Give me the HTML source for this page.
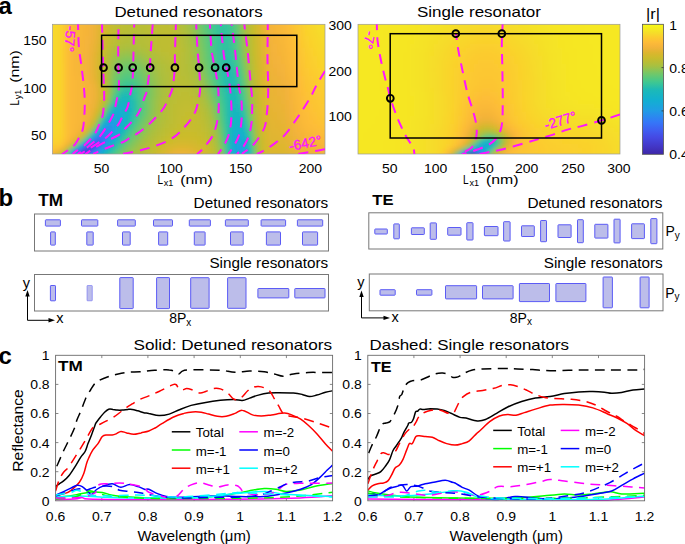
<!DOCTYPE html>
<html><head><meta charset="utf-8"><style>
html,body{margin:0;padding:0;background:#fff;width:685px;height:544px;overflow:hidden}
svg{display:block}
text{font-family:'Liberation Sans',sans-serif}
</style></head><body>
<svg width="685" height="544" viewBox="0 0 685 544">
<defs><linearGradient id="cbar" x1="0" y1="0" x2="0" y2="1"><stop offset="0.0000" stop-color="#f8fa14"/><stop offset="0.0156" stop-color="#f7f319"/><stop offset="0.0312" stop-color="#f6ec1e"/><stop offset="0.0469" stop-color="#f6e624"/><stop offset="0.0625" stop-color="#f5df28"/><stop offset="0.0781" stop-color="#f8d72b"/><stop offset="0.0938" stop-color="#fbcf2d"/><stop offset="0.1094" stop-color="#fcc830"/><stop offset="0.1250" stop-color="#fdc134"/><stop offset="0.1406" stop-color="#fdbb38"/><stop offset="0.1562" stop-color="#f9b739"/><stop offset="0.1719" stop-color="#f4b43a"/><stop offset="0.1875" stop-color="#eeb338"/><stop offset="0.2031" stop-color="#e5b433"/><stop offset="0.2188" stop-color="#ddb62e"/><stop offset="0.2344" stop-color="#d5b82d"/><stop offset="0.2500" stop-color="#cebb2c"/><stop offset="0.2656" stop-color="#c6bc2e"/><stop offset="0.2812" stop-color="#bdbd33"/><stop offset="0.2969" stop-color="#b5be38"/><stop offset="0.3125" stop-color="#acc03e"/><stop offset="0.3281" stop-color="#a1c145"/><stop offset="0.3438" stop-color="#93c350"/><stop offset="0.3594" stop-color="#85c55a"/><stop offset="0.3750" stop-color="#76c765"/><stop offset="0.3906" stop-color="#6ac86f"/><stop offset="0.4062" stop-color="#5dc878"/><stop offset="0.4219" stop-color="#51c882"/><stop offset="0.4375" stop-color="#45c88c"/><stop offset="0.4531" stop-color="#3ac696"/><stop offset="0.4688" stop-color="#31c2a0"/><stop offset="0.4844" stop-color="#28beaa"/><stop offset="0.5000" stop-color="#1ebab5"/><stop offset="0.5156" stop-color="#1ab8bb"/><stop offset="0.5312" stop-color="#18b6c0"/><stop offset="0.5469" stop-color="#16b4c5"/><stop offset="0.5625" stop-color="#14b2ca"/><stop offset="0.5781" stop-color="#12b0cf"/><stop offset="0.5938" stop-color="#14add3"/><stop offset="0.6094" stop-color="#17aad7"/><stop offset="0.6250" stop-color="#19a6db"/><stop offset="0.6406" stop-color="#1ca2df"/><stop offset="0.6562" stop-color="#1f9fe3"/><stop offset="0.6719" stop-color="#2299e7"/><stop offset="0.6875" stop-color="#2692ea"/><stop offset="0.7031" stop-color="#298cee"/><stop offset="0.7188" stop-color="#2d85f1"/><stop offset="0.7344" stop-color="#307ff4"/><stop offset="0.7500" stop-color="#3478f8"/><stop offset="0.7656" stop-color="#3772f7"/><stop offset="0.7812" stop-color="#396cf5"/><stop offset="0.7969" stop-color="#3c65f3"/><stop offset="0.8125" stop-color="#3f5ff2"/><stop offset="0.8281" stop-color="#4159ee"/><stop offset="0.8438" stop-color="#4253ea"/><stop offset="0.8594" stop-color="#444de6"/><stop offset="0.8750" stop-color="#4548e2"/><stop offset="0.8906" stop-color="#4444db"/><stop offset="0.9062" stop-color="#4440d4"/><stop offset="0.9219" stop-color="#433bce"/><stop offset="0.9375" stop-color="#4337c7"/><stop offset="0.9531" stop-color="#4233bf"/><stop offset="0.9688" stop-color="#402fb7"/><stop offset="0.9844" stop-color="#3f2ab0"/><stop offset="1.0000" stop-color="#3e26a8"/></linearGradient></defs>
<clipPath id="clipL"><rect x="52.5" y="24.3" width="272.5" height="129.7"/></clipPath>
<filter id="blurL" x="-5%" y="-5%" width="110%" height="110%"><feGaussianBlur stdDeviation="2.0"/></filter>
<g clip-path="url(#clipL)"><g filter="url(#blurL)" shape-rendering="crispEdges">
<path fill="#f8d82a" d="M44.5 16.3h4v4h-4zM48.5 16.3h4v4h-4zM52.5 16.3h4v4h-4zM44.5 20.3h4v4h-4zM48.5 20.3h4v4h-4zM52.5 20.3h4v4h-4zM44.5 24.3h4v4h-4zM48.5 24.3h4v4h-4zM52.5 24.3h4v4h-4zM44.5 28.3h4v4h-4zM48.5 28.3h4v4h-4zM52.5 28.3h4v4h-4zM312.5 28.3h4v4h-4zM44.5 32.3h4v4h-4zM48.5 32.3h4v4h-4zM52.5 32.3h4v4h-4zM44.5 36.3h4v4h-4zM48.5 36.3h4v4h-4zM52.5 36.3h4v4h-4zM316.5 36.3h4v4h-4zM44.5 40.3h4v4h-4zM48.5 40.3h4v4h-4zM52.5 40.3h4v4h-4zM44.5 44.3h4v4h-4zM48.5 44.3h4v4h-4zM52.5 44.3h4v4h-4zM44.5 48.3h4v4h-4zM48.5 48.3h4v4h-4zM52.5 48.3h4v4h-4zM320.5 48.3h4v4h-4zM44.5 52.3h4v4h-4zM48.5 52.3h4v4h-4zM52.5 52.3h4v4h-4zM44.5 56.3h4v4h-4zM48.5 56.3h4v4h-4zM52.5 56.3h4v4h-4zM44.5 60.3h4v4h-4zM48.5 60.3h4v4h-4zM52.5 60.3h4v4h-4zM44.5 64.3h4v4h-4zM48.5 64.3h4v4h-4zM52.5 64.3h4v4h-4zM44.5 68.3h4v4h-4zM48.5 68.3h4v4h-4zM52.5 68.3h4v4h-4zM44.5 72.3h4v4h-4zM48.5 72.3h4v4h-4zM52.5 72.3h4v4h-4zM44.5 76.3h4v4h-4zM48.5 76.3h4v4h-4zM52.5 76.3h4v4h-4zM44.5 80.3h4v4h-4zM48.5 80.3h4v4h-4zM52.5 80.3h4v4h-4zM44.5 84.3h4v4h-4zM48.5 84.3h4v4h-4zM52.5 84.3h4v4h-4zM44.5 88.3h4v4h-4zM48.5 88.3h4v4h-4zM52.5 88.3h4v4h-4zM44.5 92.3h4v4h-4zM48.5 92.3h4v4h-4zM52.5 92.3h4v4h-4zM44.5 96.3h4v4h-4zM48.5 96.3h4v4h-4zM52.5 96.3h4v4h-4zM44.5 100.3h4v4h-4zM48.5 100.3h4v4h-4zM52.5 100.3h4v4h-4zM44.5 104.3h4v4h-4zM48.5 104.3h4v4h-4zM52.5 104.3h4v4h-4zM44.5 108.3h4v4h-4zM48.5 108.3h4v4h-4zM52.5 108.3h4v4h-4zM44.5 112.3h4v4h-4zM48.5 112.3h4v4h-4zM44.5 116.3h4v4h-4zM48.5 116.3h4v4h-4zM44.5 120.3h4v4h-4zM48.5 120.3h4v4h-4z"/>
<path fill="#f8d62b" d="M56.5 16.3h4v4h-4zM56.5 20.3h4v4h-4zM56.5 24.3h4v4h-4zM308.5 24.3h4v4h-4zM56.5 28.3h4v4h-4zM56.5 32.3h4v4h-4zM56.5 36.3h4v4h-4zM56.5 40.3h4v4h-4zM56.5 44.3h4v4h-4zM316.5 44.3h4v4h-4zM56.5 48.3h4v4h-4zM56.5 52.3h4v4h-4zM56.5 56.3h4v4h-4zM56.5 60.3h4v4h-4zM56.5 64.3h4v4h-4zM56.5 68.3h4v4h-4zM56.5 72.3h4v4h-4zM56.5 76.3h4v4h-4zM56.5 80.3h4v4h-4zM56.5 84.3h4v4h-4zM56.5 88.3h4v4h-4zM56.5 92.3h4v4h-4zM56.5 96.3h4v4h-4zM56.5 100.3h4v4h-4zM56.5 104.3h4v4h-4zM56.5 108.3h4v4h-4zM56.5 112.3h4v4h-4zM56.5 116.3h4v4h-4zM56.5 120.3h4v4h-4z"/>
<path fill="#fccd2e" d="M60.5 16.3h4v4h-4zM60.5 20.3h4v4h-4zM60.5 24.3h4v4h-4zM60.5 28.3h4v4h-4zM60.5 32.3h4v4h-4zM60.5 36.3h4v4h-4zM60.5 40.3h4v4h-4zM60.5 44.3h4v4h-4zM308.5 60.3h4v4h-4zM60.5 64.3h4v4h-4zM60.5 68.3h4v4h-4zM312.5 68.3h4v4h-4zM60.5 72.3h4v4h-4zM60.5 76.3h4v4h-4zM60.5 80.3h4v4h-4zM60.5 84.3h4v4h-4zM60.5 88.3h4v4h-4zM320.5 88.3h4v4h-4zM60.5 92.3h4v4h-4zM324.5 92.3h4v4h-4zM328.5 92.3h4v4h-4zM332.5 92.3h4v4h-4zM60.5 96.3h4v4h-4zM60.5 100.3h4v4h-4zM60.5 104.3h4v4h-4zM60.5 108.3h4v4h-4zM60.5 112.3h4v4h-4zM60.5 116.3h4v4h-4z"/>
<path fill="#fdc035" d="M64.5 16.3h4v4h-4zM288.5 16.3h4v4h-4zM64.5 20.3h4v4h-4zM288.5 20.3h4v4h-4zM64.5 24.3h4v4h-4zM288.5 24.3h4v4h-4zM64.5 28.3h4v4h-4zM64.5 32.3h4v4h-4zM64.5 36.3h4v4h-4zM64.5 40.3h4v4h-4zM64.5 44.3h4v4h-4zM292.5 44.3h4v4h-4zM64.5 48.3h4v4h-4zM292.5 48.3h4v4h-4zM64.5 52.3h4v4h-4zM64.5 56.3h4v4h-4zM64.5 60.3h4v4h-4zM64.5 64.3h4v4h-4zM64.5 68.3h4v4h-4zM296.5 68.3h4v4h-4zM64.5 72.3h4v4h-4zM64.5 76.3h4v4h-4zM64.5 80.3h4v4h-4zM64.5 84.3h4v4h-4zM300.5 84.3h4v4h-4zM64.5 88.3h4v4h-4zM64.5 92.3h4v4h-4zM64.5 96.3h4v4h-4zM64.5 100.3h4v4h-4zM64.5 104.3h4v4h-4zM304.5 104.3h4v4h-4zM64.5 108.3h4v4h-4zM64.5 112.3h4v4h-4zM308.5 112.3h4v4h-4zM64.5 116.3h4v4h-4zM312.5 116.3h4v4h-4zM64.5 120.3h4v4h-4zM64.5 124.3h4v4h-4zM64.5 128.3h4v4h-4zM324.5 128.3h4v4h-4zM328.5 128.3h4v4h-4zM332.5 128.3h4v4h-4zM64.5 132.3h4v4h-4z"/>
<path fill="#fbba38" d="M68.5 16.3h4v4h-4zM68.5 20.3h4v4h-4zM68.5 24.3h4v4h-4zM68.5 28.3h4v4h-4zM68.5 32.3h4v4h-4zM68.5 76.3h4v4h-4zM292.5 76.3h4v4h-4zM68.5 80.3h4v4h-4zM68.5 84.3h4v4h-4zM68.5 88.3h4v4h-4zM68.5 92.3h4v4h-4zM68.5 96.3h4v4h-4zM296.5 96.3h4v4h-4zM68.5 100.3h4v4h-4zM68.5 104.3h4v4h-4zM68.5 108.3h4v4h-4zM68.5 112.3h4v4h-4zM68.5 116.3h4v4h-4zM68.5 120.3h4v4h-4zM68.5 124.3h4v4h-4zM68.5 128.3h4v4h-4zM308.5 128.3h4v4h-4zM320.5 136.3h4v4h-4z"/>
<path fill="#f9b739" d="M72.5 16.3h4v4h-4zM276.5 16.3h4v4h-4zM72.5 20.3h4v4h-4zM276.5 20.3h4v4h-4zM72.5 24.3h4v4h-4zM72.5 28.3h4v4h-4zM72.5 32.3h4v4h-4zM72.5 36.3h4v4h-4zM72.5 72.3h4v4h-4zM72.5 76.3h4v4h-4zM72.5 124.3h4v4h-4z"/>
<path fill="#f8b739" d="M76.5 16.3h4v4h-4zM76.5 20.3h4v4h-4zM76.5 24.3h4v4h-4zM276.5 24.3h4v4h-4zM76.5 28.3h4v4h-4zM276.5 28.3h4v4h-4zM76.5 32.3h4v4h-4zM76.5 36.3h4v4h-4zM280.5 36.3h4v4h-4zM72.5 40.3h4v4h-4zM280.5 40.3h4v4h-4zM72.5 44.3h4v4h-4zM72.5 48.3h4v4h-4zM72.5 52.3h4v4h-4zM72.5 56.3h4v4h-4zM284.5 56.3h4v4h-4zM72.5 60.3h4v4h-4zM284.5 60.3h4v4h-4zM72.5 64.3h4v4h-4zM72.5 68.3h4v4h-4zM76.5 76.3h4v4h-4zM288.5 76.3h4v4h-4zM76.5 80.3h4v4h-4zM76.5 84.3h4v4h-4zM76.5 88.3h4v4h-4zM76.5 92.3h4v4h-4zM76.5 96.3h4v4h-4zM292.5 96.3h4v4h-4zM76.5 100.3h4v4h-4zM292.5 100.3h4v4h-4zM76.5 104.3h4v4h-4zM76.5 108.3h4v4h-4zM76.5 112.3h4v4h-4zM76.5 116.3h4v4h-4zM296.5 116.3h4v4h-4zM76.5 120.3h4v4h-4zM72.5 128.3h4v4h-4zM300.5 128.3h4v4h-4zM304.5 132.3h4v4h-4zM68.5 136.3h4v4h-4zM312.5 136.3h4v4h-4zM324.5 144.3h4v4h-4zM328.5 144.3h4v4h-4zM332.5 144.3h4v4h-4z"/>
<path fill="#f7b639" d="M80.5 16.3h4v4h-4zM272.5 16.3h4v4h-4zM80.5 20.3h4v4h-4zM272.5 20.3h4v4h-4zM80.5 24.3h4v4h-4zM272.5 24.3h4v4h-4zM80.5 28.3h4v4h-4zM80.5 32.3h4v4h-4zM276.5 32.3h4v4h-4zM276.5 36.3h4v4h-4zM76.5 40.3h4v4h-4zM76.5 44.3h4v4h-4zM280.5 44.3h4v4h-4zM76.5 48.3h4v4h-4zM280.5 48.3h4v4h-4zM76.5 52.3h4v4h-4zM76.5 56.3h4v4h-4zM76.5 60.3h4v4h-4zM76.5 64.3h4v4h-4zM284.5 64.3h4v4h-4zM76.5 68.3h4v4h-4zM76.5 72.3h4v4h-4zM80.5 80.3h4v4h-4zM288.5 80.3h4v4h-4zM80.5 84.3h4v4h-4zM288.5 84.3h4v4h-4zM80.5 88.3h4v4h-4zM80.5 92.3h4v4h-4zM80.5 96.3h4v4h-4zM80.5 100.3h4v4h-4zM80.5 104.3h4v4h-4zM292.5 104.3h4v4h-4zM80.5 108.3h4v4h-4zM292.5 108.3h4v4h-4zM80.5 112.3h4v4h-4zM80.5 116.3h4v4h-4zM296.5 120.3h4v4h-4zM76.5 124.3h4v4h-4zM72.5 132.3h4v4h-4zM308.5 136.3h4v4h-4zM316.5 140.3h4v4h-4zM320.5 144.3h4v4h-4z"/>
<path fill="#f5b539" d="M84.5 16.3h4v4h-4zM268.5 16.3h4v4h-4zM84.5 20.3h4v4h-4zM268.5 20.3h4v4h-4zM84.5 24.3h4v4h-4zM272.5 36.3h4v4h-4zM276.5 48.3h4v4h-4zM80.5 52.3h4v4h-4zM80.5 56.3h4v4h-4zM80.5 60.3h4v4h-4zM280.5 60.3h4v4h-4zM80.5 64.3h4v4h-4zM288.5 96.3h4v4h-4zM84.5 104.3h4v4h-4zM84.5 108.3h4v4h-4zM292.5 116.3h4v4h-4zM296.5 128.3h4v4h-4z"/>
<path fill="#f3b23a" d="M88.5 16.3h4v4h-4zM88.5 20.3h4v4h-4zM284.5 92.3h4v4h-4zM316.5 148.3h4v4h-4z"/>
<path fill="#eeb338" d="M92.5 16.3h4v4h-4zM92.5 20.3h4v4h-4zM92.5 24.3h4v4h-4zM264.5 28.3h4v4h-4zM264.5 32.3h4v4h-4zM272.5 76.3h4v4h-4zM92.5 84.3h4v4h-4zM276.5 84.3h4v4h-4zM92.5 88.3h4v4h-4zM280.5 92.3h4v4h-4zM92.5 96.3h4v4h-4zM88.5 112.3h4v4h-4zM284.5 112.3h4v4h-4zM80.5 128.3h4v4h-4zM288.5 128.3h4v4h-4zM68.5 140.3h4v4h-4zM176.5 152.3h4v4h-4zM176.5 156.3h4v4h-4zM176.5 160.3h4v4h-4z"/>
<path fill="#e3b532" d="M96.5 16.3h4v4h-4zM96.5 20.3h4v4h-4zM260.5 32.3h4v4h-4zM92.5 56.3h4v4h-4zM92.5 60.3h4v4h-4zM92.5 64.3h4v4h-4zM92.5 68.3h4v4h-4zM264.5 80.3h4v4h-4zM264.5 84.3h4v4h-4zM268.5 120.3h4v4h-4zM272.5 124.3h4v4h-4zM276.5 128.3h4v4h-4zM280.5 132.3h4v4h-4zM284.5 140.3h4v4h-4zM60.5 148.3h4v4h-4zM184.5 148.3h4v4h-4zM288.5 148.3h4v4h-4zM192.5 152.3h4v4h-4zM192.5 156.3h4v4h-4zM192.5 160.3h4v4h-4z"/>
<path fill="#d8b72e" d="M100.5 16.3h4v4h-4zM100.5 20.3h4v4h-4zM256.5 24.3h4v4h-4zM256.5 28.3h4v4h-4zM96.5 52.3h4v4h-4zM260.5 92.3h4v4h-4zM260.5 96.3h4v4h-4zM172.5 144.3h4v4h-4zM188.5 144.3h4v4h-4zM264.5 144.3h4v4h-4zM196.5 148.3h4v4h-4z"/>
<path fill="#d0ba2d" d="M104.5 16.3h4v4h-4zM104.5 20.3h4v4h-4zM256.5 72.3h4v4h-4zM256.5 76.3h4v4h-4zM260.5 132.3h4v4h-4zM172.5 140.3h4v4h-4zM192.5 140.3h4v4h-4z"/>
<path fill="#c7bc2d" d="M108.5 16.3h4v4h-4zM108.5 20.3h4v4h-4zM108.5 24.3h4v4h-4zM104.5 44.3h4v4h-4zM100.5 56.3h4v4h-4zM252.5 60.3h4v4h-4zM256.5 112.3h4v4h-4zM180.5 128.3h4v4h-4zM192.5 128.3h4v4h-4zM196.5 132.3h4v4h-4zM200.5 136.3h4v4h-4z"/>
<path fill="#c2bd30" d="M112.5 16.3h4v4h-4zM112.5 20.3h4v4h-4zM252.5 72.3h4v4h-4zM180.5 108.3h4v4h-4zM176.5 116.3h4v4h-4zM196.5 120.3h4v4h-4zM256.5 124.3h4v4h-4zM200.5 128.3h4v4h-4zM204.5 136.3h4v4h-4zM68.5 144.3h4v4h-4z"/>
<path fill="#bfbd32" d="M116.5 16.3h4v4h-4zM248.5 16.3h4v4h-4zM116.5 20.3h4v4h-4zM248.5 20.3h4v4h-4zM116.5 24.3h4v4h-4zM164.5 40.3h4v4h-4zM164.5 44.3h4v4h-4zM168.5 44.3h4v4h-4zM168.5 48.3h4v4h-4zM252.5 84.3h4v4h-4zM188.5 100.3h4v4h-4zM176.5 104.3h4v4h-4zM196.5 112.3h4v4h-4zM172.5 116.3h4v4h-4zM204.5 132.3h4v4h-4zM152.5 144.3h4v4h-4z"/>
<path fill="#bdbd33" d="M120.5 16.3h4v4h-4zM156.5 16.3h4v4h-4zM160.5 16.3h4v4h-4zM164.5 16.3h4v4h-4zM120.5 20.3h4v4h-4zM156.5 20.3h4v4h-4zM160.5 20.3h4v4h-4zM164.5 20.3h4v4h-4zM152.5 24.3h4v4h-4zM156.5 24.3h4v4h-4zM164.5 24.3h4v4h-4zM116.5 28.3h4v4h-4zM156.5 28.3h4v4h-4zM168.5 28.3h4v4h-4zM156.5 32.3h4v4h-4zM168.5 32.3h4v4h-4zM248.5 32.3h4v4h-4zM112.5 36.3h4v4h-4zM156.5 36.3h4v4h-4zM156.5 40.3h4v4h-4zM172.5 40.3h4v4h-4zM156.5 44.3h4v4h-4zM172.5 44.3h4v4h-4zM160.5 48.3h4v4h-4zM168.5 52.3h4v4h-4zM252.5 88.3h4v4h-4zM180.5 92.3h4v4h-4zM184.5 92.3h4v4h-4zM176.5 96.3h4v4h-4zM188.5 96.3h4v4h-4zM172.5 104.3h4v4h-4zM196.5 108.3h4v4h-4zM164.5 128.3h4v4h-4zM208.5 140.3h4v4h-4z"/>
<path fill="#bbbe34" d="M124.5 16.3h4v4h-4zM148.5 16.3h4v4h-4zM168.5 16.3h4v4h-4zM124.5 20.3h4v4h-4zM148.5 20.3h4v4h-4zM168.5 20.3h4v4h-4zM116.5 32.3h4v4h-4zM172.5 32.3h4v4h-4zM112.5 40.3h4v4h-4zM152.5 40.3h4v4h-4zM152.5 44.3h4v4h-4zM168.5 56.3h4v4h-4zM172.5 56.3h4v4h-4zM184.5 88.3h4v4h-4zM168.5 116.3h4v4h-4z"/>
<path fill="#babe35" d="M128.5 16.3h4v4h-4zM140.5 16.3h4v4h-4zM144.5 16.3h4v4h-4zM128.5 20.3h4v4h-4zM140.5 20.3h4v4h-4zM144.5 20.3h4v4h-4zM124.5 24.3h4v4h-4zM144.5 24.3h4v4h-4zM120.5 28.3h4v4h-4zM144.5 28.3h4v4h-4zM172.5 28.3h4v4h-4zM148.5 32.3h4v4h-4zM116.5 36.3h4v4h-4zM148.5 36.3h4v4h-4zM176.5 40.3h4v4h-4zM248.5 44.3h4v4h-4zM160.5 52.3h4v4h-4zM164.5 56.3h4v4h-4zM176.5 56.3h4v4h-4zM172.5 60.3h4v4h-4zM176.5 84.3h4v4h-4zM180.5 84.3h4v4h-4zM172.5 96.3h4v4h-4zM192.5 96.3h4v4h-4zM168.5 104.3h4v4h-4zM196.5 104.3h4v4h-4zM168.5 108.3h4v4h-4zM200.5 112.3h4v4h-4zM164.5 124.3h4v4h-4zM204.5 124.3h4v4h-4zM152.5 140.3h4v4h-4z"/>
<path fill="#b9be36" d="M132.5 16.3h4v4h-4zM136.5 16.3h4v4h-4zM172.5 16.3h4v4h-4zM132.5 20.3h4v4h-4zM136.5 20.3h4v4h-4zM172.5 20.3h4v4h-4zM128.5 24.3h4v4h-4zM132.5 24.3h4v4h-4zM136.5 24.3h4v4h-4zM124.5 28.3h4v4h-4zM120.5 32.3h4v4h-4zM144.5 32.3h4v4h-4zM176.5 36.3h4v4h-4zM148.5 40.3h4v4h-4zM148.5 44.3h4v4h-4zM248.5 48.3h4v4h-4zM104.5 56.3h4v4h-4zM168.5 60.3h4v4h-4zM176.5 60.3h4v4h-4zM176.5 64.3h4v4h-4zM176.5 76.3h4v4h-4zM176.5 80.3h4v4h-4zM188.5 88.3h4v4h-4zM172.5 92.3h4v4h-4zM252.5 100.3h4v4h-4zM208.5 136.3h4v4h-4zM256.5 140.3h4v4h-4z"/>
<path fill="#bcbe34" d="M152.5 16.3h4v4h-4zM152.5 20.3h4v4h-4zM120.5 24.3h4v4h-4zM148.5 24.3h4v4h-4zM168.5 24.3h4v4h-4zM152.5 28.3h4v4h-4zM152.5 32.3h4v4h-4zM152.5 36.3h4v4h-4zM172.5 36.3h4v4h-4zM248.5 36.3h4v4h-4zM108.5 44.3h4v4h-4zM176.5 48.3h4v4h-4zM164.5 52.3h4v4h-4zM180.5 88.3h4v4h-4zM176.5 92.3h4v4h-4zM252.5 92.3h4v4h-4zM172.5 100.3h4v4h-4zM192.5 100.3h4v4h-4zM96.5 112.3h4v4h-4zM200.5 116.3h4v4h-4zM168.5 120.3h4v4h-4zM204.5 128.3h4v4h-4zM160.5 132.3h4v4h-4zM256.5 136.3h4v4h-4zM144.5 152.3h4v4h-4zM212.5 152.3h4v4h-4zM144.5 156.3h4v4h-4zM212.5 156.3h4v4h-4zM144.5 160.3h4v4h-4zM212.5 160.3h4v4h-4z"/>
<path fill="#b5be38" d="M176.5 16.3h4v4h-4zM176.5 20.3h4v4h-4zM176.5 24.3h4v4h-4zM124.5 36.3h4v4h-4zM136.5 36.3h4v4h-4zM120.5 40.3h4v4h-4zM140.5 40.3h4v4h-4zM180.5 40.3h4v4h-4zM168.5 72.3h4v4h-4zM184.5 72.3h4v4h-4zM168.5 76.3h4v4h-4zM168.5 80.3h4v4h-4zM168.5 84.3h4v4h-4zM168.5 88.3h4v4h-4zM164.5 104.3h4v4h-4zM164.5 108.3h4v4h-4zM160.5 124.3h4v4h-4zM152.5 136.3h4v4h-4zM140.5 152.3h4v4h-4zM140.5 156.3h4v4h-4zM140.5 160.3h4v4h-4z"/>
<path fill="#afbf3c" d="M180.5 16.3h4v4h-4zM180.5 20.3h4v4h-4zM244.5 24.3h4v4h-4zM184.5 40.3h4v4h-4zM124.5 44.3h4v4h-4zM112.5 48.3h4v4h-4zM148.5 52.3h4v4h-4zM152.5 56.3h4v4h-4zM160.5 68.3h4v4h-4zM192.5 80.3h4v4h-4zM160.5 104.3h4v4h-4zM160.5 108.3h4v4h-4zM252.5 116.3h4v4h-4zM156.5 124.3h4v4h-4zM208.5 124.3h4v4h-4zM80.5 136.3h4v4h-4zM212.5 140.3h4v4h-4zM136.5 152.3h4v4h-4zM136.5 156.3h4v4h-4zM136.5 160.3h4v4h-4z"/>
<path fill="#a8c040" d="M184.5 16.3h4v4h-4zM184.5 20.3h4v4h-4zM188.5 44.3h4v4h-4zM120.5 48.3h4v4h-4zM112.5 52.3h4v4h-4zM156.5 72.3h4v4h-4zM156.5 112.3h4v4h-4zM208.5 116.3h4v4h-4zM152.5 124.3h4v4h-4zM252.5 124.3h4v4h-4zM88.5 128.3h4v4h-4zM132.5 152.3h4v4h-4zM132.5 156.3h4v4h-4zM132.5 160.3h4v4h-4z"/>
<path fill="#9ac24a" d="M188.5 16.3h4v4h-4zM188.5 20.3h4v4h-4zM120.5 52.3h4v4h-4zM132.5 52.3h4v4h-4zM108.5 68.3h4v4h-4zM200.5 84.3h4v4h-4zM212.5 124.3h4v4h-4zM252.5 132.3h4v4h-4z"/>
<path fill="#89c557" d="M192.5 16.3h4v4h-4zM192.5 20.3h4v4h-4zM196.5 48.3h4v4h-4zM124.5 56.3h4v4h-4zM116.5 60.3h4v4h-4zM136.5 136.3h4v4h-4zM216.5 136.3h4v4h-4zM252.5 140.3h4v4h-4z"/>
<path fill="#77c765" d="M196.5 16.3h4v4h-4zM196.5 20.3h4v4h-4z"/>
<path fill="#66c872" d="M200.5 16.3h4v4h-4zM200.5 20.3h4v4h-4zM124.5 68.3h4v4h-4z"/>
<path fill="#56c87f" d="M204.5 16.3h4v4h-4zM204.5 20.3h4v4h-4zM208.5 60.3h4v4h-4zM248.5 132.3h4v4h-4z"/>
<path fill="#47c88a" d="M208.5 16.3h4v4h-4zM208.5 20.3h4v4h-4z"/>
<path fill="#3cc694" d="M212.5 16.3h4v4h-4zM212.5 20.3h4v4h-4zM228.5 32.3h4v4h-4zM236.5 76.3h4v4h-4z"/>
<path fill="#36c49b" d="M216.5 16.3h4v4h-4zM216.5 20.3h4v4h-4zM216.5 24.3h4v4h-4zM216.5 28.3h4v4h-4zM132.5 92.3h4v4h-4zM240.5 104.3h4v4h-4zM248.5 144.3h4v4h-4z"/>
<path fill="#33c39e" d="M220.5 16.3h4v4h-4zM220.5 20.3h4v4h-4zM220.5 24.3h4v4h-4zM220.5 28.3h4v4h-4zM224.5 32.3h4v4h-4zM236.5 84.3h4v4h-4zM112.5 100.3h4v4h-4zM96.5 124.3h4v4h-4zM80.5 140.3h4v4h-4z"/>
<path fill="#35c49b" d="M224.5 16.3h4v4h-4zM224.5 20.3h4v4h-4zM232.5 64.3h4v4h-4zM244.5 124.3h4v4h-4z"/>
<path fill="#41c88f" d="M228.5 16.3h4v4h-4zM228.5 20.3h4v4h-4zM212.5 48.3h4v4h-4zM236.5 72.3h4v4h-4zM136.5 100.3h4v4h-4z"/>
<path fill="#58c87c" d="M232.5 16.3h4v4h-4zM232.5 20.3h4v4h-4zM204.5 28.3h4v4h-4zM132.5 76.3h4v4h-4zM140.5 92.3h4v4h-4z"/>
<path fill="#75c866" d="M236.5 16.3h4v4h-4zM236.5 20.3h4v4h-4zM200.5 48.3h4v4h-4zM120.5 64.3h4v4h-4zM132.5 64.3h4v4h-4zM116.5 68.3h4v4h-4zM252.5 152.3h4v4h-4zM252.5 156.3h4v4h-4zM252.5 160.3h4v4h-4z"/>
<path fill="#96c34d" d="M240.5 16.3h4v4h-4zM240.5 20.3h4v4h-4zM192.5 40.3h4v4h-4zM148.5 68.3h4v4h-4zM196.5 68.3h4v4h-4zM152.5 80.3h4v4h-4z"/>
<path fill="#b0bf3b" d="M244.5 16.3h4v4h-4zM244.5 20.3h4v4h-4zM180.5 24.3h4v4h-4zM120.5 44.3h4v4h-4zM132.5 44.3h4v4h-4zM184.5 44.3h4v4h-4zM156.5 60.3h4v4h-4zM160.5 64.3h4v4h-4zM248.5 68.3h4v4h-4zM104.5 72.3h4v4h-4zM188.5 72.3h4v4h-4zM104.5 76.3h4v4h-4zM104.5 80.3h4v4h-4zM164.5 84.3h4v4h-4zM164.5 88.3h4v4h-4zM104.5 96.3h4v4h-4zM200.5 100.3h4v4h-4zM160.5 112.3h4v4h-4zM152.5 132.3h4v4h-4zM140.5 148.3h4v4h-4z"/>
<path fill="#cebb2c" d="M252.5 16.3h4v4h-4zM252.5 20.3h4v4h-4zM168.5 140.3h4v4h-4zM196.5 140.3h4v4h-4z"/>
<path fill="#d9b72e" d="M256.5 16.3h4v4h-4zM256.5 20.3h4v4h-4zM260.5 84.3h4v4h-4zM260.5 88.3h4v4h-4zM76.5 136.3h4v4h-4zM264.5 140.3h4v4h-4zM164.5 148.3h4v4h-4zM160.5 152.3h4v4h-4zM160.5 156.3h4v4h-4zM160.5 160.3h4v4h-4z"/>
<path fill="#e4b433" d="M260.5 16.3h4v4h-4zM260.5 20.3h4v4h-4zM92.5 108.3h4v4h-4zM276.5 124.3h4v4h-4zM280.5 128.3h4v4h-4z"/>
<path fill="#efb338" d="M264.5 16.3h4v4h-4zM264.5 20.3h4v4h-4zM264.5 24.3h4v4h-4zM88.5 48.3h4v4h-4zM268.5 68.3h4v4h-4zM88.5 76.3h4v4h-4zM276.5 80.3h4v4h-4zM92.5 92.3h4v4h-4zM284.5 108.3h4v4h-4zM292.5 136.3h4v4h-4zM304.5 148.3h4v4h-4zM180.5 152.3h4v4h-4zM180.5 156.3h4v4h-4zM180.5 160.3h4v4h-4z"/>
<path fill="#fab939" d="M280.5 16.3h4v4h-4zM280.5 20.3h4v4h-4zM284.5 44.3h4v4h-4zM292.5 84.3h4v4h-4zM296.5 104.3h4v4h-4zM300.5 120.3h4v4h-4zM304.5 128.3h4v4h-4zM324.5 140.3h4v4h-4zM328.5 140.3h4v4h-4zM332.5 140.3h4v4h-4z"/>
<path fill="#fdbb38" d="M284.5 16.3h4v4h-4zM284.5 20.3h4v4h-4zM284.5 24.3h4v4h-4zM288.5 44.3h4v4h-4zM288.5 48.3h4v4h-4zM292.5 68.3h4v4h-4zM296.5 84.3h4v4h-4zM296.5 88.3h4v4h-4zM300.5 104.3h4v4h-4zM300.5 108.3h4v4h-4zM304.5 120.3h4v4h-4zM308.5 124.3h4v4h-4z"/>
<path fill="#fcc532" d="M292.5 16.3h4v4h-4zM292.5 20.3h4v4h-4zM292.5 24.3h4v4h-4zM296.5 44.3h4v4h-4zM300.5 64.3h4v4h-4zM304.5 80.3h4v4h-4zM308.5 92.3h4v4h-4zM312.5 100.3h4v4h-4zM316.5 108.3h4v4h-4zM320.5 116.3h4v4h-4zM324.5 120.3h4v4h-4zM328.5 120.3h4v4h-4zM332.5 120.3h4v4h-4z"/>
<path fill="#fcca2f" d="M296.5 16.3h4v4h-4zM296.5 20.3h4v4h-4zM300.5 44.3h4v4h-4zM304.5 64.3h4v4h-4zM308.5 72.3h4v4h-4zM312.5 80.3h4v4h-4zM316.5 88.3h4v4h-4zM320.5 100.3h4v4h-4zM324.5 104.3h4v4h-4zM328.5 104.3h4v4h-4zM332.5 104.3h4v4h-4z"/>
<path fill="#fbcf2d" d="M300.5 16.3h4v4h-4zM300.5 20.3h4v4h-4zM308.5 52.3h4v4h-4zM312.5 64.3h4v4h-4zM316.5 72.3h4v4h-4zM320.5 80.3h4v4h-4zM324.5 84.3h4v4h-4zM328.5 84.3h4v4h-4zM332.5 84.3h4v4h-4z"/>
<path fill="#f9d42c" d="M304.5 16.3h4v4h-4zM304.5 20.3h4v4h-4zM304.5 24.3h4v4h-4zM308.5 32.3h4v4h-4zM312.5 44.3h4v4h-4zM320.5 64.3h4v4h-4zM324.5 68.3h4v4h-4zM328.5 68.3h4v4h-4zM332.5 68.3h4v4h-4z"/>
<path fill="#f8d72b" d="M308.5 16.3h4v4h-4zM308.5 20.3h4v4h-4zM312.5 32.3h4v4h-4zM316.5 40.3h4v4h-4zM320.5 52.3h4v4h-4zM324.5 60.3h4v4h-4zM328.5 60.3h4v4h-4zM332.5 60.3h4v4h-4zM52.5 120.3h4v4h-4zM44.5 124.3h4v4h-4zM48.5 124.3h4v4h-4zM52.5 124.3h4v4h-4zM44.5 128.3h4v4h-4zM48.5 128.3h4v4h-4z"/>
<path fill="#f7d92a" d="M312.5 16.3h4v4h-4zM312.5 20.3h4v4h-4zM312.5 24.3h4v4h-4zM316.5 32.3h4v4h-4zM320.5 44.3h4v4h-4z"/>
<path fill="#f6dc29" d="M316.5 16.3h4v4h-4zM316.5 20.3h4v4h-4zM320.5 32.3h4v4h-4zM324.5 40.3h4v4h-4zM328.5 40.3h4v4h-4zM332.5 40.3h4v4h-4z"/>
<path fill="#f5df28" d="M320.5 16.3h4v4h-4zM320.5 20.3h4v4h-4zM324.5 28.3h4v4h-4zM328.5 28.3h4v4h-4zM332.5 28.3h4v4h-4z"/>
<path fill="#f5e028" d="M324.5 16.3h4v4h-4zM328.5 16.3h4v4h-4zM332.5 16.3h4v4h-4zM324.5 20.3h4v4h-4zM328.5 20.3h4v4h-4zM332.5 20.3h4v4h-4zM324.5 24.3h4v4h-4zM328.5 24.3h4v4h-4zM332.5 24.3h4v4h-4z"/>
<path fill="#f2b23a" d="M88.5 24.3h4v4h-4zM88.5 28.3h4v4h-4zM88.5 32.3h4v4h-4zM88.5 36.3h4v4h-4zM268.5 52.3h4v4h-4zM268.5 56.3h4v4h-4zM272.5 64.3h4v4h-4zM276.5 72.3h4v4h-4zM280.5 76.3h4v4h-4zM280.5 80.3h4v4h-4zM284.5 96.3h4v4h-4zM88.5 104.3h4v4h-4zM288.5 116.3h4v4h-4zM84.5 120.3h4v4h-4zM76.5 132.3h4v4h-4zM72.5 136.3h4v4h-4zM296.5 136.3h4v4h-4zM304.5 144.3h4v4h-4z"/>
<path fill="#e2b532" d="M96.5 24.3h4v4h-4z"/>
<path fill="#d7b72e" d="M100.5 24.3h4v4h-4zM256.5 32.3h4v4h-4zM96.5 80.3h4v4h-4zM200.5 152.3h4v4h-4zM200.5 156.3h4v4h-4zM200.5 160.3h4v4h-4z"/>
<path fill="#cfba2d" d="M104.5 24.3h4v4h-4zM256.5 80.3h4v4h-4zM260.5 136.3h4v4h-4zM200.5 144.3h4v4h-4z"/>
<path fill="#c1bd31" d="M112.5 24.3h4v4h-4zM108.5 40.3h4v4h-4zM252.5 76.3h4v4h-4zM180.5 104.3h4v4h-4zM188.5 104.3h4v4h-4zM176.5 108.3h4v4h-4zM192.5 108.3h4v4h-4zM176.5 112.3h4v4h-4zM196.5 116.3h4v4h-4zM172.5 124.3h4v4h-4z"/>
<path fill="#b9be35" d="M140.5 24.3h4v4h-4zM172.5 24.3h4v4h-4zM180.5 80.3h4v4h-4zM184.5 84.3h4v4h-4z"/>
<path fill="#bebd33" d="M160.5 24.3h4v4h-4zM160.5 28.3h4v4h-4zM164.5 28.3h4v4h-4zM248.5 28.3h4v4h-4zM160.5 32.3h4v4h-4zM164.5 32.3h4v4h-4zM160.5 36.3h4v4h-4zM168.5 36.3h4v4h-4zM172.5 48.3h4v4h-4zM104.5 52.3h4v4h-4zM180.5 96.3h4v4h-4zM176.5 100.3h4v4h-4zM172.5 108.3h4v4h-4zM92.5 120.3h4v4h-4zM200.5 120.3h4v4h-4zM168.5 124.3h4v4h-4zM256.5 132.3h4v4h-4zM148.5 148.3h4v4h-4z"/>
<path fill="#a9c040" d="M184.5 24.3h4v4h-4zM244.5 44.3h4v4h-4z"/>
<path fill="#9bc24a" d="M188.5 24.3h4v4h-4zM144.5 60.3h4v4h-4zM196.5 72.3h4v4h-4zM92.5 124.3h4v4h-4zM148.5 124.3h4v4h-4z"/>
<path fill="#8ac456" d="M192.5 24.3h4v4h-4zM144.5 68.3h4v4h-4z"/>
<path fill="#78c764" d="M196.5 24.3h4v4h-4zM200.5 52.3h4v4h-4z"/>
<path fill="#66c871" d="M200.5 24.3h4v4h-4zM128.5 68.3h4v4h-4zM140.5 116.3h4v4h-4zM136.5 124.3h4v4h-4z"/>
<path fill="#56c87e" d="M204.5 24.3h4v4h-4zM120.5 76.3h4v4h-4zM212.5 84.3h4v4h-4z"/>
<path fill="#48c88a" d="M208.5 24.3h4v4h-4zM236.5 68.3h4v4h-4zM116.5 88.3h4v4h-4zM240.5 92.3h4v4h-4zM220.5 116.3h4v4h-4zM68.5 148.3h4v4h-4z"/>
<path fill="#3dc794" d="M212.5 24.3h4v4h-4zM216.5 80.3h4v4h-4zM240.5 100.3h4v4h-4z"/>
<path fill="#35c49c" d="M224.5 24.3h4v4h-4zM228.5 48.3h4v4h-4z"/>
<path fill="#40c890" d="M228.5 24.3h4v4h-4zM212.5 44.3h4v4h-4zM136.5 104.3h4v4h-4zM136.5 108.3h4v4h-4z"/>
<path fill="#57c87e" d="M232.5 24.3h4v4h-4zM220.5 128.3h4v4h-4z"/>
<path fill="#73c867" d="M236.5 24.3h4v4h-4zM136.5 68.3h4v4h-4zM204.5 72.3h4v4h-4zM244.5 92.3h4v4h-4zM248.5 120.3h4v4h-4zM220.5 152.3h4v4h-4zM220.5 156.3h4v4h-4zM220.5 160.3h4v4h-4z"/>
<path fill="#95c34e" d="M240.5 24.3h4v4h-4zM144.5 128.3h4v4h-4z"/>
<path fill="#bebd32" d="M248.5 24.3h4v4h-4zM112.5 32.3h4v4h-4zM164.5 36.3h4v4h-4zM160.5 40.3h4v4h-4zM168.5 40.3h4v4h-4zM160.5 44.3h4v4h-4zM164.5 48.3h4v4h-4zM184.5 96.3h4v4h-4zM192.5 104.3h4v4h-4zM172.5 112.3h4v4h-4z"/>
<path fill="#cdbb2c" d="M252.5 24.3h4v4h-4zM252.5 28.3h4v4h-4zM104.5 32.3h4v4h-4zM100.5 88.3h4v4h-4zM256.5 88.3h4v4h-4zM100.5 92.3h4v4h-4zM256.5 92.3h4v4h-4zM88.5 124.3h4v4h-4zM180.5 136.3h4v4h-4zM184.5 136.3h4v4h-4zM188.5 136.3h4v4h-4zM260.5 144.3h4v4h-4zM156.5 148.3h4v4h-4z"/>
<path fill="#e4b532" d="M260.5 24.3h4v4h-4zM260.5 28.3h4v4h-4zM92.5 72.3h4v4h-4zM264.5 76.3h4v4h-4zM268.5 116.3h4v4h-4zM272.5 120.3h4v4h-4zM176.5 148.3h4v4h-4z"/>
<path fill="#f5b439" d="M268.5 24.3h4v4h-4zM84.5 28.3h4v4h-4zM84.5 32.3h4v4h-4zM272.5 40.3h4v4h-4zM276.5 52.3h4v4h-4zM284.5 76.3h4v4h-4zM308.5 140.3h4v4h-4zM316.5 144.3h4v4h-4z"/>
<path fill="#fab839" d="M280.5 24.3h4v4h-4zM288.5 68.3h4v4h-4zM292.5 88.3h4v4h-4zM296.5 108.3h4v4h-4zM316.5 136.3h4v4h-4z"/>
<path fill="#fcc930" d="M296.5 24.3h4v4h-4zM296.5 28.3h4v4h-4zM300.5 48.3h4v4h-4zM304.5 68.3h4v4h-4zM308.5 76.3h4v4h-4zM312.5 84.3h4v4h-4zM316.5 92.3h4v4h-4zM320.5 104.3h4v4h-4zM324.5 108.3h4v4h-4zM328.5 108.3h4v4h-4zM332.5 108.3h4v4h-4zM56.5 144.3h4v4h-4z"/>
<path fill="#fbce2d" d="M300.5 24.3h4v4h-4zM304.5 44.3h4v4h-4zM308.5 56.3h4v4h-4zM324.5 88.3h4v4h-4zM328.5 88.3h4v4h-4zM332.5 88.3h4v4h-4z"/>
<path fill="#f7dc29" d="M316.5 24.3h4v4h-4z"/>
<path fill="#f6de29" d="M320.5 24.3h4v4h-4zM324.5 32.3h4v4h-4zM328.5 32.3h4v4h-4zM332.5 32.3h4v4h-4z"/>
<path fill="#edb337" d="M92.5 28.3h4v4h-4zM92.5 32.3h4v4h-4zM264.5 36.3h4v4h-4zM88.5 52.3h4v4h-4zM88.5 72.3h4v4h-4zM272.5 80.3h4v4h-4zM276.5 88.3h4v4h-4zM280.5 96.3h4v4h-4zM296.5 144.3h4v4h-4zM184.5 152.3h4v4h-4zM312.5 152.3h4v4h-4zM184.5 156.3h4v4h-4zM312.5 156.3h4v4h-4zM184.5 160.3h4v4h-4zM312.5 160.3h4v4h-4z"/>
<path fill="#e2b531" d="M96.5 28.3h4v4h-4zM260.5 36.3h4v4h-4zM260.5 40.3h4v4h-4zM264.5 88.3h4v4h-4zM268.5 124.3h4v4h-4zM268.5 128.3h4v4h-4zM272.5 128.3h4v4h-4zM276.5 132.3h4v4h-4zM280.5 136.3h4v4h-4zM172.5 148.3h4v4h-4zM288.5 152.3h4v4h-4zM288.5 156.3h4v4h-4zM288.5 160.3h4v4h-4z"/>
<path fill="#d7b82d" d="M100.5 28.3h4v4h-4zM256.5 36.3h4v4h-4zM260.5 100.3h4v4h-4zM264.5 148.3h4v4h-4z"/>
<path fill="#ceba2d" d="M104.5 28.3h4v4h-4zM100.5 48.3h4v4h-4zM256.5 84.3h4v4h-4zM100.5 96.3h4v4h-4zM260.5 140.3h4v4h-4zM204.5 148.3h4v4h-4z"/>
<path fill="#c5bc2e" d="M108.5 28.3h4v4h-4zM100.5 60.3h4v4h-4zM100.5 80.3h4v4h-4zM100.5 100.3h4v4h-4zM184.5 120.3h4v4h-4zM180.5 124.3h4v4h-4zM196.5 128.3h4v4h-4zM152.5 148.3h4v4h-4z"/>
<path fill="#c0bd32" d="M112.5 28.3h4v4h-4zM180.5 100.3h4v4h-4zM172.5 120.3h4v4h-4zM160.5 136.3h4v4h-4z"/>
<path fill="#b7be37" d="M128.5 28.3h4v4h-4zM132.5 28.3h4v4h-4zM136.5 28.3h4v4h-4zM176.5 28.3h4v4h-4zM124.5 32.3h4v4h-4zM140.5 32.3h4v4h-4zM120.5 36.3h4v4h-4zM144.5 40.3h4v4h-4zM108.5 48.3h4v4h-4zM156.5 52.3h4v4h-4zM180.5 52.3h4v4h-4zM160.5 56.3h4v4h-4zM180.5 56.3h4v4h-4zM164.5 60.3h4v4h-4zM180.5 64.3h4v4h-4zM180.5 72.3h4v4h-4zM188.5 84.3h4v4h-4zM192.5 92.3h4v4h-4zM168.5 96.3h4v4h-4zM196.5 100.3h4v4h-4zM252.5 104.3h4v4h-4zM200.5 108.3h4v4h-4zM164.5 116.3h4v4h-4zM204.5 120.3h4v4h-4zM256.5 144.3h4v4h-4zM144.5 148.3h4v4h-4z"/>
<path fill="#b8be36" d="M140.5 28.3h4v4h-4zM176.5 32.3h4v4h-4zM144.5 36.3h4v4h-4zM116.5 40.3h4v4h-4zM152.5 48.3h4v4h-4zM180.5 48.3h4v4h-4zM248.5 52.3h4v4h-4zM176.5 68.3h4v4h-4zM176.5 72.3h4v4h-4zM180.5 76.3h4v4h-4zM184.5 80.3h4v4h-4zM172.5 84.3h4v4h-4zM172.5 88.3h4v4h-4zM168.5 100.3h4v4h-4zM100.5 104.3h4v4h-4zM164.5 120.3h4v4h-4zM160.5 128.3h4v4h-4zM148.5 144.3h4v4h-4zM212.5 148.3h4v4h-4z"/>
<path fill="#bbbe35" d="M148.5 28.3h4v4h-4zM248.5 40.3h4v4h-4zM176.5 44.3h4v4h-4zM156.5 48.3h4v4h-4zM176.5 52.3h4v4h-4zM176.5 88.3h4v4h-4zM188.5 92.3h4v4h-4zM252.5 96.3h4v4h-4zM168.5 112.3h4v4h-4zM156.5 136.3h4v4h-4z"/>
<path fill="#b1bf3a" d="M180.5 28.3h4v4h-4zM164.5 76.3h4v4h-4zM192.5 84.3h4v4h-4zM204.5 112.3h4v4h-4zM144.5 144.3h4v4h-4z"/>
<path fill="#aac03f" d="M184.5 28.3h4v4h-4zM244.5 40.3h4v4h-4zM136.5 48.3h4v4h-4zM188.5 48.3h4v4h-4zM148.5 56.3h4v4h-4zM156.5 68.3h4v4h-4zM248.5 80.3h4v4h-4zM196.5 84.3h4v4h-4zM160.5 88.3h4v4h-4zM160.5 92.3h4v4h-4zM140.5 144.3h4v4h-4z"/>
<path fill="#9ec147" d="M188.5 28.3h4v4h-4zM192.5 56.3h4v4h-4z"/>
<path fill="#8dc454" d="M192.5 28.3h4v4h-4zM240.5 36.3h4v4h-4zM120.5 56.3h4v4h-4zM132.5 56.3h4v4h-4zM244.5 72.3h4v4h-4zM124.5 152.3h4v4h-4zM124.5 156.3h4v4h-4zM124.5 160.3h4v4h-4z"/>
<path fill="#7bc762" d="M196.5 28.3h4v4h-4z"/>
<path fill="#69c86f" d="M200.5 28.3h4v4h-4zM212.5 96.3h4v4h-4z"/>
<path fill="#49c889" d="M208.5 28.3h4v4h-4zM232.5 44.3h4v4h-4zM120.5 80.3h4v4h-4zM216.5 92.3h4v4h-4zM100.5 116.3h4v4h-4z"/>
<path fill="#3dc793" d="M212.5 28.3h4v4h-4zM120.5 84.3h4v4h-4zM244.5 120.3h4v4h-4z"/>
<path fill="#34c39d" d="M224.5 28.3h4v4h-4zM228.5 52.3h4v4h-4zM120.5 88.3h4v4h-4zM116.5 92.3h4v4h-4zM220.5 92.3h4v4h-4zM224.5 144.3h4v4h-4z"/>
<path fill="#3ec792" d="M228.5 28.3h4v4h-4zM212.5 32.3h4v4h-4zM116.5 144.3h4v4h-4z"/>
<path fill="#54c880" d="M232.5 28.3h4v4h-4zM236.5 60.3h4v4h-4zM240.5 84.3h4v4h-4z"/>
<path fill="#71c869" d="M236.5 28.3h4v4h-4zM144.5 108.3h4v4h-4zM136.5 128.3h4v4h-4zM128.5 140.3h4v4h-4z"/>
<path fill="#93c350" d="M240.5 28.3h4v4h-4zM196.5 64.3h4v4h-4zM244.5 68.3h4v4h-4z"/>
<path fill="#aebf3c" d="M244.5 28.3h4v4h-4zM128.5 44.3h4v4h-4zM188.5 68.3h4v4h-4zM248.5 72.3h4v4h-4zM204.5 108.3h4v4h-4zM148.5 136.3h4v4h-4z"/>
<path fill="#f5b43a" d="M268.5 28.3h4v4h-4zM84.5 36.3h4v4h-4zM272.5 44.3h4v4h-4zM280.5 64.3h4v4h-4zM84.5 80.3h4v4h-4zM288.5 100.3h4v4h-4zM84.5 112.3h4v4h-4zM292.5 120.3h4v4h-4z"/>
<path fill="#f6b539" d="M272.5 28.3h4v4h-4zM272.5 32.3h4v4h-4zM80.5 40.3h4v4h-4zM80.5 44.3h4v4h-4zM276.5 44.3h4v4h-4zM80.5 48.3h4v4h-4zM280.5 56.3h4v4h-4zM80.5 68.3h4v4h-4zM80.5 72.3h4v4h-4zM284.5 72.3h4v4h-4zM84.5 84.3h4v4h-4zM84.5 88.3h4v4h-4zM288.5 88.3h4v4h-4zM84.5 92.3h4v4h-4zM288.5 92.3h4v4h-4zM84.5 96.3h4v4h-4zM84.5 100.3h4v4h-4zM292.5 112.3h4v4h-4zM80.5 120.3h4v4h-4zM76.5 128.3h4v4h-4zM300.5 132.3h4v4h-4zM312.5 140.3h4v4h-4zM324.5 148.3h4v4h-4zM328.5 148.3h4v4h-4zM332.5 148.3h4v4h-4z"/>
<path fill="#f9b839" d="M280.5 28.3h4v4h-4zM280.5 32.3h4v4h-4zM284.5 48.3h4v4h-4zM284.5 52.3h4v4h-4zM288.5 72.3h4v4h-4zM72.5 80.3h4v4h-4zM72.5 84.3h4v4h-4zM72.5 88.3h4v4h-4zM72.5 92.3h4v4h-4zM292.5 92.3h4v4h-4zM72.5 96.3h4v4h-4zM72.5 100.3h4v4h-4zM72.5 104.3h4v4h-4zM72.5 108.3h4v4h-4zM72.5 112.3h4v4h-4zM296.5 112.3h4v4h-4zM72.5 116.3h4v4h-4zM72.5 120.3h4v4h-4zM300.5 124.3h4v4h-4zM308.5 132.3h4v4h-4zM320.5 140.3h4v4h-4zM56.5 148.3h4v4h-4z"/>
<path fill="#fcba38" d="M284.5 28.3h4v4h-4zM284.5 32.3h4v4h-4zM288.5 52.3h4v4h-4zM288.5 56.3h4v4h-4zM292.5 72.3h4v4h-4zM296.5 92.3h4v4h-4zM300.5 112.3h4v4h-4zM304.5 124.3h4v4h-4zM316.5 132.3h4v4h-4z"/>
<path fill="#fdbf36" d="M288.5 28.3h4v4h-4zM292.5 52.3h4v4h-4zM300.5 88.3h4v4h-4zM304.5 108.3h4v4h-4zM312.5 120.3h4v4h-4zM316.5 124.3h4v4h-4zM320.5 128.3h4v4h-4zM52.5 148.3h4v4h-4z"/>
<path fill="#fcc433" d="M292.5 28.3h4v4h-4zM296.5 48.3h4v4h-4zM300.5 68.3h4v4h-4zM304.5 84.3h4v4h-4zM308.5 96.3h4v4h-4zM312.5 104.3h4v4h-4zM316.5 112.3h4v4h-4z"/>
<path fill="#fbcd2e" d="M300.5 28.3h4v4h-4zM304.5 48.3h4v4h-4z"/>
<path fill="#fad32c" d="M304.5 28.3h4v4h-4zM312.5 48.3h4v4h-4zM320.5 68.3h4v4h-4zM324.5 72.3h4v4h-4zM328.5 72.3h4v4h-4zM332.5 72.3h4v4h-4zM52.5 136.3h4v4h-4zM56.5 136.3h4v4h-4z"/>
<path fill="#f9d52b" d="M308.5 28.3h4v4h-4zM312.5 40.3h4v4h-4zM316.5 48.3h4v4h-4zM320.5 60.3h4v4h-4zM324.5 64.3h4v4h-4zM328.5 64.3h4v4h-4zM332.5 64.3h4v4h-4zM56.5 128.3h4v4h-4zM44.5 132.3h4v4h-4zM48.5 132.3h4v4h-4zM52.5 132.3h4v4h-4z"/>
<path fill="#f7db2a" d="M316.5 28.3h4v4h-4zM324.5 44.3h4v4h-4zM328.5 44.3h4v4h-4zM332.5 44.3h4v4h-4z"/>
<path fill="#f6dd29" d="M320.5 28.3h4v4h-4zM324.5 36.3h4v4h-4zM328.5 36.3h4v4h-4zM332.5 36.3h4v4h-4z"/>
<path fill="#e1b531" d="M96.5 32.3h4v4h-4zM260.5 44.3h4v4h-4zM264.5 92.3h4v4h-4zM264.5 96.3h4v4h-4zM268.5 132.3h4v4h-4zM272.5 132.3h4v4h-4zM276.5 136.3h4v4h-4zM284.5 144.3h4v4h-4zM164.5 152.3h4v4h-4zM164.5 156.3h4v4h-4zM164.5 160.3h4v4h-4z"/>
<path fill="#d6b82d" d="M100.5 32.3h4v4h-4zM256.5 40.3h4v4h-4zM256.5 44.3h4v4h-4zM260.5 104.3h4v4h-4zM260.5 108.3h4v4h-4zM264.5 152.3h4v4h-4zM264.5 156.3h4v4h-4zM264.5 160.3h4v4h-4z"/>
<path fill="#c4bd2f" d="M108.5 32.3h4v4h-4zM100.5 64.3h4v4h-4zM252.5 68.3h4v4h-4zM184.5 112.3h4v4h-4zM188.5 112.3h4v4h-4zM180.5 116.3h4v4h-4zM192.5 116.3h4v4h-4zM180.5 120.3h4v4h-4zM256.5 120.3h4v4h-4zM176.5 124.3h4v4h-4zM196.5 124.3h4v4h-4zM168.5 132.3h4v4h-4zM200.5 132.3h4v4h-4zM164.5 136.3h4v4h-4z"/>
<path fill="#b6be38" d="M128.5 32.3h4v4h-4zM132.5 32.3h4v4h-4zM112.5 44.3h4v4h-4zM104.5 60.3h4v4h-4zM168.5 68.3h4v4h-4zM168.5 92.3h4v4h-4zM164.5 112.3h4v4h-4zM208.5 132.3h4v4h-4z"/>
<path fill="#b6be37" d="M136.5 32.3h4v4h-4zM140.5 36.3h4v4h-4zM144.5 44.3h4v4h-4zM180.5 44.3h4v4h-4zM248.5 56.3h4v4h-4zM180.5 60.3h4v4h-4zM168.5 64.3h4v4h-4zM180.5 68.3h4v4h-4zM184.5 76.3h4v4h-4zM104.5 88.3h4v4h-4zM156.5 132.3h4v4h-4z"/>
<path fill="#b3bf39" d="M180.5 32.3h4v4h-4zM124.5 40.3h4v4h-4zM184.5 64.3h4v4h-4zM164.5 68.3h4v4h-4zM184.5 68.3h4v4h-4zM104.5 92.3h4v4h-4zM164.5 100.3h4v4h-4zM200.5 104.3h4v4h-4zM208.5 128.3h4v4h-4zM148.5 140.3h4v4h-4z"/>
<path fill="#acc03e" d="M184.5 32.3h4v4h-4zM188.5 60.3h4v4h-4zM156.5 64.3h4v4h-4zM192.5 76.3h4v4h-4zM248.5 76.3h4v4h-4zM160.5 96.3h4v4h-4zM200.5 96.3h4v4h-4zM156.5 120.3h4v4h-4zM208.5 120.3h4v4h-4zM152.5 128.3h4v4h-4zM144.5 140.3h4v4h-4z"/>
<path fill="#a1c145" d="M188.5 32.3h4v4h-4zM244.5 56.3h4v4h-4zM152.5 68.3h4v4h-4zM156.5 84.3h4v4h-4zM200.5 88.3h4v4h-4zM212.5 128.3h4v4h-4zM252.5 128.3h4v4h-4z"/>
<path fill="#90c452" d="M192.5 32.3h4v4h-4zM240.5 32.3h4v4h-4zM128.5 148.3h4v4h-4z"/>
<path fill="#7ec65f" d="M196.5 32.3h4v4h-4zM140.5 68.3h4v4h-4zM144.5 76.3h4v4h-4zM244.5 84.3h4v4h-4z"/>
<path fill="#6bc86d" d="M200.5 32.3h4v4h-4zM236.5 36.3h4v4h-4z"/>
<path fill="#5ac87b" d="M204.5 32.3h4v4h-4zM236.5 56.3h4v4h-4zM208.5 68.3h4v4h-4zM140.5 100.3h4v4h-4zM140.5 108.3h4v4h-4z"/>
<path fill="#4bc887" d="M208.5 32.3h4v4h-4z"/>
<path fill="#36c49a" d="M216.5 32.3h4v4h-4zM128.5 124.3h4v4h-4z"/>
<path fill="#32c39f" d="M220.5 32.3h4v4h-4z"/>
<path fill="#52c882" d="M232.5 32.3h4v4h-4zM128.5 76.3h4v4h-4zM112.5 152.3h4v4h-4zM112.5 156.3h4v4h-4zM112.5 160.3h4v4h-4z"/>
<path fill="#6ec86b" d="M236.5 32.3h4v4h-4zM204.5 68.3h4v4h-4zM244.5 96.3h4v4h-4zM124.5 144.3h4v4h-4zM220.5 148.3h4v4h-4z"/>
<path fill="#adbf3d" d="M244.5 32.3h4v4h-4zM184.5 36.3h4v4h-4zM140.5 48.3h4v4h-4zM188.5 64.3h4v4h-4zM196.5 88.3h4v4h-4z"/>
<path fill="#ccbb2c" d="M252.5 32.3h4v4h-4zM104.5 36.3h4v4h-4zM252.5 36.3h4v4h-4zM256.5 96.3h4v4h-4zM96.5 108.3h4v4h-4zM176.5 136.3h4v4h-4zM192.5 136.3h4v4h-4zM160.5 144.3h4v4h-4zM260.5 148.3h4v4h-4z"/>
<path fill="#f4b43a" d="M268.5 32.3h4v4h-4zM84.5 40.3h4v4h-4zM84.5 44.3h4v4h-4zM272.5 48.3h4v4h-4zM276.5 56.3h4v4h-4zM276.5 60.3h4v4h-4zM280.5 68.3h4v4h-4zM84.5 76.3h4v4h-4zM284.5 80.3h4v4h-4zM288.5 104.3h4v4h-4zM84.5 116.3h4v4h-4zM80.5 124.3h4v4h-4zM296.5 132.3h4v4h-4zM300.5 136.3h4v4h-4zM304.5 140.3h4v4h-4zM320.5 148.3h4v4h-4zM44.5 152.3h4v4h-4zM48.5 152.3h4v4h-4zM324.5 152.3h4v4h-4zM328.5 152.3h4v4h-4zM332.5 152.3h4v4h-4zM44.5 156.3h4v4h-4zM48.5 156.3h4v4h-4zM324.5 156.3h4v4h-4zM328.5 156.3h4v4h-4zM332.5 156.3h4v4h-4zM44.5 160.3h4v4h-4zM48.5 160.3h4v4h-4zM324.5 160.3h4v4h-4zM328.5 160.3h4v4h-4zM332.5 160.3h4v4h-4z"/>
<path fill="#fdbe36" d="M288.5 32.3h4v4h-4zM292.5 56.3h4v4h-4zM296.5 72.3h4v4h-4zM300.5 92.3h4v4h-4zM308.5 116.3h4v4h-4zM64.5 136.3h4v4h-4z"/>
<path fill="#fdc333" d="M292.5 32.3h4v4h-4zM296.5 52.3h4v4h-4zM300.5 72.3h4v4h-4zM304.5 88.3h4v4h-4zM308.5 100.3h4v4h-4zM312.5 108.3h4v4h-4zM316.5 116.3h4v4h-4zM320.5 120.3h4v4h-4zM324.5 124.3h4v4h-4zM328.5 124.3h4v4h-4zM332.5 124.3h4v4h-4z"/>
<path fill="#fcc831" d="M296.5 32.3h4v4h-4zM320.5 108.3h4v4h-4z"/>
<path fill="#fccc2e" d="M300.5 32.3h4v4h-4zM300.5 36.3h4v4h-4zM60.5 48.3h4v4h-4zM60.5 52.3h4v4h-4zM304.5 52.3h4v4h-4zM60.5 56.3h4v4h-4zM60.5 60.3h4v4h-4zM308.5 64.3h4v4h-4zM312.5 72.3h4v4h-4zM316.5 80.3h4v4h-4zM320.5 92.3h4v4h-4zM324.5 96.3h4v4h-4zM328.5 96.3h4v4h-4zM332.5 96.3h4v4h-4zM60.5 120.3h4v4h-4zM60.5 124.3h4v4h-4zM60.5 128.3h4v4h-4zM60.5 132.3h4v4h-4zM44.5 144.3h4v4h-4zM48.5 144.3h4v4h-4z"/>
<path fill="#fad22c" d="M304.5 32.3h4v4h-4zM308.5 40.3h4v4h-4zM312.5 52.3h4v4h-4zM316.5 60.3h4v4h-4zM324.5 76.3h4v4h-4zM328.5 76.3h4v4h-4zM332.5 76.3h4v4h-4z"/>
<path fill="#fbb938" d="M68.5 36.3h4v4h-4zM284.5 36.3h4v4h-4zM68.5 40.3h4v4h-4zM68.5 44.3h4v4h-4zM68.5 48.3h4v4h-4zM68.5 52.3h4v4h-4zM68.5 56.3h4v4h-4zM68.5 60.3h4v4h-4zM288.5 60.3h4v4h-4zM68.5 64.3h4v4h-4zM68.5 68.3h4v4h-4zM68.5 72.3h4v4h-4zM292.5 80.3h4v4h-4zM296.5 100.3h4v4h-4zM300.5 116.3h4v4h-4zM68.5 132.3h4v4h-4zM64.5 140.3h4v4h-4z"/>
<path fill="#f6b639" d="M80.5 36.3h4v4h-4zM276.5 40.3h4v4h-4zM280.5 52.3h4v4h-4zM284.5 68.3h4v4h-4zM80.5 76.3h4v4h-4zM296.5 124.3h4v4h-4zM304.5 136.3h4v4h-4z"/>
<path fill="#ecb337" d="M92.5 36.3h4v4h-4zM264.5 40.3h4v4h-4zM88.5 56.3h4v4h-4zM88.5 60.3h4v4h-4zM88.5 64.3h4v4h-4zM88.5 68.3h4v4h-4zM268.5 76.3h4v4h-4zM272.5 84.3h4v4h-4zM276.5 92.3h4v4h-4zM92.5 100.3h4v4h-4zM280.5 100.3h4v4h-4zM284.5 116.3h4v4h-4zM288.5 132.3h4v4h-4zM292.5 140.3h4v4h-4zM300.5 148.3h4v4h-4zM172.5 152.3h4v4h-4zM304.5 152.3h4v4h-4zM308.5 152.3h4v4h-4zM172.5 156.3h4v4h-4zM304.5 156.3h4v4h-4zM308.5 156.3h4v4h-4zM172.5 160.3h4v4h-4zM304.5 160.3h4v4h-4zM308.5 160.3h4v4h-4z"/>
<path fill="#e0b530" d="M96.5 36.3h4v4h-4zM260.5 48.3h4v4h-4zM260.5 52.3h4v4h-4zM96.5 96.3h4v4h-4zM264.5 100.3h4v4h-4zM268.5 136.3h4v4h-4zM272.5 136.3h4v4h-4zM276.5 140.3h4v4h-4zM280.5 140.3h4v4h-4zM188.5 148.3h4v4h-4zM284.5 148.3h4v4h-4z"/>
<path fill="#d5b82d" d="M100.5 36.3h4v4h-4zM256.5 48.3h4v4h-4zM256.5 52.3h4v4h-4zM96.5 56.3h4v4h-4zM96.5 76.3h4v4h-4zM96.5 104.3h4v4h-4zM260.5 112.3h4v4h-4zM84.5 128.3h4v4h-4zM168.5 144.3h4v4h-4zM192.5 144.3h4v4h-4z"/>
<path fill="#c3bd30" d="M108.5 36.3h4v4h-4zM104.5 48.3h4v4h-4zM100.5 68.3h4v4h-4zM100.5 72.3h4v4h-4zM184.5 108.3h4v4h-4zM188.5 108.3h4v4h-4zM180.5 112.3h4v4h-4zM192.5 112.3h4v4h-4zM176.5 120.3h4v4h-4zM148.5 152.3h4v4h-4zM148.5 156.3h4v4h-4zM148.5 160.3h4v4h-4z"/>
<path fill="#b4bf39" d="M128.5 36.3h4v4h-4zM132.5 36.3h4v4h-4zM180.5 36.3h4v4h-4zM136.5 40.3h4v4h-4zM140.5 44.3h4v4h-4zM152.5 52.3h4v4h-4zM156.5 56.3h4v4h-4zM160.5 60.3h4v4h-4zM104.5 64.3h4v4h-4zM164.5 64.3h4v4h-4zM192.5 88.3h4v4h-4zM196.5 96.3h4v4h-4zM252.5 108.3h4v4h-4zM204.5 116.3h4v4h-4zM212.5 144.3h4v4h-4zM256.5 148.3h4v4h-4z"/>
<path fill="#a3c143" d="M188.5 36.3h4v4h-4z"/>
<path fill="#93c34f" d="M192.5 36.3h4v4h-4zM116.5 56.3h4v4h-4zM136.5 56.3h4v4h-4zM152.5 84.3h4v4h-4zM152.5 96.3h4v4h-4zM148.5 120.3h4v4h-4zM212.5 120.3h4v4h-4z"/>
<path fill="#80c65d" d="M196.5 36.3h4v4h-4zM120.5 60.3h4v4h-4zM132.5 60.3h4v4h-4z"/>
<path fill="#6dc86c" d="M200.5 36.3h4v4h-4zM208.5 84.3h4v4h-4zM96.5 120.3h4v4h-4z"/>
<path fill="#5cc879" d="M204.5 36.3h4v4h-4zM128.5 72.3h4v4h-4zM132.5 128.3h4v4h-4zM220.5 136.3h4v4h-4z"/>
<path fill="#4cc886" d="M208.5 36.3h4v4h-4zM232.5 40.3h4v4h-4zM220.5 120.3h4v4h-4z"/>
<path fill="#3fc791" d="M212.5 36.3h4v4h-4z"/>
<path fill="#37c49a" d="M216.5 36.3h4v4h-4zM216.5 40.3h4v4h-4zM216.5 44.3h4v4h-4zM228.5 44.3h4v4h-4zM216.5 48.3h4v4h-4zM124.5 84.3h4v4h-4zM224.5 148.3h4v4h-4z"/>
<path fill="#32c29f" d="M220.5 36.3h4v4h-4zM224.5 36.3h4v4h-4zM220.5 40.3h4v4h-4zM220.5 88.3h4v4h-4z"/>
<path fill="#3bc696" d="M228.5 36.3h4v4h-4z"/>
<path fill="#4fc884" d="M232.5 36.3h4v4h-4zM208.5 44.3h4v4h-4zM132.5 124.3h4v4h-4zM84.5 136.3h4v4h-4z"/>
<path fill="#abc03e" d="M244.5 36.3h4v4h-4zM116.5 48.3h4v4h-4zM144.5 52.3h4v4h-4zM188.5 52.3h4v4h-4zM108.5 56.3h4v4h-4zM188.5 56.3h4v4h-4zM152.5 60.3h4v4h-4zM160.5 80.3h4v4h-4zM160.5 84.3h4v4h-4zM252.5 120.3h4v4h-4zM212.5 136.3h4v4h-4z"/>
<path fill="#f4b33a" d="M268.5 36.3h4v4h-4zM84.5 48.3h4v4h-4zM272.5 52.3h4v4h-4zM284.5 84.3h4v4h-4zM292.5 124.3h4v4h-4zM312.5 144.3h4v4h-4z"/>
<path fill="#fdbd37" d="M288.5 36.3h4v4h-4zM292.5 60.3h4v4h-4zM296.5 76.3h4v4h-4zM300.5 96.3h4v4h-4zM304.5 112.3h4v4h-4zM308.5 120.3h4v4h-4zM312.5 124.3h4v4h-4zM324.5 132.3h4v4h-4zM328.5 132.3h4v4h-4zM332.5 132.3h4v4h-4zM60.5 144.3h4v4h-4z"/>
<path fill="#fdc234" d="M292.5 36.3h4v4h-4zM296.5 56.3h4v4h-4zM296.5 60.3h4v4h-4zM300.5 76.3h4v4h-4zM304.5 92.3h4v4h-4zM308.5 104.3h4v4h-4zM312.5 112.3h4v4h-4zM44.5 148.3h4v4h-4zM48.5 148.3h4v4h-4z"/>
<path fill="#fcc731" d="M296.5 36.3h4v4h-4zM300.5 56.3h4v4h-4zM304.5 72.3h4v4h-4zM308.5 80.3h4v4h-4zM312.5 92.3h4v4h-4zM316.5 100.3h4v4h-4zM324.5 116.3h4v4h-4zM328.5 116.3h4v4h-4zM332.5 116.3h4v4h-4zM60.5 140.3h4v4h-4z"/>
<path fill="#fad12d" d="M304.5 36.3h4v4h-4zM312.5 56.3h4v4h-4z"/>
<path fill="#f9d32c" d="M308.5 36.3h4v4h-4zM316.5 56.3h4v4h-4zM44.5 136.3h4v4h-4zM48.5 136.3h4v4h-4z"/>
<path fill="#f9d62b" d="M312.5 36.3h4v4h-4zM320.5 56.3h4v4h-4zM56.5 124.3h4v4h-4zM52.5 128.3h4v4h-4z"/>
<path fill="#f7db29" d="M320.5 36.3h4v4h-4z"/>
<path fill="#f1b23a" d="M88.5 40.3h4v4h-4zM292.5 132.3h4v4h-4z"/>
<path fill="#ebb336" d="M92.5 40.3h4v4h-4zM264.5 44.3h4v4h-4zM264.5 48.3h4v4h-4zM268.5 80.3h4v4h-4zM272.5 88.3h4v4h-4zM276.5 96.3h4v4h-4zM280.5 104.3h4v4h-4zM284.5 120.3h4v4h-4zM52.5 152.3h4v4h-4zM52.5 156.3h4v4h-4zM52.5 160.3h4v4h-4z"/>
<path fill="#dfb530" d="M96.5 40.3h4v4h-4zM260.5 56.3h4v4h-4zM96.5 88.3h4v4h-4zM96.5 92.3h4v4h-4zM264.5 104.3h4v4h-4zM88.5 120.3h4v4h-4zM268.5 140.3h4v4h-4zM272.5 140.3h4v4h-4z"/>
<path fill="#d4b92d" d="M100.5 40.3h4v4h-4zM256.5 60.3h4v4h-4zM96.5 64.3h4v4h-4zM96.5 68.3h4v4h-4zM260.5 116.3h4v4h-4z"/>
<path fill="#cbbb2c" d="M104.5 40.3h4v4h-4zM252.5 40.3h4v4h-4zM256.5 100.3h4v4h-4zM172.5 136.3h4v4h-4zM152.5 152.3h4v4h-4zM260.5 152.3h4v4h-4zM152.5 156.3h4v4h-4zM260.5 156.3h4v4h-4zM152.5 160.3h4v4h-4zM260.5 160.3h4v4h-4z"/>
<path fill="#b2bf3a" d="M128.5 40.3h4v4h-4zM116.5 44.3h4v4h-4zM136.5 44.3h4v4h-4zM184.5 48.3h4v4h-4zM184.5 52.3h4v4h-4zM184.5 56.3h4v4h-4zM184.5 60.3h4v4h-4zM248.5 64.3h4v4h-4zM104.5 68.3h4v4h-4zM164.5 72.3h4v4h-4zM188.5 76.3h4v4h-4zM104.5 84.3h4v4h-4zM164.5 96.3h4v4h-4zM252.5 112.3h4v4h-4zM160.5 120.3h4v4h-4zM84.5 132.3h4v4h-4zM256.5 152.3h4v4h-4zM256.5 156.3h4v4h-4zM256.5 160.3h4v4h-4z"/>
<path fill="#b3bf3a" d="M132.5 40.3h4v4h-4zM156.5 128.3h4v4h-4z"/>
<path fill="#a6c041" d="M188.5 40.3h4v4h-4zM156.5 104.3h4v4h-4zM144.5 136.3h4v4h-4z"/>
<path fill="#83c55b" d="M196.5 40.3h4v4h-4zM200.5 68.3h4v4h-4zM244.5 80.3h4v4h-4zM148.5 84.3h4v4h-4zM144.5 120.3h4v4h-4zM216.5 132.3h4v4h-4z"/>
<path fill="#70c86a" d="M200.5 40.3h4v4h-4zM140.5 76.3h4v4h-4zM144.5 96.3h4v4h-4zM212.5 100.3h4v4h-4zM144.5 104.3h4v4h-4zM140.5 120.3h4v4h-4z"/>
<path fill="#5ec878" d="M204.5 40.3h4v4h-4zM208.5 72.3h4v4h-4z"/>
<path fill="#4ec885" d="M208.5 40.3h4v4h-4zM236.5 64.3h4v4h-4zM240.5 88.3h4v4h-4z"/>
<path fill="#3fc891" d="M212.5 40.3h4v4h-4zM216.5 84.3h4v4h-4zM220.5 104.3h4v4h-4z"/>
<path fill="#31c2a0" d="M224.5 40.3h4v4h-4zM220.5 44.3h4v4h-4zM220.5 48.3h4v4h-4zM220.5 52.3h4v4h-4zM232.5 68.3h4v4h-4zM224.5 140.3h4v4h-4z"/>
<path fill="#39c598" d="M228.5 40.3h4v4h-4zM216.5 72.3h4v4h-4zM132.5 88.3h4v4h-4zM132.5 116.3h4v4h-4z"/>
<path fill="#68c870" d="M236.5 40.3h4v4h-4zM204.5 60.3h4v4h-4zM140.5 80.3h4v4h-4zM208.5 80.3h4v4h-4zM244.5 100.3h4v4h-4zM220.5 144.3h4v4h-4zM116.5 152.3h4v4h-4zM116.5 156.3h4v4h-4zM116.5 160.3h4v4h-4z"/>
<path fill="#8bc456" d="M240.5 40.3h4v4h-4z"/>
<path fill="#f3b33a" d="M268.5 40.3h4v4h-4zM268.5 44.3h4v4h-4zM268.5 48.3h4v4h-4zM84.5 52.3h4v4h-4zM84.5 56.3h4v4h-4zM272.5 56.3h4v4h-4zM84.5 60.3h4v4h-4zM272.5 60.3h4v4h-4zM84.5 64.3h4v4h-4zM276.5 64.3h4v4h-4zM84.5 68.3h4v4h-4zM276.5 68.3h4v4h-4zM84.5 72.3h4v4h-4zM280.5 72.3h4v4h-4zM88.5 84.3h4v4h-4zM88.5 88.3h4v4h-4zM284.5 88.3h4v4h-4zM88.5 92.3h4v4h-4zM88.5 96.3h4v4h-4zM88.5 100.3h4v4h-4zM288.5 108.3h4v4h-4zM288.5 112.3h4v4h-4zM292.5 128.3h4v4h-4zM300.5 140.3h4v4h-4zM308.5 144.3h4v4h-4zM320.5 152.3h4v4h-4zM320.5 156.3h4v4h-4zM320.5 160.3h4v4h-4z"/>
<path fill="#fab938" d="M284.5 40.3h4v4h-4zM288.5 64.3h4v4h-4zM312.5 132.3h4v4h-4z"/>
<path fill="#fdbc37" d="M288.5 40.3h4v4h-4zM292.5 64.3h4v4h-4zM296.5 80.3h4v4h-4zM300.5 100.3h4v4h-4zM304.5 116.3h4v4h-4zM316.5 128.3h4v4h-4z"/>
<path fill="#fdc134" d="M292.5 40.3h4v4h-4zM304.5 96.3h4v4h-4zM316.5 120.3h4v4h-4zM320.5 124.3h4v4h-4z"/>
<path fill="#fcc632" d="M296.5 40.3h4v4h-4zM308.5 88.3h4v4h-4zM312.5 96.3h4v4h-4z"/>
<path fill="#fccb2f" d="M300.5 40.3h4v4h-4zM304.5 60.3h4v4h-4zM308.5 68.3h4v4h-4zM312.5 76.3h4v4h-4zM316.5 84.3h4v4h-4zM320.5 96.3h4v4h-4zM324.5 100.3h4v4h-4zM328.5 100.3h4v4h-4zM332.5 100.3h4v4h-4zM60.5 136.3h4v4h-4zM52.5 144.3h4v4h-4z"/>
<path fill="#fbd02d" d="M304.5 40.3h4v4h-4zM308.5 48.3h4v4h-4zM312.5 60.3h4v4h-4zM316.5 68.3h4v4h-4zM320.5 76.3h4v4h-4zM52.5 140.3h4v4h-4zM56.5 140.3h4v4h-4z"/>
<path fill="#f7da2a" d="M320.5 40.3h4v4h-4zM324.5 48.3h4v4h-4zM328.5 48.3h4v4h-4zM332.5 48.3h4v4h-4z"/>
<path fill="#f0b239" d="M88.5 44.3h4v4h-4zM268.5 64.3h4v4h-4zM272.5 72.3h4v4h-4zM276.5 76.3h4v4h-4zM88.5 80.3h4v4h-4zM280.5 84.3h4v4h-4zM284.5 104.3h4v4h-4zM288.5 124.3h4v4h-4zM296.5 140.3h4v4h-4zM300.5 144.3h4v4h-4zM316.5 152.3h4v4h-4zM316.5 156.3h4v4h-4zM316.5 160.3h4v4h-4z"/>
<path fill="#e9b435" d="M92.5 44.3h4v4h-4zM264.5 56.3h4v4h-4zM264.5 60.3h4v4h-4zM268.5 88.3h4v4h-4zM268.5 92.3h4v4h-4zM272.5 96.3h4v4h-4zM272.5 100.3h4v4h-4zM92.5 104.3h4v4h-4zM276.5 104.3h4v4h-4zM280.5 112.3h4v4h-4zM292.5 144.3h4v4h-4zM188.5 152.3h4v4h-4zM188.5 156.3h4v4h-4zM188.5 160.3h4v4h-4z"/>
<path fill="#ddb62e" d="M96.5 44.3h4v4h-4zM260.5 68.3h4v4h-4z"/>
<path fill="#d1b92d" d="M100.5 44.3h4v4h-4zM260.5 128.3h4v4h-4zM72.5 140.3h4v4h-4zM188.5 140.3h4v4h-4zM204.5 152.3h4v4h-4zM204.5 156.3h4v4h-4zM204.5 160.3h4v4h-4z"/>
<path fill="#99c24b" d="M192.5 44.3h4v4h-4zM140.5 136.3h4v4h-4zM216.5 144.3h4v4h-4z"/>
<path fill="#86c559" d="M196.5 44.3h4v4h-4zM140.5 64.3h4v4h-4zM148.5 108.3h4v4h-4zM212.5 112.3h4v4h-4z"/>
<path fill="#72c868" d="M200.5 44.3h4v4h-4zM144.5 84.3h4v4h-4zM72.5 144.3h4v4h-4z"/>
<path fill="#60c876" d="M204.5 44.3h4v4h-4z"/>
<path fill="#30c2a1" d="M224.5 44.3h4v4h-4zM220.5 56.3h4v4h-4zM228.5 56.3h4v4h-4zM132.5 112.3h4v4h-4zM224.5 128.3h4v4h-4z"/>
<path fill="#65c872" d="M236.5 44.3h4v4h-4zM204.5 56.3h4v4h-4zM216.5 112.3h4v4h-4z"/>
<path fill="#88c558" d="M240.5 44.3h4v4h-4zM136.5 60.3h4v4h-4zM244.5 76.3h4v4h-4zM148.5 112.3h4v4h-4z"/>
<path fill="#cabc2c" d="M252.5 44.3h4v4h-4zM252.5 48.3h4v4h-4zM256.5 104.3h4v4h-4zM180.5 132.3h4v4h-4zM184.5 132.3h4v4h-4zM188.5 132.3h4v4h-4zM196.5 136.3h4v4h-4zM164.5 140.3h4v4h-4zM204.5 144.3h4v4h-4z"/>
<path fill="#fad12c" d="M308.5 44.3h4v4h-4zM316.5 64.3h4v4h-4zM320.5 72.3h4v4h-4z"/>
<path fill="#e7b434" d="M92.5 48.3h4v4h-4zM264.5 68.3h4v4h-4zM268.5 100.3h4v4h-4zM272.5 108.3h4v4h-4zM276.5 112.3h4v4h-4zM280.5 120.3h4v4h-4zM284.5 132.3h4v4h-4zM292.5 148.3h4v4h-4zM168.5 152.3h4v4h-4zM296.5 152.3h4v4h-4zM168.5 156.3h4v4h-4zM296.5 156.3h4v4h-4zM168.5 160.3h4v4h-4zM296.5 160.3h4v4h-4z"/>
<path fill="#dab72e" d="M96.5 48.3h4v4h-4zM260.5 80.3h4v4h-4zM96.5 84.3h4v4h-4zM264.5 132.3h4v4h-4zM264.5 136.3h4v4h-4zM176.5 144.3h4v4h-4zM180.5 144.3h4v4h-4zM184.5 144.3h4v4h-4z"/>
<path fill="#a5c042" d="M124.5 48.3h4v4h-4zM128.5 48.3h4v4h-4zM156.5 76.3h4v4h-4zM196.5 80.3h4v4h-4zM104.5 100.3h4v4h-4z"/>
<path fill="#a7c041" d="M132.5 48.3h4v4h-4zM244.5 48.3h4v4h-4zM200.5 92.3h4v4h-4zM156.5 108.3h4v4h-4zM212.5 132.3h4v4h-4z"/>
<path fill="#b1bf3b" d="M144.5 48.3h4v4h-4zM108.5 52.3h4v4h-4zM164.5 80.3h4v4h-4zM164.5 92.3h4v4h-4zM196.5 92.3h4v4h-4zM160.5 116.3h4v4h-4zM64.5 148.3h4v4h-4z"/>
<path fill="#b4be38" d="M148.5 48.3h4v4h-4zM248.5 60.3h4v4h-4zM188.5 80.3h4v4h-4z"/>
<path fill="#9cc249" d="M192.5 48.3h4v4h-4zM244.5 60.3h4v4h-4zM248.5 96.3h4v4h-4zM208.5 108.3h4v4h-4zM152.5 116.3h4v4h-4zM60.5 152.3h4v4h-4zM128.5 152.3h4v4h-4zM60.5 156.3h4v4h-4zM128.5 156.3h4v4h-4zM60.5 160.3h4v4h-4zM128.5 160.3h4v4h-4z"/>
<path fill="#62c875" d="M204.5 48.3h4v4h-4zM236.5 48.3h4v4h-4zM132.5 72.3h4v4h-4zM212.5 92.3h4v4h-4zM220.5 140.3h4v4h-4z"/>
<path fill="#51c883" d="M208.5 48.3h4v4h-4zM136.5 116.3h4v4h-4z"/>
<path fill="#2fc1a2" d="M224.5 48.3h4v4h-4zM220.5 60.3h4v4h-4zM128.5 88.3h4v4h-4zM224.5 132.3h4v4h-4zM224.5 136.3h4v4h-4z"/>
<path fill="#46c88b" d="M232.5 48.3h4v4h-4zM212.5 68.3h4v4h-4zM244.5 116.3h4v4h-4z"/>
<path fill="#84c55a" d="M240.5 48.3h4v4h-4zM112.5 68.3h4v4h-4zM148.5 100.3h4v4h-4zM140.5 128.3h4v4h-4zM132.5 140.3h4v4h-4z"/>
<path fill="#e5b433" d="M92.5 52.3h4v4h-4zM92.5 76.3h4v4h-4zM268.5 112.3h4v4h-4zM272.5 116.3h4v4h-4zM276.5 120.3h4v4h-4zM284.5 136.3h4v4h-4zM180.5 148.3h4v4h-4zM292.5 152.3h4v4h-4zM292.5 156.3h4v4h-4zM292.5 160.3h4v4h-4z"/>
<path fill="#cbbc2c" d="M100.5 52.3h4v4h-4zM200.5 140.3h4v4h-4z"/>
<path fill="#a0c146" d="M116.5 52.3h4v4h-4zM192.5 60.3h4v4h-4zM108.5 64.3h4v4h-4zM196.5 76.3h4v4h-4zM156.5 88.3h4v4h-4zM156.5 92.3h4v4h-4zM248.5 92.3h4v4h-4zM76.5 140.3h4v4h-4zM216.5 148.3h4v4h-4z"/>
<path fill="#97c34d" d="M124.5 52.3h4v4h-4zM152.5 100.3h4v4h-4zM152.5 104.3h4v4h-4z"/>
<path fill="#97c24c" d="M128.5 52.3h4v4h-4z"/>
<path fill="#9fc146" d="M136.5 52.3h4v4h-4zM136.5 144.3h4v4h-4z"/>
<path fill="#a6c042" d="M140.5 52.3h4v4h-4zM108.5 60.3h4v4h-4zM152.5 64.3h4v4h-4zM192.5 68.3h4v4h-4zM156.5 100.3h4v4h-4zM216.5 152.3h4v4h-4zM216.5 156.3h4v4h-4zM216.5 160.3h4v4h-4z"/>
<path fill="#bdbe34" d="M172.5 52.3h4v4h-4z"/>
<path fill="#9dc248" d="M192.5 52.3h4v4h-4zM112.5 56.3h4v4h-4zM152.5 72.3h4v4h-4zM144.5 132.3h4v4h-4z"/>
<path fill="#8bc455" d="M196.5 52.3h4v4h-4zM248.5 108.3h4v4h-4z"/>
<path fill="#65c873" d="M204.5 52.3h4v4h-4zM240.5 72.3h4v4h-4z"/>
<path fill="#53c881" d="M208.5 52.3h4v4h-4zM208.5 56.3h4v4h-4zM128.5 132.3h4v4h-4z"/>
<path fill="#42c88e" d="M212.5 52.3h4v4h-4zM124.5 80.3h4v4h-4zM108.5 104.3h4v4h-4z"/>
<path fill="#38c599" d="M216.5 52.3h4v4h-4zM216.5 64.3h4v4h-4zM236.5 80.3h4v4h-4zM64.5 152.3h4v4h-4zM64.5 156.3h4v4h-4zM64.5 160.3h4v4h-4z"/>
<path fill="#2fc1a3" d="M224.5 52.3h4v4h-4zM240.5 108.3h4v4h-4zM224.5 124.3h4v4h-4z"/>
<path fill="#43c88e" d="M232.5 52.3h4v4h-4zM212.5 56.3h4v4h-4zM132.5 120.3h4v4h-4z"/>
<path fill="#5fc877" d="M236.5 52.3h4v4h-4zM240.5 76.3h4v4h-4z"/>
<path fill="#81c65d" d="M240.5 52.3h4v4h-4zM128.5 144.3h4v4h-4z"/>
<path fill="#a4c143" d="M244.5 52.3h4v4h-4zM144.5 56.3h4v4h-4zM148.5 60.3h4v4h-4zM192.5 64.3h4v4h-4zM248.5 88.3h4v4h-4z"/>
<path fill="#c9bc2c" d="M252.5 52.3h4v4h-4zM256.5 108.3h4v4h-4zM176.5 132.3h4v4h-4zM192.5 132.3h4v4h-4zM208.5 152.3h4v4h-4zM208.5 156.3h4v4h-4zM208.5 160.3h4v4h-4z"/>
<path fill="#eab336" d="M264.5 52.3h4v4h-4zM268.5 84.3h4v4h-4zM272.5 92.3h4v4h-4zM276.5 100.3h4v4h-4zM280.5 108.3h4v4h-4zM284.5 124.3h4v4h-4zM288.5 136.3h4v4h-4zM64.5 144.3h4v4h-4z"/>
<path fill="#fcc830" d="M300.5 52.3h4v4h-4zM312.5 88.3h4v4h-4zM316.5 96.3h4v4h-4zM324.5 112.3h4v4h-4zM328.5 112.3h4v4h-4zM332.5 112.3h4v4h-4z"/>
<path fill="#f9d42b" d="M316.5 52.3h4v4h-4zM56.5 132.3h4v4h-4z"/>
<path fill="#f8d92a" d="M324.5 52.3h4v4h-4zM328.5 52.3h4v4h-4zM332.5 52.3h4v4h-4z"/>
<path fill="#8ac557" d="M128.5 56.3h4v4h-4z"/>
<path fill="#9bc249" d="M140.5 56.3h4v4h-4zM148.5 64.3h4v4h-4zM204.5 96.3h4v4h-4z"/>
<path fill="#8cc455" d="M196.5 56.3h4v4h-4zM112.5 64.3h4v4h-4zM208.5 100.3h4v4h-4zM148.5 116.3h4v4h-4zM212.5 116.3h4v4h-4zM144.5 124.3h4v4h-4z"/>
<path fill="#78c763" d="M200.5 56.3h4v4h-4zM244.5 88.3h4v4h-4z"/>
<path fill="#37c599" d="M216.5 56.3h4v4h-4zM220.5 96.3h4v4h-4z"/>
<path fill="#2dc0a5" d="M224.5 56.3h4v4h-4zM228.5 60.3h4v4h-4zM220.5 72.3h4v4h-4zM224.5 120.3h4v4h-4z"/>
<path fill="#3fc792" d="M232.5 56.3h4v4h-4z"/>
<path fill="#7cc660" d="M240.5 56.3h4v4h-4z"/>
<path fill="#c8bc2c" d="M252.5 56.3h4v4h-4z"/>
<path fill="#d4b82d" d="M256.5 56.3h4v4h-4zM96.5 60.3h4v4h-4zM96.5 72.3h4v4h-4z"/>
<path fill="#fccb2e" d="M304.5 56.3h4v4h-4z"/>
<path fill="#f8d82b" d="M324.5 56.3h4v4h-4zM328.5 56.3h4v4h-4zM332.5 56.3h4v4h-4zM52.5 112.3h4v4h-4zM52.5 116.3h4v4h-4z"/>
<path fill="#94c34f" d="M112.5 60.3h4v4h-4zM200.5 80.3h4v4h-4zM204.5 92.3h4v4h-4zM208.5 104.3h4v4h-4zM136.5 140.3h4v4h-4z"/>
<path fill="#7cc761" d="M124.5 60.3h4v4h-4zM128.5 60.3h4v4h-4zM200.5 60.3h4v4h-4zM248.5 116.3h4v4h-4zM120.5 152.3h4v4h-4zM120.5 156.3h4v4h-4zM120.5 160.3h4v4h-4z"/>
<path fill="#91c351" d="M140.5 60.3h4v4h-4zM144.5 64.3h4v4h-4zM148.5 72.3h4v4h-4zM152.5 88.3h4v4h-4zM152.5 92.3h4v4h-4zM132.5 144.3h4v4h-4z"/>
<path fill="#8fc452" d="M196.5 60.3h4v4h-4zM108.5 80.3h4v4h-4zM108.5 88.3h4v4h-4z"/>
<path fill="#44c88d" d="M212.5 60.3h4v4h-4zM216.5 88.3h4v4h-4zM136.5 96.3h4v4h-4zM220.5 112.3h4v4h-4z"/>
<path fill="#37c499" d="M216.5 60.3h4v4h-4zM216.5 68.3h4v4h-4z"/>
<path fill="#2bbfa7" d="M224.5 60.3h4v4h-4zM224.5 108.3h4v4h-4zM224.5 112.3h4v4h-4z"/>
<path fill="#3ac697" d="M232.5 60.3h4v4h-4zM112.5 148.3h4v4h-4z"/>
<path fill="#76c765" d="M240.5 60.3h4v4h-4zM112.5 76.3h4v4h-4zM132.5 136.3h4v4h-4z"/>
<path fill="#dfb62f" d="M260.5 60.3h4v4h-4zM264.5 108.3h4v4h-4zM280.5 144.3h4v4h-4z"/>
<path fill="#f1b239" d="M268.5 60.3h4v4h-4zM272.5 68.3h4v4h-4zM284.5 100.3h4v4h-4zM88.5 108.3h4v4h-4zM288.5 120.3h4v4h-4zM312.5 148.3h4v4h-4z"/>
<path fill="#fcc631" d="M300.5 60.3h4v4h-4zM304.5 76.3h4v4h-4zM308.5 84.3h4v4h-4zM316.5 104.3h4v4h-4zM320.5 112.3h4v4h-4z"/>
<path fill="#7fc65f" d="M116.5 64.3h4v4h-4zM204.5 80.3h4v4h-4zM148.5 92.3h4v4h-4zM216.5 128.3h4v4h-4z"/>
<path fill="#70c869" d="M124.5 64.3h4v4h-4zM128.5 64.3h4v4h-4zM240.5 64.3h4v4h-4zM216.5 120.3h4v4h-4z"/>
<path fill="#7dc660" d="M136.5 64.3h4v4h-4zM112.5 72.3h4v4h-4zM136.5 132.3h4v4h-4z"/>
<path fill="#b8be37" d="M172.5 64.3h4v4h-4zM172.5 68.3h4v4h-4zM172.5 72.3h4v4h-4zM172.5 76.3h4v4h-4zM172.5 80.3h4v4h-4z"/>
<path fill="#80c65e" d="M200.5 64.3h4v4h-4zM148.5 88.3h4v4h-4zM212.5 108.3h4v4h-4zM124.5 148.3h4v4h-4z"/>
<path fill="#6cc86d" d="M204.5 64.3h4v4h-4zM116.5 72.3h4v4h-4zM144.5 92.3h4v4h-4zM248.5 124.3h4v4h-4zM120.5 148.3h4v4h-4z"/>
<path fill="#58c87d" d="M208.5 64.3h4v4h-4z"/>
<path fill="#45c88c" d="M212.5 64.3h4v4h-4zM136.5 92.3h4v4h-4zM136.5 112.3h4v4h-4z"/>
<path fill="#2ec1a3" d="M220.5 64.3h4v4h-4zM220.5 80.3h4v4h-4zM236.5 88.3h4v4h-4z"/>
<path fill="#29bfa9" d="M224.5 64.3h4v4h-4zM224.5 100.3h4v4h-4zM132.5 108.3h4v4h-4zM116.5 140.3h4v4h-4z"/>
<path fill="#2abfa8" d="M228.5 64.3h4v4h-4zM236.5 92.3h4v4h-4zM132.5 104.3h4v4h-4zM244.5 128.3h4v4h-4zM248.5 152.3h4v4h-4zM248.5 156.3h4v4h-4zM248.5 160.3h4v4h-4z"/>
<path fill="#98c24c" d="M244.5 64.3h4v4h-4zM248.5 100.3h4v4h-4zM152.5 108.3h4v4h-4z"/>
<path fill="#c6bc2e" d="M252.5 64.3h4v4h-4zM256.5 116.3h4v4h-4zM188.5 120.3h4v4h-4zM184.5 124.3h4v4h-4zM192.5 124.3h4v4h-4zM176.5 128.3h4v4h-4zM172.5 132.3h4v4h-4zM160.5 140.3h4v4h-4zM204.5 140.3h4v4h-4zM156.5 144.3h4v4h-4zM208.5 148.3h4v4h-4z"/>
<path fill="#d3b92d" d="M256.5 64.3h4v4h-4zM260.5 120.3h4v4h-4zM180.5 140.3h4v4h-4zM160.5 148.3h4v4h-4zM200.5 148.3h4v4h-4z"/>
<path fill="#deb62f" d="M260.5 64.3h4v4h-4zM264.5 112.3h4v4h-4zM268.5 144.3h4v4h-4zM272.5 144.3h4v4h-4zM276.5 144.3h4v4h-4zM168.5 148.3h4v4h-4zM284.5 152.3h4v4h-4zM284.5 156.3h4v4h-4zM284.5 160.3h4v4h-4z"/>
<path fill="#e8b434" d="M264.5 64.3h4v4h-4zM92.5 80.3h4v4h-4zM268.5 96.3h4v4h-4zM272.5 104.3h4v4h-4zM288.5 140.3h4v4h-4z"/>
<path fill="#fdc135" d="M296.5 64.3h4v4h-4zM300.5 80.3h4v4h-4zM304.5 100.3h4v4h-4zM308.5 108.3h4v4h-4z"/>
<path fill="#6bc86e" d="M120.5 68.3h4v4h-4zM132.5 68.3h4v4h-4zM240.5 68.3h4v4h-4zM136.5 72.3h4v4h-4zM112.5 84.3h4v4h-4z"/>
<path fill="#2ec1a4" d="M220.5 68.3h4v4h-4z"/>
<path fill="#27beab" d="M224.5 68.3h4v4h-4zM228.5 68.3h4v4h-4zM224.5 96.3h4v4h-4zM240.5 112.3h4v4h-4z"/>
<path fill="#d2b92d" d="M256.5 68.3h4v4h-4zM260.5 124.3h4v4h-4zM176.5 140.3h4v4h-4zM184.5 140.3h4v4h-4zM196.5 144.3h4v4h-4zM156.5 152.3h4v4h-4zM156.5 156.3h4v4h-4zM156.5 160.3h4v4h-4z"/>
<path fill="#96c34e" d="M108.5 72.3h4v4h-4z"/>
<path fill="#61c876" d="M120.5 72.3h4v4h-4zM244.5 104.3h4v4h-4zM216.5 108.3h4v4h-4zM248.5 128.3h4v4h-4z"/>
<path fill="#5cc87a" d="M124.5 72.3h4v4h-4zM212.5 88.3h4v4h-4zM216.5 104.3h4v4h-4z"/>
<path fill="#77c764" d="M140.5 72.3h4v4h-4zM144.5 80.3h4v4h-4zM108.5 96.3h4v4h-4zM216.5 124.3h4v4h-4z"/>
<path fill="#84c55b" d="M144.5 72.3h4v4h-4zM108.5 92.3h4v4h-4zM208.5 96.3h4v4h-4zM104.5 104.3h4v4h-4zM248.5 112.3h4v4h-4z"/>
<path fill="#aebf3d" d="M160.5 72.3h4v4h-4zM160.5 100.3h4v4h-4z"/>
<path fill="#a9c03f" d="M192.5 72.3h4v4h-4zM204.5 104.3h4v4h-4zM156.5 116.3h4v4h-4zM148.5 132.3h4v4h-4zM136.5 148.3h4v4h-4z"/>
<path fill="#88c557" d="M200.5 72.3h4v4h-4z"/>
<path fill="#4ac888" d="M212.5 72.3h4v4h-4zM124.5 136.3h4v4h-4zM248.5 136.3h4v4h-4z"/>
<path fill="#25bdad" d="M224.5 72.3h4v4h-4zM232.5 80.3h4v4h-4zM224.5 92.3h4v4h-4z"/>
<path fill="#24bcaf" d="M228.5 72.3h4v4h-4z"/>
<path fill="#2cc0a5" d="M232.5 72.3h4v4h-4zM124.5 88.3h4v4h-4zM132.5 100.3h4v4h-4z"/>
<path fill="#dbb62e" d="M260.5 72.3h4v4h-4zM260.5 76.3h4v4h-4zM96.5 100.3h4v4h-4zM264.5 128.3h4v4h-4z"/>
<path fill="#e6b433" d="M264.5 72.3h4v4h-4zM268.5 108.3h4v4h-4zM272.5 112.3h4v4h-4zM280.5 124.3h4v4h-4zM288.5 144.3h4v4h-4z"/>
<path fill="#edb338" d="M268.5 72.3h4v4h-4z"/>
<path fill="#c3bd2f" d="M100.5 76.3h4v4h-4zM172.5 128.3h4v4h-4z"/>
<path fill="#92c351" d="M108.5 76.3h4v4h-4z"/>
<path fill="#63c874" d="M116.5 76.3h4v4h-4zM136.5 76.3h4v4h-4zM208.5 76.3h4v4h-4zM128.5 136.3h4v4h-4z"/>
<path fill="#50c883" d="M124.5 76.3h4v4h-4zM116.5 84.3h4v4h-4zM136.5 84.3h4v4h-4z"/>
<path fill="#8cc454" d="M148.5 76.3h4v4h-4zM204.5 88.3h4v4h-4z"/>
<path fill="#9ac24b" d="M152.5 76.3h4v4h-4zM152.5 112.3h4v4h-4z"/>
<path fill="#acbf3d" d="M160.5 76.3h4v4h-4z"/>
<path fill="#8ec453" d="M200.5 76.3h4v4h-4z"/>
<path fill="#79c763" d="M204.5 76.3h4v4h-4zM212.5 104.3h4v4h-4z"/>
<path fill="#4dc885" d="M212.5 76.3h4v4h-4z"/>
<path fill="#3ac696" d="M216.5 76.3h4v4h-4zM224.5 152.3h4v4h-4zM224.5 156.3h4v4h-4zM224.5 160.3h4v4h-4z"/>
<path fill="#2dc0a4" d="M220.5 76.3h4v4h-4z"/>
<path fill="#25bdae" d="M224.5 76.3h4v4h-4zM224.5 88.3h4v4h-4z"/>
<path fill="#22bcb1" d="M228.5 76.3h4v4h-4zM236.5 100.3h4v4h-4z"/>
<path fill="#28bea9" d="M232.5 76.3h4v4h-4zM128.5 92.3h4v4h-4z"/>
<path fill="#fbce2e" d="M316.5 76.3h4v4h-4zM320.5 84.3h4v4h-4z"/>
<path fill="#6fc86a" d="M112.5 80.3h4v4h-4zM144.5 100.3h4v4h-4z"/>
<path fill="#59c87c" d="M116.5 80.3h4v4h-4zM136.5 80.3h4v4h-4zM140.5 104.3h4v4h-4zM244.5 108.3h4v4h-4zM220.5 132.3h4v4h-4zM120.5 144.3h4v4h-4z"/>
<path fill="#44c88c" d="M128.5 80.3h4v4h-4z"/>
<path fill="#4dc886" d="M132.5 80.3h4v4h-4z"/>
<path fill="#87c558" d="M148.5 80.3h4v4h-4z"/>
<path fill="#a3c144" d="M156.5 80.3h4v4h-4zM204.5 100.3h4v4h-4z"/>
<path fill="#51c882" d="M212.5 80.3h4v4h-4zM220.5 124.3h4v4h-4z"/>
<path fill="#24bdae" d="M224.5 80.3h4v4h-4zM224.5 84.3h4v4h-4z"/>
<path fill="#20bbb3" d="M228.5 80.3h4v4h-4z"/>
<path fill="#5ac87c" d="M240.5 80.3h4v4h-4z"/>
<path fill="#c0bd31" d="M252.5 80.3h4v4h-4zM184.5 100.3h4v4h-4zM200.5 124.3h4v4h-4zM168.5 128.3h4v4h-4zM256.5 128.3h4v4h-4zM164.5 132.3h4v4h-4zM156.5 140.3h4v4h-4z"/>
<path fill="#fad02d" d="M324.5 80.3h4v4h-4zM328.5 80.3h4v4h-4zM332.5 80.3h4v4h-4zM44.5 140.3h4v4h-4zM48.5 140.3h4v4h-4z"/>
<path fill="#c8bc2d" d="M100.5 84.3h4v4h-4zM184.5 128.3h4v4h-4zM188.5 128.3h4v4h-4zM168.5 136.3h4v4h-4z"/>
<path fill="#8fc453" d="M108.5 84.3h4v4h-4zM140.5 132.3h4v4h-4z"/>
<path fill="#39c597" d="M128.5 84.3h4v4h-4zM124.5 132.3h4v4h-4z"/>
<path fill="#42c88f" d="M132.5 84.3h4v4h-4zM240.5 96.3h4v4h-4zM220.5 108.3h4v4h-4z"/>
<path fill="#61c875" d="M140.5 84.3h4v4h-4z"/>
<path fill="#85c55a" d="M204.5 84.3h4v4h-4zM148.5 104.3h4v4h-4z"/>
<path fill="#30c1a2" d="M220.5 84.3h4v4h-4zM248.5 148.3h4v4h-4z"/>
<path fill="#1ebab4" d="M228.5 84.3h4v4h-4zM232.5 88.3h4v4h-4z"/>
<path fill="#21bcb1" d="M232.5 84.3h4v4h-4zM128.5 116.3h4v4h-4z"/>
<path fill="#a7c040" d="M248.5 84.3h4v4h-4z"/>
<path fill="#64c873" d="M112.5 88.3h4v4h-4z"/>
<path fill="#48c889" d="M136.5 88.3h4v4h-4z"/>
<path fill="#5bc87a" d="M140.5 88.3h4v4h-4zM140.5 96.3h4v4h-4zM136.5 120.3h4v4h-4z"/>
<path fill="#6ec86c" d="M144.5 88.3h4v4h-4z"/>
<path fill="#74c867" d="M208.5 88.3h4v4h-4z"/>
<path fill="#1dbab5" d="M228.5 88.3h4v4h-4z"/>
<path fill="#efb239" d="M280.5 88.3h4v4h-4zM308.5 148.3h4v4h-4z"/>
<path fill="#55c880" d="M112.5 92.3h4v4h-4z"/>
<path fill="#23bcb0" d="M120.5 92.3h4v4h-4z"/>
<path fill="#20bbb2" d="M124.5 92.3h4v4h-4zM128.5 96.3h4v4h-4z"/>
<path fill="#7bc761" d="M208.5 92.3h4v4h-4zM100.5 112.3h4v4h-4zM252.5 148.3h4v4h-4z"/>
<path fill="#1dbab6" d="M228.5 92.3h4v4h-4zM124.5 124.3h4v4h-4z"/>
<path fill="#1cb9b7" d="M232.5 92.3h4v4h-4zM228.5 104.3h4v4h-4z"/>
<path fill="#43c88d" d="M112.5 96.3h4v4h-4zM128.5 128.3h4v4h-4zM120.5 140.3h4v4h-4z"/>
<path fill="#24bdaf" d="M116.5 96.3h4v4h-4z"/>
<path fill="#1ab8bc" d="M120.5 96.3h4v4h-4zM128.5 104.3h4v4h-4zM228.5 120.3h4v4h-4zM228.5 124.3h4v4h-4z"/>
<path fill="#1ab8bb" d="M124.5 96.3h4v4h-4zM232.5 104.3h4v4h-4zM236.5 108.3h4v4h-4zM228.5 116.3h4v4h-4z"/>
<path fill="#31c2a1" d="M132.5 96.3h4v4h-4zM120.5 136.3h4v4h-4z"/>
<path fill="#82c65c" d="M148.5 96.3h4v4h-4zM252.5 144.3h4v4h-4z"/>
<path fill="#a2c144" d="M156.5 96.3h4v4h-4zM208.5 112.3h4v4h-4zM96.5 116.3h4v4h-4zM148.5 128.3h4v4h-4zM140.5 140.3h4v4h-4z"/>
<path fill="#4ec884" d="M216.5 96.3h4v4h-4z"/>
<path fill="#1cbab7" d="M228.5 96.3h4v4h-4zM236.5 104.3h4v4h-4z"/>
<path fill="#1bb9b9" d="M232.5 96.3h4v4h-4zM128.5 100.3h4v4h-4zM228.5 108.3h4v4h-4zM128.5 112.3h4v4h-4zM100.5 120.3h4v4h-4z"/>
<path fill="#26bdac" d="M236.5 96.3h4v4h-4z"/>
<path fill="#67c871" d="M108.5 100.3h4v4h-4z"/>
<path fill="#19b7bc" d="M116.5 100.3h4v4h-4zM116.5 136.3h4v4h-4zM76.5 144.3h4v4h-4z"/>
<path fill="#17b5c3" d="M120.5 100.3h4v4h-4zM228.5 140.3h4v4h-4zM228.5 144.3h4v4h-4zM228.5 148.3h4v4h-4z"/>
<path fill="#18b6c0" d="M124.5 100.3h4v4h-4zM232.5 112.3h4v4h-4z"/>
<path fill="#55c87f" d="M216.5 100.3h4v4h-4zM116.5 148.3h4v4h-4z"/>
<path fill="#3bc695" d="M220.5 100.3h4v4h-4z"/>
<path fill="#1cbab6" d="M228.5 100.3h4v4h-4z"/>
<path fill="#1ab8ba" d="M232.5 100.3h4v4h-4zM112.5 104.3h4v4h-4zM228.5 112.3h4v4h-4zM240.5 120.3h4v4h-4z"/>
<path fill="#15b3c7" d="M116.5 104.3h4v4h-4zM116.5 132.3h4v4h-4z"/>
<path fill="#14b2ca" d="M120.5 104.3h4v4h-4zM244.5 144.3h4v4h-4z"/>
<path fill="#16b4c5" d="M124.5 104.3h4v4h-4zM124.5 112.3h4v4h-4zM236.5 120.3h4v4h-4zM232.5 124.3h4v4h-4zM240.5 128.3h4v4h-4z"/>
<path fill="#c2bd31" d="M184.5 104.3h4v4h-4zM208.5 144.3h4v4h-4z"/>
<path fill="#2bc0a6" d="M224.5 104.3h4v4h-4zM224.5 116.3h4v4h-4z"/>
<path fill="#92c350" d="M248.5 104.3h4v4h-4zM252.5 136.3h4v4h-4z"/>
<path fill="#e6b434" d="M268.5 104.3h4v4h-4zM276.5 116.3h4v4h-4z"/>
<path fill="#a5c143" d="M100.5 108.3h4v4h-4z"/>
<path fill="#5dc879" d="M104.5 108.3h4v4h-4zM140.5 112.3h4v4h-4zM124.5 140.3h4v4h-4z"/>
<path fill="#21bbb2" d="M108.5 108.3h4v4h-4z"/>
<path fill="#15b3c9" d="M112.5 108.3h4v4h-4zM232.5 128.3h4v4h-4z"/>
<path fill="#13afd1" d="M116.5 108.3h4v4h-4zM232.5 136.3h4v4h-4zM72.5 148.3h4v4h-4z"/>
<path fill="#13b1ce" d="M120.5 108.3h4v4h-4zM88.5 136.3h4v4h-4z"/>
<path fill="#16b4c6" d="M124.5 108.3h4v4h-4zM108.5 112.3h4v4h-4zM120.5 124.3h4v4h-4zM108.5 144.3h4v4h-4zM104.5 148.3h4v4h-4zM100.5 152.3h4v4h-4zM100.5 156.3h4v4h-4zM100.5 160.3h4v4h-4z"/>
<path fill="#19b7bd" d="M128.5 108.3h4v4h-4zM232.5 108.3h4v4h-4zM124.5 120.3h4v4h-4zM228.5 128.3h4v4h-4zM244.5 136.3h4v4h-4z"/>
<path fill="#e8b435" d="M276.5 108.3h4v4h-4zM88.5 116.3h4v4h-4zM280.5 116.3h4v4h-4zM84.5 124.3h4v4h-4zM284.5 128.3h4v4h-4z"/>
<path fill="#dcb62e" d="M92.5 112.3h4v4h-4zM264.5 120.3h4v4h-4zM264.5 124.3h4v4h-4zM80.5 132.3h4v4h-4zM192.5 148.3h4v4h-4zM268.5 152.3h4v4h-4zM272.5 152.3h4v4h-4zM276.5 152.3h4v4h-4zM280.5 152.3h4v4h-4zM268.5 156.3h4v4h-4zM272.5 156.3h4v4h-4zM276.5 156.3h4v4h-4zM280.5 156.3h4v4h-4zM268.5 160.3h4v4h-4zM272.5 160.3h4v4h-4zM276.5 160.3h4v4h-4zM280.5 160.3h4v4h-4z"/>
<path fill="#35c39c" d="M104.5 112.3h4v4h-4z"/>
<path fill="#15abd5" d="M112.5 112.3h4v4h-4z"/>
<path fill="#16abd6" d="M116.5 112.3h4v4h-4zM116.5 124.3h4v4h-4zM96.5 152.3h4v4h-4zM96.5 156.3h4v4h-4zM96.5 160.3h4v4h-4z"/>
<path fill="#12b0d0" d="M120.5 112.3h4v4h-4zM116.5 128.3h4v4h-4zM112.5 136.3h4v4h-4z"/>
<path fill="#73c868" d="M144.5 112.3h4v4h-4z"/>
<path fill="#19b7be" d="M236.5 112.3h4v4h-4zM240.5 124.3h4v4h-4z"/>
<path fill="#50c884" d="M244.5 112.3h4v4h-4z"/>
<path fill="#d1ba2d" d="M92.5 116.3h4v4h-4zM164.5 144.3h4v4h-4zM56.5 152.3h4v4h-4zM56.5 156.3h4v4h-4zM56.5 160.3h4v4h-4z"/>
<path fill="#18b6c1" d="M104.5 116.3h4v4h-4z"/>
<path fill="#16aad7" d="M108.5 116.3h4v4h-4z"/>
<path fill="#1aa4dd" d="M112.5 116.3h4v4h-4z"/>
<path fill="#17a8d8" d="M116.5 116.3h4v4h-4z"/>
<path fill="#12b0cf" d="M120.5 116.3h4v4h-4z"/>
<path fill="#17b5c2" d="M124.5 116.3h4v4h-4zM232.5 116.3h4v4h-4zM236.5 116.3h4v4h-4zM112.5 140.3h4v4h-4zM228.5 152.3h4v4h-4zM228.5 156.3h4v4h-4zM228.5 160.3h4v4h-4z"/>
<path fill="#7ac762" d="M144.5 116.3h4v4h-4zM140.5 124.3h4v4h-4z"/>
<path fill="#c5bd2f" d="M184.5 116.3h4v4h-4zM188.5 116.3h4v4h-4zM192.5 120.3h4v4h-4z"/>
<path fill="#6ac86e" d="M216.5 116.3h4v4h-4z"/>
<path fill="#1fbbb4" d="M240.5 116.3h4v4h-4z"/>
<path fill="#ddb62f" d="M264.5 116.3h4v4h-4zM268.5 148.3h4v4h-4zM272.5 148.3h4v4h-4zM276.5 148.3h4v4h-4zM280.5 148.3h4v4h-4zM196.5 152.3h4v4h-4zM196.5 156.3h4v4h-4zM196.5 160.3h4v4h-4z"/>
<path fill="#16aad6" d="M104.5 120.3h4v4h-4zM232.5 144.3h4v4h-4z"/>
<path fill="#1f9ee4" d="M108.5 120.3h4v4h-4z"/>
<path fill="#1da0e1" d="M112.5 120.3h4v4h-4z"/>
<path fill="#17a9d8" d="M116.5 120.3h4v4h-4z"/>
<path fill="#14b2cc" d="M120.5 120.3h4v4h-4zM96.5 128.3h4v4h-4zM240.5 132.3h4v4h-4z"/>
<path fill="#2bc0a7" d="M128.5 120.3h4v4h-4zM124.5 128.3h4v4h-4z"/>
<path fill="#a2c145" d="M152.5 120.3h4v4h-4z"/>
<path fill="#17b5c4" d="M232.5 120.3h4v4h-4z"/>
<path fill="#14add3" d="M100.5 124.3h4v4h-4z"/>
<path fill="#2298e7" d="M104.5 124.3h4v4h-4z"/>
<path fill="#2593ea" d="M108.5 124.3h4v4h-4zM80.5 144.3h4v4h-4z"/>
<path fill="#1e9fe3" d="M112.5 124.3h4v4h-4zM236.5 152.3h4v4h-4zM236.5 156.3h4v4h-4zM236.5 160.3h4v4h-4z"/>
<path fill="#c7bc2e" d="M188.5 124.3h4v4h-4z"/>
<path fill="#15b3c8" d="M236.5 124.3h4v4h-4z"/>
<path fill="#46c88c" d="M92.5 128.3h4v4h-4z"/>
<path fill="#2397e8" d="M100.5 128.3h4v4h-4z"/>
<path fill="#2c87f0" d="M104.5 128.3h4v4h-4zM92.5 136.3h4v4h-4zM104.5 136.3h4v4h-4z"/>
<path fill="#278fec" d="M108.5 128.3h4v4h-4z"/>
<path fill="#1da1e0" d="M112.5 128.3h4v4h-4z"/>
<path fill="#18b6bf" d="M120.5 128.3h4v4h-4zM228.5 132.3h4v4h-4z"/>
<path fill="#13b1cd" d="M236.5 128.3h4v4h-4zM92.5 132.3h4v4h-4zM232.5 132.3h4v4h-4zM244.5 148.3h4v4h-4z"/>
<path fill="#fcbb38" d="M312.5 128.3h4v4h-4zM324.5 136.3h4v4h-4zM328.5 136.3h4v4h-4zM332.5 136.3h4v4h-4z"/>
<path fill="#4cc887" d="M88.5 132.3h4v4h-4z"/>
<path fill="#2790eb" d="M96.5 132.3h4v4h-4z"/>
<path fill="#337bf7" d="M100.5 132.3h4v4h-4z"/>
<path fill="#2f81f3" d="M104.5 132.3h4v4h-4z"/>
<path fill="#2494e9" d="M108.5 132.3h4v4h-4z"/>
<path fill="#18a7d9" d="M112.5 132.3h4v4h-4zM84.5 140.3h4v4h-4z"/>
<path fill="#1fbab4" d="M120.5 132.3h4v4h-4z"/>
<path fill="#6ac86f" d="M132.5 132.3h4v4h-4z"/>
<path fill="#14aed2" d="M236.5 132.3h4v4h-4zM240.5 136.3h4v4h-4z"/>
<path fill="#1ebab5" d="M244.5 132.3h4v4h-4z"/>
<path fill="#fdbc38" d="M320.5 132.3h4v4h-4z"/>
<path fill="#3a6af5" d="M96.5 136.3h4v4h-4z"/>
<path fill="#386ff6" d="M100.5 136.3h4v4h-4z"/>
<path fill="#1da0e2" d="M108.5 136.3h4v4h-4zM236.5 148.3h4v4h-4z"/>
<path fill="#17b5c1" d="M228.5 136.3h4v4h-4z"/>
<path fill="#17a9d7" d="M236.5 136.3h4v4h-4zM232.5 152.3h4v4h-4zM232.5 156.3h4v4h-4zM232.5 160.3h4v4h-4z"/>
<path fill="#3478f8" d="M88.5 140.3h4v4h-4z"/>
<path fill="#405aee" d="M92.5 140.3h4v4h-4z"/>
<path fill="#405df0" d="M96.5 140.3h4v4h-4z"/>
<path fill="#3576f7" d="M100.5 140.3h4v4h-4zM72.5 152.3h4v4h-4zM72.5 156.3h4v4h-4zM72.5 160.3h4v4h-4z"/>
<path fill="#2398e7" d="M104.5 140.3h4v4h-4z"/>
<path fill="#15acd5" d="M108.5 140.3h4v4h-4z"/>
<path fill="#90c351" d="M216.5 140.3h4v4h-4z"/>
<path fill="#15acd4" d="M232.5 140.3h4v4h-4z"/>
<path fill="#1aa5dc" d="M236.5 140.3h4v4h-4z"/>
<path fill="#18a8d9" d="M240.5 140.3h4v4h-4zM104.5 144.3h4v4h-4zM68.5 152.3h4v4h-4zM68.5 156.3h4v4h-4zM68.5 160.3h4v4h-4z"/>
<path fill="#16b4c4" d="M244.5 140.3h4v4h-4z"/>
<path fill="#3ec793" d="M248.5 140.3h4v4h-4z"/>
<path fill="#3f5ef1" d="M84.5 144.3h4v4h-4z"/>
<path fill="#4548e1" d="M88.5 144.3h4v4h-4z"/>
<path fill="#444ee6" d="M92.5 144.3h4v4h-4z"/>
<path fill="#3b67f4" d="M96.5 144.3h4v4h-4z"/>
<path fill="#288ded" d="M100.5 144.3h4v4h-4z"/>
<path fill="#22bcb0" d="M112.5 144.3h4v4h-4zM104.5 152.3h4v4h-4zM104.5 156.3h4v4h-4zM104.5 160.3h4v4h-4z"/>
<path fill="#1ca2e0" d="M236.5 144.3h4v4h-4zM240.5 148.3h4v4h-4z"/>
<path fill="#1ba4dd" d="M240.5 144.3h4v4h-4z"/>
<path fill="#327cf6" d="M76.5 148.3h4v4h-4z"/>
<path fill="#4547e0" d="M80.5 148.3h4v4h-4z"/>
<path fill="#443ed2" d="M84.5 148.3h4v4h-4z"/>
<path fill="#444be4" d="M88.5 148.3h4v4h-4z"/>
<path fill="#3a69f4" d="M92.5 148.3h4v4h-4z"/>
<path fill="#2b88ef" d="M96.5 148.3h4v4h-4z"/>
<path fill="#19a6db" d="M100.5 148.3h4v4h-4z"/>
<path fill="#1fbbb3" d="M108.5 148.3h4v4h-4z"/>
<path fill="#9ec248" d="M132.5 148.3h4v4h-4z"/>
<path fill="#17aad7" d="M232.5 148.3h4v4h-4z"/>
<path fill="#eab435" d="M296.5 148.3h4v4h-4zM300.5 152.3h4v4h-4zM300.5 156.3h4v4h-4zM300.5 160.3h4v4h-4z"/>
<path fill="#434ee6" d="M76.5 152.3h4v4h-4zM76.5 156.3h4v4h-4zM76.5 160.3h4v4h-4z"/>
<path fill="#4442d8" d="M80.5 152.3h4v4h-4zM80.5 156.3h4v4h-4zM80.5 160.3h4v4h-4z"/>
<path fill="#444ce5" d="M84.5 152.3h4v4h-4zM84.5 156.3h4v4h-4zM84.5 160.3h4v4h-4z"/>
<path fill="#3673f7" d="M88.5 152.3h4v4h-4zM88.5 156.3h4v4h-4zM88.5 160.3h4v4h-4z"/>
<path fill="#2299e6" d="M92.5 152.3h4v4h-4zM92.5 156.3h4v4h-4zM92.5 160.3h4v4h-4z"/>
<path fill="#3ac597" d="M108.5 152.3h4v4h-4zM108.5 156.3h4v4h-4zM108.5 160.3h4v4h-4z"/>
<path fill="#1ea0e2" d="M240.5 152.3h4v4h-4zM240.5 156.3h4v4h-4zM240.5 160.3h4v4h-4z"/>
<path fill="#12b0d1" d="M244.5 152.3h4v4h-4zM244.5 156.3h4v4h-4zM244.5 160.3h4v4h-4z"/>
</g></g>
<clipPath id="clipR"><rect x="358" y="24.3" width="262" height="129.7"/></clipPath>
<filter id="blurR" x="-5%" y="-5%" width="110%" height="110%"><feGaussianBlur stdDeviation="2.0"/></filter>
<g clip-path="url(#clipR)"><g filter="url(#blurR)" shape-rendering="crispEdges">
<path fill="#f6e822" d="M350 16.3h4v4h-4zM354 16.3h4v4h-4zM358 16.3h4v4h-4zM362 16.3h4v4h-4zM366 16.3h4v4h-4zM370 16.3h4v4h-4zM374 16.3h4v4h-4zM378 16.3h4v4h-4zM382 16.3h4v4h-4zM586 16.3h4v4h-4zM590 16.3h4v4h-4zM594 16.3h4v4h-4zM598 16.3h4v4h-4zM602 16.3h4v4h-4zM606 16.3h4v4h-4zM610 16.3h4v4h-4zM614 16.3h4v4h-4zM618 16.3h4v4h-4zM622 16.3h4v4h-4zM626 16.3h4v4h-4zM350 20.3h4v4h-4zM354 20.3h4v4h-4zM358 20.3h4v4h-4zM362 20.3h4v4h-4zM366 20.3h4v4h-4zM370 20.3h4v4h-4zM374 20.3h4v4h-4zM378 20.3h4v4h-4zM382 20.3h4v4h-4zM586 20.3h4v4h-4zM590 20.3h4v4h-4zM594 20.3h4v4h-4zM598 20.3h4v4h-4zM602 20.3h4v4h-4zM606 20.3h4v4h-4zM610 20.3h4v4h-4zM614 20.3h4v4h-4zM618 20.3h4v4h-4zM622 20.3h4v4h-4zM626 20.3h4v4h-4zM350 24.3h4v4h-4zM354 24.3h4v4h-4zM358 24.3h4v4h-4zM362 24.3h4v4h-4zM366 24.3h4v4h-4zM370 24.3h4v4h-4zM374 24.3h4v4h-4zM378 24.3h4v4h-4zM382 24.3h4v4h-4zM586 24.3h4v4h-4zM590 24.3h4v4h-4zM594 24.3h4v4h-4zM598 24.3h4v4h-4zM602 24.3h4v4h-4zM606 24.3h4v4h-4zM610 24.3h4v4h-4zM614 24.3h4v4h-4zM618 24.3h4v4h-4zM622 24.3h4v4h-4zM626 24.3h4v4h-4zM350 28.3h4v4h-4zM354 28.3h4v4h-4zM358 28.3h4v4h-4zM362 28.3h4v4h-4zM366 28.3h4v4h-4zM370 28.3h4v4h-4zM374 28.3h4v4h-4zM378 28.3h4v4h-4zM586 28.3h4v4h-4zM590 28.3h4v4h-4zM594 28.3h4v4h-4zM598 28.3h4v4h-4zM602 28.3h4v4h-4zM606 28.3h4v4h-4zM610 28.3h4v4h-4zM614 28.3h4v4h-4zM618 28.3h4v4h-4zM622 28.3h4v4h-4zM626 28.3h4v4h-4zM350 32.3h4v4h-4zM354 32.3h4v4h-4zM358 32.3h4v4h-4zM362 32.3h4v4h-4zM366 32.3h4v4h-4zM370 32.3h4v4h-4zM374 32.3h4v4h-4zM378 32.3h4v4h-4zM590 32.3h4v4h-4zM594 32.3h4v4h-4zM598 32.3h4v4h-4zM602 32.3h4v4h-4zM606 32.3h4v4h-4zM610 32.3h4v4h-4zM614 32.3h4v4h-4zM618 32.3h4v4h-4zM622 32.3h4v4h-4zM626 32.3h4v4h-4zM350 36.3h4v4h-4zM354 36.3h4v4h-4zM358 36.3h4v4h-4zM362 36.3h4v4h-4zM366 36.3h4v4h-4zM370 36.3h4v4h-4zM374 36.3h4v4h-4zM378 36.3h4v4h-4zM590 36.3h4v4h-4zM594 36.3h4v4h-4zM598 36.3h4v4h-4zM602 36.3h4v4h-4zM606 36.3h4v4h-4zM610 36.3h4v4h-4zM614 36.3h4v4h-4zM618 36.3h4v4h-4zM622 36.3h4v4h-4zM626 36.3h4v4h-4zM350 40.3h4v4h-4zM354 40.3h4v4h-4zM358 40.3h4v4h-4zM362 40.3h4v4h-4zM366 40.3h4v4h-4zM370 40.3h4v4h-4zM374 40.3h4v4h-4zM590 40.3h4v4h-4zM594 40.3h4v4h-4zM598 40.3h4v4h-4zM602 40.3h4v4h-4zM606 40.3h4v4h-4zM610 40.3h4v4h-4zM614 40.3h4v4h-4zM618 40.3h4v4h-4zM622 40.3h4v4h-4zM626 40.3h4v4h-4zM350 44.3h4v4h-4zM354 44.3h4v4h-4zM358 44.3h4v4h-4zM362 44.3h4v4h-4zM366 44.3h4v4h-4zM370 44.3h4v4h-4zM374 44.3h4v4h-4zM594 44.3h4v4h-4zM598 44.3h4v4h-4zM602 44.3h4v4h-4zM606 44.3h4v4h-4zM610 44.3h4v4h-4zM614 44.3h4v4h-4zM618 44.3h4v4h-4zM622 44.3h4v4h-4zM626 44.3h4v4h-4zM350 48.3h4v4h-4zM354 48.3h4v4h-4zM358 48.3h4v4h-4zM362 48.3h4v4h-4zM366 48.3h4v4h-4zM370 48.3h4v4h-4zM374 48.3h4v4h-4zM594 48.3h4v4h-4zM598 48.3h4v4h-4zM602 48.3h4v4h-4zM606 48.3h4v4h-4zM610 48.3h4v4h-4zM614 48.3h4v4h-4zM618 48.3h4v4h-4zM622 48.3h4v4h-4zM626 48.3h4v4h-4zM350 52.3h4v4h-4zM354 52.3h4v4h-4zM358 52.3h4v4h-4zM362 52.3h4v4h-4zM366 52.3h4v4h-4zM370 52.3h4v4h-4zM374 52.3h4v4h-4zM594 52.3h4v4h-4zM598 52.3h4v4h-4zM602 52.3h4v4h-4zM606 52.3h4v4h-4zM610 52.3h4v4h-4zM614 52.3h4v4h-4zM618 52.3h4v4h-4zM622 52.3h4v4h-4zM626 52.3h4v4h-4zM350 56.3h4v4h-4zM354 56.3h4v4h-4zM358 56.3h4v4h-4zM362 56.3h4v4h-4zM366 56.3h4v4h-4zM370 56.3h4v4h-4zM374 56.3h4v4h-4zM594 56.3h4v4h-4zM598 56.3h4v4h-4zM602 56.3h4v4h-4zM606 56.3h4v4h-4zM610 56.3h4v4h-4zM614 56.3h4v4h-4zM618 56.3h4v4h-4zM622 56.3h4v4h-4zM626 56.3h4v4h-4zM350 60.3h4v4h-4zM354 60.3h4v4h-4zM358 60.3h4v4h-4zM362 60.3h4v4h-4zM366 60.3h4v4h-4zM370 60.3h4v4h-4zM374 60.3h4v4h-4zM594 60.3h4v4h-4zM598 60.3h4v4h-4zM602 60.3h4v4h-4zM606 60.3h4v4h-4zM610 60.3h4v4h-4zM614 60.3h4v4h-4zM618 60.3h4v4h-4zM622 60.3h4v4h-4zM626 60.3h4v4h-4zM350 64.3h4v4h-4zM354 64.3h4v4h-4zM358 64.3h4v4h-4zM362 64.3h4v4h-4zM366 64.3h4v4h-4zM370 64.3h4v4h-4zM374 64.3h4v4h-4zM598 64.3h4v4h-4zM602 64.3h4v4h-4zM606 64.3h4v4h-4zM610 64.3h4v4h-4zM614 64.3h4v4h-4zM618 64.3h4v4h-4zM622 64.3h4v4h-4zM626 64.3h4v4h-4zM350 68.3h4v4h-4zM354 68.3h4v4h-4zM358 68.3h4v4h-4zM362 68.3h4v4h-4zM366 68.3h4v4h-4zM370 68.3h4v4h-4zM374 68.3h4v4h-4zM598 68.3h4v4h-4zM602 68.3h4v4h-4zM606 68.3h4v4h-4zM610 68.3h4v4h-4zM614 68.3h4v4h-4zM618 68.3h4v4h-4zM622 68.3h4v4h-4zM626 68.3h4v4h-4zM350 72.3h4v4h-4zM354 72.3h4v4h-4zM358 72.3h4v4h-4zM362 72.3h4v4h-4zM366 72.3h4v4h-4zM370 72.3h4v4h-4zM374 72.3h4v4h-4zM598 72.3h4v4h-4zM602 72.3h4v4h-4zM606 72.3h4v4h-4zM610 72.3h4v4h-4zM614 72.3h4v4h-4zM618 72.3h4v4h-4zM622 72.3h4v4h-4zM626 72.3h4v4h-4zM350 76.3h4v4h-4zM354 76.3h4v4h-4zM358 76.3h4v4h-4zM362 76.3h4v4h-4zM366 76.3h4v4h-4zM370 76.3h4v4h-4zM374 76.3h4v4h-4zM602 76.3h4v4h-4zM606 76.3h4v4h-4zM610 76.3h4v4h-4zM614 76.3h4v4h-4zM618 76.3h4v4h-4zM622 76.3h4v4h-4zM626 76.3h4v4h-4zM350 80.3h4v4h-4zM354 80.3h4v4h-4zM358 80.3h4v4h-4zM362 80.3h4v4h-4zM366 80.3h4v4h-4zM370 80.3h4v4h-4zM374 80.3h4v4h-4zM606 80.3h4v4h-4zM610 80.3h4v4h-4zM614 80.3h4v4h-4zM618 80.3h4v4h-4zM622 80.3h4v4h-4zM626 80.3h4v4h-4zM350 84.3h4v4h-4zM354 84.3h4v4h-4zM358 84.3h4v4h-4zM362 84.3h4v4h-4zM366 84.3h4v4h-4zM370 84.3h4v4h-4zM374 84.3h4v4h-4zM614 84.3h4v4h-4zM618 84.3h4v4h-4zM622 84.3h4v4h-4zM626 84.3h4v4h-4zM350 88.3h4v4h-4zM354 88.3h4v4h-4zM358 88.3h4v4h-4zM362 88.3h4v4h-4zM366 88.3h4v4h-4zM370 88.3h4v4h-4zM374 88.3h4v4h-4zM350 92.3h4v4h-4zM354 92.3h4v4h-4zM358 92.3h4v4h-4zM362 92.3h4v4h-4zM366 92.3h4v4h-4zM370 92.3h4v4h-4zM374 92.3h4v4h-4zM378 92.3h4v4h-4zM350 96.3h4v4h-4zM354 96.3h4v4h-4zM358 96.3h4v4h-4zM362 96.3h4v4h-4zM366 96.3h4v4h-4zM370 96.3h4v4h-4zM374 96.3h4v4h-4zM378 96.3h4v4h-4zM350 100.3h4v4h-4zM354 100.3h4v4h-4zM358 100.3h4v4h-4zM362 100.3h4v4h-4zM366 100.3h4v4h-4zM370 100.3h4v4h-4zM374 100.3h4v4h-4zM378 100.3h4v4h-4zM350 104.3h4v4h-4zM354 104.3h4v4h-4zM358 104.3h4v4h-4zM362 104.3h4v4h-4zM366 104.3h4v4h-4zM370 104.3h4v4h-4zM374 104.3h4v4h-4zM378 104.3h4v4h-4zM350 108.3h4v4h-4zM354 108.3h4v4h-4zM358 108.3h4v4h-4zM362 108.3h4v4h-4zM366 108.3h4v4h-4zM370 108.3h4v4h-4zM374 108.3h4v4h-4zM350 112.3h4v4h-4zM354 112.3h4v4h-4zM358 112.3h4v4h-4zM362 112.3h4v4h-4zM366 112.3h4v4h-4zM370 112.3h4v4h-4zM374 112.3h4v4h-4zM350 116.3h4v4h-4zM354 116.3h4v4h-4zM358 116.3h4v4h-4zM362 116.3h4v4h-4zM366 116.3h4v4h-4zM370 116.3h4v4h-4zM350 120.3h4v4h-4zM354 120.3h4v4h-4zM358 120.3h4v4h-4zM362 120.3h4v4h-4zM366 120.3h4v4h-4zM370 120.3h4v4h-4zM350 124.3h4v4h-4zM354 124.3h4v4h-4zM358 124.3h4v4h-4zM362 124.3h4v4h-4zM366 124.3h4v4h-4zM350 128.3h4v4h-4zM354 128.3h4v4h-4zM358 128.3h4v4h-4zM362 128.3h4v4h-4zM350 132.3h4v4h-4zM354 132.3h4v4h-4zM358 132.3h4v4h-4zM350 136.3h4v4h-4zM354 136.3h4v4h-4zM358 136.3h4v4h-4zM350 140.3h4v4h-4zM354 140.3h4v4h-4z"/>
<path fill="#f6e722" d="M386 16.3h4v4h-4zM390 16.3h4v4h-4zM574 16.3h4v4h-4zM578 16.3h4v4h-4zM582 16.3h4v4h-4zM386 20.3h4v4h-4zM390 20.3h4v4h-4zM574 20.3h4v4h-4zM578 20.3h4v4h-4zM582 20.3h4v4h-4zM386 24.3h4v4h-4zM390 24.3h4v4h-4zM578 24.3h4v4h-4zM582 24.3h4v4h-4zM382 28.3h4v4h-4zM386 28.3h4v4h-4zM390 28.3h4v4h-4zM578 28.3h4v4h-4zM582 28.3h4v4h-4zM382 32.3h4v4h-4zM386 32.3h4v4h-4zM582 32.3h4v4h-4zM586 32.3h4v4h-4zM382 36.3h4v4h-4zM386 36.3h4v4h-4zM582 36.3h4v4h-4zM586 36.3h4v4h-4zM378 40.3h4v4h-4zM382 40.3h4v4h-4zM582 40.3h4v4h-4zM586 40.3h4v4h-4zM378 44.3h4v4h-4zM382 44.3h4v4h-4zM586 44.3h4v4h-4zM590 44.3h4v4h-4zM378 48.3h4v4h-4zM382 48.3h4v4h-4zM586 48.3h4v4h-4zM590 48.3h4v4h-4zM378 52.3h4v4h-4zM382 52.3h4v4h-4zM586 52.3h4v4h-4zM590 52.3h4v4h-4zM378 56.3h4v4h-4zM382 56.3h4v4h-4zM586 56.3h4v4h-4zM590 56.3h4v4h-4zM378 60.3h4v4h-4zM382 60.3h4v4h-4zM586 60.3h4v4h-4zM590 60.3h4v4h-4zM378 64.3h4v4h-4zM382 64.3h4v4h-4zM586 64.3h4v4h-4zM590 64.3h4v4h-4zM594 64.3h4v4h-4zM378 68.3h4v4h-4zM382 68.3h4v4h-4zM590 68.3h4v4h-4zM594 68.3h4v4h-4zM378 72.3h4v4h-4zM382 72.3h4v4h-4zM590 72.3h4v4h-4zM594 72.3h4v4h-4zM378 76.3h4v4h-4zM382 76.3h4v4h-4zM590 76.3h4v4h-4zM594 76.3h4v4h-4zM598 76.3h4v4h-4zM378 80.3h4v4h-4zM382 80.3h4v4h-4zM594 80.3h4v4h-4zM598 80.3h4v4h-4zM602 80.3h4v4h-4zM378 84.3h4v4h-4zM382 84.3h4v4h-4zM598 84.3h4v4h-4zM602 84.3h4v4h-4zM606 84.3h4v4h-4zM610 84.3h4v4h-4zM378 88.3h4v4h-4zM382 88.3h4v4h-4zM386 88.3h4v4h-4zM606 88.3h4v4h-4zM610 88.3h4v4h-4zM614 88.3h4v4h-4zM618 88.3h4v4h-4zM622 88.3h4v4h-4zM626 88.3h4v4h-4zM382 92.3h4v4h-4zM386 92.3h4v4h-4zM618 92.3h4v4h-4zM622 92.3h4v4h-4zM626 92.3h4v4h-4zM382 96.3h4v4h-4zM386 96.3h4v4h-4zM382 100.3h4v4h-4zM386 100.3h4v4h-4zM382 104.3h4v4h-4zM386 104.3h4v4h-4zM378 108.3h4v4h-4zM382 108.3h4v4h-4zM386 108.3h4v4h-4zM378 112.3h4v4h-4zM382 112.3h4v4h-4zM374 116.3h4v4h-4zM378 116.3h4v4h-4zM382 116.3h4v4h-4zM374 120.3h4v4h-4zM378 120.3h4v4h-4zM370 124.3h4v4h-4zM374 124.3h4v4h-4zM378 124.3h4v4h-4zM366 128.3h4v4h-4zM370 128.3h4v4h-4zM374 128.3h4v4h-4zM362 132.3h4v4h-4zM366 132.3h4v4h-4zM370 132.3h4v4h-4zM362 136.3h4v4h-4zM366 136.3h4v4h-4zM370 136.3h4v4h-4zM358 140.3h4v4h-4zM362 140.3h4v4h-4zM366 140.3h4v4h-4zM350 144.3h4v4h-4zM354 144.3h4v4h-4zM358 144.3h4v4h-4zM362 144.3h4v4h-4zM366 144.3h4v4h-4zM350 148.3h4v4h-4zM354 148.3h4v4h-4zM358 148.3h4v4h-4zM362 148.3h4v4h-4zM366 148.3h4v4h-4zM350 152.3h4v4h-4zM354 152.3h4v4h-4zM358 152.3h4v4h-4zM362 152.3h4v4h-4zM366 152.3h4v4h-4zM350 156.3h4v4h-4zM354 156.3h4v4h-4zM358 156.3h4v4h-4zM362 156.3h4v4h-4zM366 156.3h4v4h-4zM350 160.3h4v4h-4zM354 160.3h4v4h-4zM358 160.3h4v4h-4zM362 160.3h4v4h-4zM366 160.3h4v4h-4z"/>
<path fill="#f6e723" d="M394 16.3h4v4h-4zM398 16.3h4v4h-4zM402 16.3h4v4h-4zM566 16.3h4v4h-4zM570 16.3h4v4h-4zM394 20.3h4v4h-4zM398 20.3h4v4h-4zM402 20.3h4v4h-4zM566 20.3h4v4h-4zM570 20.3h4v4h-4zM394 24.3h4v4h-4zM398 24.3h4v4h-4zM402 24.3h4v4h-4zM566 24.3h4v4h-4zM570 24.3h4v4h-4zM574 24.3h4v4h-4zM394 28.3h4v4h-4zM398 28.3h4v4h-4zM570 28.3h4v4h-4zM574 28.3h4v4h-4zM390 32.3h4v4h-4zM394 32.3h4v4h-4zM398 32.3h4v4h-4zM570 32.3h4v4h-4zM574 32.3h4v4h-4zM578 32.3h4v4h-4zM390 36.3h4v4h-4zM394 36.3h4v4h-4zM574 36.3h4v4h-4zM578 36.3h4v4h-4zM386 40.3h4v4h-4zM390 40.3h4v4h-4zM394 40.3h4v4h-4zM574 40.3h4v4h-4zM578 40.3h4v4h-4zM386 44.3h4v4h-4zM390 44.3h4v4h-4zM394 44.3h4v4h-4zM574 44.3h4v4h-4zM578 44.3h4v4h-4zM582 44.3h4v4h-4zM386 48.3h4v4h-4zM390 48.3h4v4h-4zM578 48.3h4v4h-4zM582 48.3h4v4h-4zM386 52.3h4v4h-4zM390 52.3h4v4h-4zM578 52.3h4v4h-4zM582 52.3h4v4h-4zM386 56.3h4v4h-4zM390 56.3h4v4h-4zM578 56.3h4v4h-4zM582 56.3h4v4h-4zM386 60.3h4v4h-4zM390 60.3h4v4h-4zM578 60.3h4v4h-4zM582 60.3h4v4h-4zM386 64.3h4v4h-4zM390 64.3h4v4h-4zM578 64.3h4v4h-4zM582 64.3h4v4h-4zM386 68.3h4v4h-4zM390 68.3h4v4h-4zM578 68.3h4v4h-4zM582 68.3h4v4h-4zM586 68.3h4v4h-4zM386 72.3h4v4h-4zM390 72.3h4v4h-4zM578 72.3h4v4h-4zM582 72.3h4v4h-4zM586 72.3h4v4h-4zM386 76.3h4v4h-4zM390 76.3h4v4h-4zM578 76.3h4v4h-4zM582 76.3h4v4h-4zM586 76.3h4v4h-4zM386 80.3h4v4h-4zM390 80.3h4v4h-4zM582 80.3h4v4h-4zM586 80.3h4v4h-4zM590 80.3h4v4h-4zM386 84.3h4v4h-4zM390 84.3h4v4h-4zM394 84.3h4v4h-4zM582 84.3h4v4h-4zM586 84.3h4v4h-4zM590 84.3h4v4h-4zM594 84.3h4v4h-4zM390 88.3h4v4h-4zM394 88.3h4v4h-4zM586 88.3h4v4h-4zM590 88.3h4v4h-4zM594 88.3h4v4h-4zM598 88.3h4v4h-4zM602 88.3h4v4h-4zM390 92.3h4v4h-4zM394 92.3h4v4h-4zM594 92.3h4v4h-4zM598 92.3h4v4h-4zM602 92.3h4v4h-4zM606 92.3h4v4h-4zM610 92.3h4v4h-4zM614 92.3h4v4h-4zM390 96.3h4v4h-4zM394 96.3h4v4h-4zM606 96.3h4v4h-4zM610 96.3h4v4h-4zM614 96.3h4v4h-4zM618 96.3h4v4h-4zM622 96.3h4v4h-4zM626 96.3h4v4h-4zM390 100.3h4v4h-4zM394 100.3h4v4h-4zM618 100.3h4v4h-4zM622 100.3h4v4h-4zM626 100.3h4v4h-4zM390 104.3h4v4h-4zM394 104.3h4v4h-4zM390 108.3h4v4h-4zM394 108.3h4v4h-4zM386 112.3h4v4h-4zM390 112.3h4v4h-4zM394 112.3h4v4h-4zM386 116.3h4v4h-4zM390 116.3h4v4h-4zM382 120.3h4v4h-4zM386 120.3h4v4h-4zM390 120.3h4v4h-4zM382 124.3h4v4h-4zM386 124.3h4v4h-4zM378 128.3h4v4h-4zM382 128.3h4v4h-4zM386 128.3h4v4h-4zM374 132.3h4v4h-4zM378 132.3h4v4h-4zM382 132.3h4v4h-4zM374 136.3h4v4h-4zM378 136.3h4v4h-4zM382 136.3h4v4h-4zM370 140.3h4v4h-4zM374 140.3h4v4h-4zM378 140.3h4v4h-4zM370 144.3h4v4h-4zM374 144.3h4v4h-4zM378 144.3h4v4h-4zM370 148.3h4v4h-4zM374 148.3h4v4h-4zM378 148.3h4v4h-4zM370 152.3h4v4h-4zM374 152.3h4v4h-4zM378 152.3h4v4h-4zM370 156.3h4v4h-4zM374 156.3h4v4h-4zM378 156.3h4v4h-4zM370 160.3h4v4h-4zM374 160.3h4v4h-4zM378 160.3h4v4h-4z"/>
<path fill="#f6e623" d="M406 16.3h4v4h-4zM410 16.3h4v4h-4zM558 16.3h4v4h-4zM562 16.3h4v4h-4zM406 20.3h4v4h-4zM410 20.3h4v4h-4zM558 20.3h4v4h-4zM562 20.3h4v4h-4zM406 24.3h4v4h-4zM410 24.3h4v4h-4zM558 24.3h4v4h-4zM562 24.3h4v4h-4zM402 28.3h4v4h-4zM406 28.3h4v4h-4zM562 28.3h4v4h-4zM566 28.3h4v4h-4zM402 32.3h4v4h-4zM562 32.3h4v4h-4zM566 32.3h4v4h-4zM398 36.3h4v4h-4zM402 36.3h4v4h-4zM566 36.3h4v4h-4zM570 36.3h4v4h-4zM398 40.3h4v4h-4zM566 40.3h4v4h-4zM570 40.3h4v4h-4zM398 44.3h4v4h-4zM570 44.3h4v4h-4zM394 48.3h4v4h-4zM398 48.3h4v4h-4zM570 48.3h4v4h-4zM574 48.3h4v4h-4zM394 52.3h4v4h-4zM398 52.3h4v4h-4zM570 52.3h4v4h-4zM574 52.3h4v4h-4zM394 56.3h4v4h-4zM398 56.3h4v4h-4zM570 56.3h4v4h-4zM574 56.3h4v4h-4zM394 60.3h4v4h-4zM574 60.3h4v4h-4zM394 64.3h4v4h-4zM574 64.3h4v4h-4zM394 68.3h4v4h-4zM398 68.3h4v4h-4zM574 68.3h4v4h-4zM394 72.3h4v4h-4zM398 72.3h4v4h-4zM574 72.3h4v4h-4zM394 76.3h4v4h-4zM398 76.3h4v4h-4zM574 76.3h4v4h-4zM394 80.3h4v4h-4zM398 80.3h4v4h-4zM574 80.3h4v4h-4zM578 80.3h4v4h-4zM398 84.3h4v4h-4zM574 84.3h4v4h-4zM578 84.3h4v4h-4zM398 88.3h4v4h-4zM578 88.3h4v4h-4zM582 88.3h4v4h-4zM398 92.3h4v4h-4zM582 92.3h4v4h-4zM586 92.3h4v4h-4zM590 92.3h4v4h-4zM398 96.3h4v4h-4zM402 96.3h4v4h-4zM590 96.3h4v4h-4zM594 96.3h4v4h-4zM598 96.3h4v4h-4zM602 96.3h4v4h-4zM398 100.3h4v4h-4zM402 100.3h4v4h-4zM606 100.3h4v4h-4zM610 100.3h4v4h-4zM614 100.3h4v4h-4zM398 104.3h4v4h-4zM402 104.3h4v4h-4zM618 104.3h4v4h-4zM622 104.3h4v4h-4zM626 104.3h4v4h-4zM398 108.3h4v4h-4zM402 108.3h4v4h-4zM398 112.3h4v4h-4zM394 116.3h4v4h-4zM398 116.3h4v4h-4zM394 120.3h4v4h-4zM398 120.3h4v4h-4zM390 124.3h4v4h-4zM394 124.3h4v4h-4zM390 128.3h4v4h-4zM394 128.3h4v4h-4zM386 132.3h4v4h-4zM390 132.3h4v4h-4zM386 136.3h4v4h-4zM390 136.3h4v4h-4zM382 140.3h4v4h-4zM386 140.3h4v4h-4zM382 144.3h4v4h-4zM386 144.3h4v4h-4zM382 148.3h4v4h-4zM386 148.3h4v4h-4zM382 152.3h4v4h-4zM386 152.3h4v4h-4zM382 156.3h4v4h-4zM386 156.3h4v4h-4zM382 160.3h4v4h-4zM386 160.3h4v4h-4z"/>
<path fill="#f6e624" d="M414 16.3h4v4h-4zM554 16.3h4v4h-4zM414 20.3h4v4h-4zM554 20.3h4v4h-4zM554 24.3h4v4h-4zM410 28.3h4v4h-4zM558 28.3h4v4h-4zM406 32.3h4v4h-4zM406 36.3h4v4h-4zM562 36.3h4v4h-4zM402 40.3h4v4h-4zM402 44.3h4v4h-4zM566 44.3h4v4h-4zM402 48.3h4v4h-4zM566 48.3h4v4h-4zM398 60.3h4v4h-4zM570 60.3h4v4h-4zM398 64.3h4v4h-4zM570 64.3h4v4h-4zM570 68.3h4v4h-4zM570 72.3h4v4h-4zM570 76.3h4v4h-4zM402 80.3h4v4h-4zM570 80.3h4v4h-4zM402 84.3h4v4h-4zM402 88.3h4v4h-4zM574 88.3h4v4h-4zM402 92.3h4v4h-4zM578 92.3h4v4h-4zM582 96.3h4v4h-4zM586 96.3h4v4h-4zM598 100.3h4v4h-4zM602 100.3h4v4h-4zM614 104.3h4v4h-4zM402 112.3h4v4h-4zM402 116.3h4v4h-4zM398 124.3h4v4h-4zM398 128.3h4v4h-4zM394 132.3h4v4h-4zM394 136.3h4v4h-4zM390 140.3h4v4h-4zM390 144.3h4v4h-4zM390 148.3h4v4h-4zM390 152.3h4v4h-4zM390 156.3h4v4h-4zM390 160.3h4v4h-4z"/>
<path fill="#f6e524" d="M418 16.3h4v4h-4zM422 16.3h4v4h-4zM546 16.3h4v4h-4zM550 16.3h4v4h-4zM418 20.3h4v4h-4zM422 20.3h4v4h-4zM546 20.3h4v4h-4zM550 20.3h4v4h-4zM414 24.3h4v4h-4zM418 24.3h4v4h-4zM550 24.3h4v4h-4zM414 28.3h4v4h-4zM550 28.3h4v4h-4zM554 28.3h4v4h-4zM410 32.3h4v4h-4zM414 32.3h4v4h-4zM554 32.3h4v4h-4zM558 32.3h4v4h-4zM410 36.3h4v4h-4zM558 36.3h4v4h-4zM406 40.3h4v4h-4zM410 40.3h4v4h-4zM558 40.3h4v4h-4zM562 40.3h4v4h-4zM406 44.3h4v4h-4zM558 44.3h4v4h-4zM562 44.3h4v4h-4zM406 48.3h4v4h-4zM562 48.3h4v4h-4zM402 52.3h4v4h-4zM406 52.3h4v4h-4zM562 52.3h4v4h-4zM566 52.3h4v4h-4zM402 56.3h4v4h-4zM406 56.3h4v4h-4zM562 56.3h4v4h-4zM566 56.3h4v4h-4zM402 60.3h4v4h-4zM406 60.3h4v4h-4zM562 60.3h4v4h-4zM566 60.3h4v4h-4zM402 64.3h4v4h-4zM406 64.3h4v4h-4zM566 64.3h4v4h-4zM402 68.3h4v4h-4zM406 68.3h4v4h-4zM566 68.3h4v4h-4zM402 72.3h4v4h-4zM406 72.3h4v4h-4zM566 72.3h4v4h-4zM402 76.3h4v4h-4zM406 76.3h4v4h-4zM566 76.3h4v4h-4zM406 80.3h4v4h-4zM566 80.3h4v4h-4zM406 84.3h4v4h-4zM566 84.3h4v4h-4zM570 84.3h4v4h-4zM406 88.3h4v4h-4zM566 88.3h4v4h-4zM570 88.3h4v4h-4zM406 92.3h4v4h-4zM570 92.3h4v4h-4zM574 92.3h4v4h-4zM406 96.3h4v4h-4zM410 96.3h4v4h-4zM570 96.3h4v4h-4zM574 96.3h4v4h-4zM578 96.3h4v4h-4zM406 100.3h4v4h-4zM410 100.3h4v4h-4zM578 100.3h4v4h-4zM582 100.3h4v4h-4zM586 100.3h4v4h-4zM590 100.3h4v4h-4zM594 100.3h4v4h-4zM406 104.3h4v4h-4zM410 104.3h4v4h-4zM594 104.3h4v4h-4zM598 104.3h4v4h-4zM602 104.3h4v4h-4zM606 104.3h4v4h-4zM610 104.3h4v4h-4zM406 108.3h4v4h-4zM410 108.3h4v4h-4zM610 108.3h4v4h-4zM614 108.3h4v4h-4zM618 108.3h4v4h-4zM622 108.3h4v4h-4zM626 108.3h4v4h-4zM406 112.3h4v4h-4zM410 112.3h4v4h-4zM406 116.3h4v4h-4zM402 120.3h4v4h-4zM406 120.3h4v4h-4zM402 124.3h4v4h-4zM406 124.3h4v4h-4zM402 128.3h4v4h-4zM398 132.3h4v4h-4zM402 132.3h4v4h-4zM398 136.3h4v4h-4zM394 140.3h4v4h-4zM398 140.3h4v4h-4zM394 144.3h4v4h-4zM398 144.3h4v4h-4zM394 148.3h4v4h-4zM398 148.3h4v4h-4zM394 152.3h4v4h-4zM398 152.3h4v4h-4zM394 156.3h4v4h-4zM398 156.3h4v4h-4zM394 160.3h4v4h-4zM398 160.3h4v4h-4z"/>
<path fill="#f5e425" d="M426 16.3h4v4h-4zM538 16.3h4v4h-4zM542 16.3h4v4h-4zM426 20.3h4v4h-4zM538 20.3h4v4h-4zM542 20.3h4v4h-4zM426 24.3h4v4h-4zM542 24.3h4v4h-4zM422 28.3h4v4h-4zM546 28.3h4v4h-4zM418 32.3h4v4h-4zM550 32.3h4v4h-4zM418 36.3h4v4h-4zM550 36.3h4v4h-4zM414 40.3h4v4h-4zM554 40.3h4v4h-4zM414 44.3h4v4h-4zM554 44.3h4v4h-4zM410 48.3h4v4h-4zM554 48.3h4v4h-4zM558 48.3h4v4h-4zM410 52.3h4v4h-4zM558 52.3h4v4h-4zM410 56.3h4v4h-4zM558 56.3h4v4h-4zM410 60.3h4v4h-4zM558 60.3h4v4h-4zM410 64.3h4v4h-4zM558 64.3h4v4h-4zM410 68.3h4v4h-4zM558 68.3h4v4h-4zM410 72.3h4v4h-4zM558 72.3h4v4h-4zM410 76.3h4v4h-4zM558 76.3h4v4h-4zM410 80.3h4v4h-4zM562 80.3h4v4h-4zM410 84.3h4v4h-4zM562 84.3h4v4h-4zM414 88.3h4v4h-4zM562 88.3h4v4h-4zM414 92.3h4v4h-4zM562 92.3h4v4h-4zM414 96.3h4v4h-4zM562 96.3h4v4h-4zM566 96.3h4v4h-4zM414 100.3h4v4h-4zM566 100.3h4v4h-4zM570 100.3h4v4h-4zM414 104.3h4v4h-4zM574 104.3h4v4h-4zM578 104.3h4v4h-4zM582 104.3h4v4h-4zM586 104.3h4v4h-4zM414 108.3h4v4h-4zM594 108.3h4v4h-4zM598 108.3h4v4h-4zM602 108.3h4v4h-4zM414 112.3h4v4h-4zM610 112.3h4v4h-4zM614 112.3h4v4h-4zM414 116.3h4v4h-4zM618 116.3h4v4h-4zM622 116.3h4v4h-4zM626 116.3h4v4h-4zM410 120.3h4v4h-4zM410 124.3h4v4h-4zM410 128.3h4v4h-4zM406 132.3h4v4h-4zM406 136.3h4v4h-4zM402 140.3h4v4h-4zM406 140.3h4v4h-4zM402 144.3h4v4h-4zM402 148.3h4v4h-4zM402 152.3h4v4h-4zM402 156.3h4v4h-4zM402 160.3h4v4h-4z"/>
<path fill="#f5e325" d="M430 16.3h4v4h-4zM430 20.3h4v4h-4zM542 28.3h4v4h-4zM422 32.3h4v4h-4zM546 32.3h4v4h-4zM550 40.3h4v4h-4zM414 48.3h4v4h-4zM414 52.3h4v4h-4zM554 52.3h4v4h-4zM558 80.3h4v4h-4zM414 84.3h4v4h-4zM558 84.3h4v4h-4zM558 88.3h4v4h-4zM570 104.3h4v4h-4zM590 108.3h4v4h-4zM606 112.3h4v4h-4zM414 120.3h4v4h-4zM410 132.3h4v4h-4zM406 144.3h4v4h-4zM406 148.3h4v4h-4zM406 152.3h4v4h-4zM406 156.3h4v4h-4zM406 160.3h4v4h-4z"/>
<path fill="#f5e326" d="M434 16.3h4v4h-4zM534 16.3h4v4h-4zM434 20.3h4v4h-4zM534 20.3h4v4h-4zM430 24.3h4v4h-4zM538 24.3h4v4h-4zM426 28.3h4v4h-4zM538 28.3h4v4h-4zM426 32.3h4v4h-4zM542 32.3h4v4h-4zM422 36.3h4v4h-4zM546 36.3h4v4h-4zM418 40.3h4v4h-4zM418 44.3h4v4h-4zM550 44.3h4v4h-4zM418 48.3h4v4h-4zM550 48.3h4v4h-4zM414 56.3h4v4h-4zM554 56.3h4v4h-4zM414 60.3h4v4h-4zM554 60.3h4v4h-4zM414 64.3h4v4h-4zM554 64.3h4v4h-4zM414 68.3h4v4h-4zM554 68.3h4v4h-4zM414 72.3h4v4h-4zM554 72.3h4v4h-4zM414 76.3h4v4h-4zM554 76.3h4v4h-4zM414 80.3h4v4h-4zM418 88.3h4v4h-4zM418 92.3h4v4h-4zM558 92.3h4v4h-4zM418 96.3h4v4h-4zM558 96.3h4v4h-4zM418 100.3h4v4h-4zM562 100.3h4v4h-4zM418 104.3h4v4h-4zM566 104.3h4v4h-4zM418 108.3h4v4h-4zM574 108.3h4v4h-4zM578 108.3h4v4h-4zM582 108.3h4v4h-4zM586 108.3h4v4h-4zM418 112.3h4v4h-4zM598 112.3h4v4h-4zM602 112.3h4v4h-4zM418 116.3h4v4h-4zM614 116.3h4v4h-4zM618 120.3h4v4h-4zM622 120.3h4v4h-4zM626 120.3h4v4h-4zM414 124.3h4v4h-4zM414 128.3h4v4h-4zM410 136.3h4v4h-4zM410 140.3h4v4h-4zM410 144.3h4v4h-4zM410 148.3h4v4h-4zM410 152.3h4v4h-4zM410 156.3h4v4h-4zM410 160.3h4v4h-4z"/>
<path fill="#f5e226" d="M438 16.3h4v4h-4zM530 16.3h4v4h-4zM438 20.3h4v4h-4zM530 20.3h4v4h-4zM434 24.3h4v4h-4zM534 24.3h4v4h-4zM430 28.3h4v4h-4zM542 36.3h4v4h-4zM422 40.3h4v4h-4zM546 40.3h4v4h-4zM546 44.3h4v4h-4zM418 52.3h4v4h-4zM550 52.3h4v4h-4zM418 56.3h4v4h-4zM550 56.3h4v4h-4zM418 60.3h4v4h-4zM418 76.3h4v4h-4zM418 80.3h4v4h-4zM554 80.3h4v4h-4zM418 84.3h4v4h-4zM554 84.3h4v4h-4zM554 88.3h4v4h-4zM554 92.3h4v4h-4zM558 100.3h4v4h-4zM422 104.3h4v4h-4zM562 104.3h4v4h-4zM422 108.3h4v4h-4zM570 108.3h4v4h-4zM590 112.3h4v4h-4zM594 112.3h4v4h-4zM606 116.3h4v4h-4zM610 116.3h4v4h-4zM418 120.3h4v4h-4zM418 124.3h4v4h-4zM414 132.3h4v4h-4zM414 136.3h4v4h-4z"/>
<path fill="#f5e127" d="M442 16.3h4v4h-4zM522 16.3h4v4h-4zM526 16.3h4v4h-4zM442 20.3h4v4h-4zM522 20.3h4v4h-4zM526 20.3h4v4h-4zM442 24.3h4v4h-4zM526 24.3h4v4h-4zM530 28.3h4v4h-4zM434 32.3h4v4h-4zM534 32.3h4v4h-4zM430 36.3h4v4h-4zM538 36.3h4v4h-4zM426 40.3h4v4h-4zM542 40.3h4v4h-4zM426 44.3h4v4h-4zM542 44.3h4v4h-4zM422 52.3h4v4h-4zM546 52.3h4v4h-4zM422 56.3h4v4h-4zM546 56.3h4v4h-4zM422 60.3h4v4h-4zM422 64.3h4v4h-4zM422 68.3h4v4h-4zM422 72.3h4v4h-4zM550 72.3h4v4h-4zM422 76.3h4v4h-4zM550 76.3h4v4h-4zM422 80.3h4v4h-4zM550 80.3h4v4h-4zM422 84.3h4v4h-4zM550 84.3h4v4h-4zM422 88.3h4v4h-4zM550 88.3h4v4h-4zM550 92.3h4v4h-4zM550 96.3h4v4h-4zM554 100.3h4v4h-4zM426 104.3h4v4h-4zM554 104.3h4v4h-4zM426 108.3h4v4h-4zM558 108.3h4v4h-4zM562 108.3h4v4h-4zM570 112.3h4v4h-4zM574 112.3h4v4h-4zM578 112.3h4v4h-4zM594 116.3h4v4h-4zM598 116.3h4v4h-4zM422 120.3h4v4h-4zM610 120.3h4v4h-4zM422 124.3h4v4h-4zM618 124.3h4v4h-4zM622 124.3h4v4h-4zM626 124.3h4v4h-4zM418 132.3h4v4h-4zM418 136.3h4v4h-4zM418 140.3h4v4h-4zM418 152.3h4v4h-4zM418 156.3h4v4h-4zM418 160.3h4v4h-4z"/>
<path fill="#f5e128" d="M446 16.3h4v4h-4zM446 20.3h4v4h-4zM438 28.3h4v4h-4zM546 60.3h4v4h-4zM426 100.3h4v4h-4zM426 112.3h4v4h-4zM566 112.3h4v4h-4zM606 120.3h4v4h-4zM614 124.3h4v4h-4zM422 128.3h4v4h-4zM418 144.3h4v4h-4zM418 148.3h4v4h-4z"/>
<path fill="#f5e028" d="M450 16.3h4v4h-4zM518 16.3h4v4h-4zM450 20.3h4v4h-4zM518 20.3h4v4h-4zM446 24.3h4v4h-4zM522 24.3h4v4h-4zM442 28.3h4v4h-4zM526 28.3h4v4h-4zM438 32.3h4v4h-4zM530 32.3h4v4h-4zM434 36.3h4v4h-4zM534 36.3h4v4h-4zM430 40.3h4v4h-4zM538 40.3h4v4h-4zM430 44.3h4v4h-4zM538 44.3h4v4h-4zM426 48.3h4v4h-4zM542 48.3h4v4h-4zM426 52.3h4v4h-4zM542 52.3h4v4h-4zM426 56.3h4v4h-4zM546 64.3h4v4h-4zM546 68.3h4v4h-4zM546 72.3h4v4h-4zM546 76.3h4v4h-4zM426 80.3h4v4h-4zM546 80.3h4v4h-4zM426 84.3h4v4h-4zM546 84.3h4v4h-4zM426 88.3h4v4h-4zM546 88.3h4v4h-4zM426 92.3h4v4h-4zM546 92.3h4v4h-4zM426 96.3h4v4h-4zM550 100.3h4v4h-4zM550 104.3h4v4h-4zM554 108.3h4v4h-4zM562 112.3h4v4h-4zM426 116.3h4v4h-4zM578 116.3h4v4h-4zM582 116.3h4v4h-4zM586 116.3h4v4h-4zM590 116.3h4v4h-4zM426 120.3h4v4h-4zM602 120.3h4v4h-4zM426 124.3h4v4h-4zM610 124.3h4v4h-4zM618 128.3h4v4h-4zM622 128.3h4v4h-4zM626 128.3h4v4h-4zM422 132.3h4v4h-4zM422 136.3h4v4h-4zM422 152.3h4v4h-4zM422 156.3h4v4h-4zM422 160.3h4v4h-4z"/>
<path fill="#f5df28" d="M454 16.3h4v4h-4zM514 16.3h4v4h-4zM454 20.3h4v4h-4zM514 20.3h4v4h-4zM450 24.3h4v4h-4zM518 24.3h4v4h-4zM446 28.3h4v4h-4zM522 28.3h4v4h-4zM526 32.3h4v4h-4zM438 36.3h4v4h-4zM530 36.3h4v4h-4zM434 40.3h4v4h-4zM534 40.3h4v4h-4zM430 48.3h4v4h-4zM538 48.3h4v4h-4zM542 56.3h4v4h-4zM426 60.3h4v4h-4zM542 60.3h4v4h-4zM426 64.3h4v4h-4zM542 64.3h4v4h-4zM426 68.3h4v4h-4zM542 68.3h4v4h-4zM426 72.3h4v4h-4zM426 76.3h4v4h-4zM430 92.3h4v4h-4zM430 96.3h4v4h-4zM546 96.3h4v4h-4zM430 100.3h4v4h-4zM546 100.3h4v4h-4zM430 104.3h4v4h-4zM430 108.3h4v4h-4zM550 108.3h4v4h-4zM430 112.3h4v4h-4zM558 112.3h4v4h-4zM430 116.3h4v4h-4zM566 116.3h4v4h-4zM570 116.3h4v4h-4zM574 116.3h4v4h-4zM594 120.3h4v4h-4zM598 120.3h4v4h-4zM606 124.3h4v4h-4zM426 128.3h4v4h-4zM614 128.3h4v4h-4zM426 132.3h4v4h-4zM618 132.3h4v4h-4zM622 132.3h4v4h-4zM626 132.3h4v4h-4zM422 140.3h4v4h-4zM422 144.3h4v4h-4zM422 148.3h4v4h-4z"/>
<path fill="#f6de29" d="M458 16.3h4v4h-4zM510 16.3h4v4h-4zM458 20.3h4v4h-4zM510 20.3h4v4h-4zM454 24.3h4v4h-4zM514 24.3h4v4h-4zM450 28.3h4v4h-4zM518 28.3h4v4h-4zM438 40.3h4v4h-4zM530 40.3h4v4h-4zM434 44.3h4v4h-4zM534 44.3h4v4h-4zM430 56.3h4v4h-4zM538 56.3h4v4h-4zM430 60.3h4v4h-4zM430 64.3h4v4h-4zM430 72.3h4v4h-4zM430 76.3h4v4h-4zM430 80.3h4v4h-4zM542 80.3h4v4h-4zM430 84.3h4v4h-4zM542 84.3h4v4h-4zM542 88.3h4v4h-4zM542 92.3h4v4h-4zM542 96.3h4v4h-4zM558 116.3h4v4h-4zM562 116.3h4v4h-4zM578 120.3h4v4h-4zM582 120.3h4v4h-4zM586 120.3h4v4h-4zM430 124.3h4v4h-4zM602 124.3h4v4h-4zM610 128.3h4v4h-4zM614 132.3h4v4h-4zM426 136.3h4v4h-4zM618 136.3h4v4h-4zM622 136.3h4v4h-4zM626 136.3h4v4h-4zM426 140.3h4v4h-4zM426 144.3h4v4h-4zM426 148.3h4v4h-4zM426 152.3h4v4h-4zM426 156.3h4v4h-4zM426 160.3h4v4h-4z"/>
<path fill="#f6dd29" d="M462 16.3h4v4h-4zM466 16.3h4v4h-4zM502 16.3h4v4h-4zM506 16.3h4v4h-4zM462 20.3h4v4h-4zM466 20.3h4v4h-4zM502 20.3h4v4h-4zM506 20.3h4v4h-4zM458 24.3h4v4h-4zM506 24.3h4v4h-4zM510 24.3h4v4h-4zM514 28.3h4v4h-4zM446 32.3h4v4h-4zM522 32.3h4v4h-4zM442 36.3h4v4h-4zM526 36.3h4v4h-4zM438 44.3h4v4h-4zM530 44.3h4v4h-4zM434 48.3h4v4h-4zM534 48.3h4v4h-4zM434 52.3h4v4h-4zM534 52.3h4v4h-4zM538 60.3h4v4h-4zM538 64.3h4v4h-4zM430 68.3h4v4h-4zM538 68.3h4v4h-4zM538 72.3h4v4h-4zM434 92.3h4v4h-4zM434 96.3h4v4h-4zM434 100.3h4v4h-4zM542 100.3h4v4h-4zM434 104.3h4v4h-4zM542 104.3h4v4h-4zM434 108.3h4v4h-4zM546 108.3h4v4h-4zM434 112.3h4v4h-4zM550 112.3h4v4h-4zM434 116.3h4v4h-4zM554 116.3h4v4h-4zM434 120.3h4v4h-4zM566 120.3h4v4h-4zM570 120.3h4v4h-4zM574 120.3h4v4h-4zM594 124.3h4v4h-4zM598 124.3h4v4h-4zM430 128.3h4v4h-4zM606 128.3h4v4h-4zM430 132.3h4v4h-4zM610 132.3h4v4h-4zM614 136.3h4v4h-4zM618 140.3h4v4h-4zM622 140.3h4v4h-4zM626 140.3h4v4h-4z"/>
<path fill="#f6dc29" d="M470 16.3h4v4h-4zM474 16.3h4v4h-4zM494 16.3h4v4h-4zM498 16.3h4v4h-4zM470 20.3h4v4h-4zM474 20.3h4v4h-4zM494 20.3h4v4h-4zM498 20.3h4v4h-4zM462 24.3h4v4h-4zM466 24.3h4v4h-4zM502 24.3h4v4h-4zM454 28.3h4v4h-4zM450 32.3h4v4h-4zM518 32.3h4v4h-4zM446 36.3h4v4h-4zM522 36.3h4v4h-4zM442 40.3h4v4h-4zM526 40.3h4v4h-4zM438 48.3h4v4h-4zM434 56.3h4v4h-4zM534 56.3h4v4h-4zM434 60.3h4v4h-4zM434 76.3h4v4h-4zM538 76.3h4v4h-4zM434 80.3h4v4h-4zM538 80.3h4v4h-4zM434 84.3h4v4h-4zM538 84.3h4v4h-4zM434 88.3h4v4h-4zM538 88.3h4v4h-4zM538 92.3h4v4h-4zM538 96.3h4v4h-4zM542 108.3h4v4h-4zM546 112.3h4v4h-4zM562 120.3h4v4h-4zM434 124.3h4v4h-4zM586 124.3h4v4h-4zM590 124.3h4v4h-4zM602 128.3h4v4h-4zM430 136.3h4v4h-4zM430 140.3h4v4h-4zM430 144.3h4v4h-4zM618 144.3h4v4h-4zM622 144.3h4v4h-4zM626 144.3h4v4h-4zM430 148.3h4v4h-4zM618 148.3h4v4h-4zM622 148.3h4v4h-4zM626 148.3h4v4h-4zM430 152.3h4v4h-4zM618 152.3h4v4h-4zM622 152.3h4v4h-4zM626 152.3h4v4h-4zM430 156.3h4v4h-4zM618 156.3h4v4h-4zM622 156.3h4v4h-4zM626 156.3h4v4h-4zM430 160.3h4v4h-4zM618 160.3h4v4h-4zM622 160.3h4v4h-4zM626 160.3h4v4h-4z"/>
<path fill="#f7db29" d="M478 16.3h4v4h-4zM482 16.3h4v4h-4zM486 16.3h4v4h-4zM490 16.3h4v4h-4zM478 20.3h4v4h-4zM482 20.3h4v4h-4zM486 20.3h4v4h-4zM490 20.3h4v4h-4zM470 24.3h4v4h-4zM498 24.3h4v4h-4zM458 28.3h4v4h-4zM442 44.3h4v4h-4zM526 44.3h4v4h-4zM438 52.3h4v4h-4zM534 60.3h4v4h-4zM534 64.3h4v4h-4zM438 100.3h4v4h-4zM438 104.3h4v4h-4zM438 108.3h4v4h-4zM438 112.3h4v4h-4zM578 124.3h4v4h-4zM582 124.3h4v4h-4zM434 128.3h4v4h-4zM598 128.3h4v4h-4zM606 132.3h4v4h-4zM610 136.3h4v4h-4z"/>
<path fill="#f6e425" d="M422 24.3h4v4h-4zM418 28.3h4v4h-4zM414 36.3h4v4h-4zM554 36.3h4v4h-4zM410 44.3h4v4h-4zM562 68.3h4v4h-4zM562 72.3h4v4h-4zM562 76.3h4v4h-4zM410 88.3h4v4h-4zM574 100.3h4v4h-4zM590 104.3h4v4h-4zM606 108.3h4v4h-4zM410 116.3h4v4h-4zM406 128.3h4v4h-4zM402 136.3h4v4h-4z"/>
<path fill="#f5e227" d="M438 24.3h4v4h-4zM530 24.3h4v4h-4zM434 28.3h4v4h-4zM534 28.3h4v4h-4zM430 32.3h4v4h-4zM538 32.3h4v4h-4zM426 36.3h4v4h-4zM422 44.3h4v4h-4zM422 48.3h4v4h-4zM546 48.3h4v4h-4zM550 60.3h4v4h-4zM418 64.3h4v4h-4zM550 64.3h4v4h-4zM418 68.3h4v4h-4zM550 68.3h4v4h-4zM418 72.3h4v4h-4zM422 92.3h4v4h-4zM422 96.3h4v4h-4zM554 96.3h4v4h-4zM422 100.3h4v4h-4zM558 104.3h4v4h-4zM566 108.3h4v4h-4zM422 112.3h4v4h-4zM582 112.3h4v4h-4zM586 112.3h4v4h-4zM422 116.3h4v4h-4zM602 116.3h4v4h-4zM614 120.3h4v4h-4zM418 128.3h4v4h-4zM414 140.3h4v4h-4zM414 144.3h4v4h-4zM414 148.3h4v4h-4zM414 152.3h4v4h-4zM414 156.3h4v4h-4zM414 160.3h4v4h-4z"/>
<path fill="#f7db2a" d="M474 24.3h4v4h-4zM494 24.3h4v4h-4zM462 28.3h4v4h-4zM506 28.3h4v4h-4zM454 32.3h4v4h-4zM514 32.3h4v4h-4zM450 36.3h4v4h-4zM518 36.3h4v4h-4zM446 40.3h4v4h-4zM522 40.3h4v4h-4zM530 52.3h4v4h-4zM534 68.3h4v4h-4zM534 72.3h4v4h-4zM438 92.3h4v4h-4zM438 96.3h4v4h-4zM538 104.3h4v4h-4zM542 112.3h4v4h-4zM438 116.3h4v4h-4zM554 120.3h4v4h-4zM570 124.3h4v4h-4zM574 124.3h4v4h-4zM594 128.3h4v4h-4zM434 132.3h4v4h-4zM614 144.3h4v4h-4zM614 148.3h4v4h-4zM614 152.3h4v4h-4zM614 156.3h4v4h-4zM614 160.3h4v4h-4z"/>
<path fill="#f7da2a" d="M478 24.3h4v4h-4zM482 24.3h4v4h-4zM486 24.3h4v4h-4zM490 24.3h4v4h-4zM466 28.3h4v4h-4zM502 28.3h4v4h-4zM458 32.3h4v4h-4zM510 32.3h4v4h-4zM442 48.3h4v4h-4zM526 48.3h4v4h-4zM438 56.3h4v4h-4zM530 56.3h4v4h-4zM438 60.3h4v4h-4zM530 60.3h4v4h-4zM438 64.3h4v4h-4zM438 68.3h4v4h-4zM438 72.3h4v4h-4zM438 76.3h4v4h-4zM534 76.3h4v4h-4zM438 80.3h4v4h-4zM534 80.3h4v4h-4zM438 84.3h4v4h-4zM534 84.3h4v4h-4zM438 88.3h4v4h-4zM534 88.3h4v4h-4zM534 92.3h4v4h-4zM534 96.3h4v4h-4zM534 100.3h4v4h-4zM538 108.3h4v4h-4zM546 116.3h4v4h-4zM438 120.3h4v4h-4zM550 120.3h4v4h-4zM438 124.3h4v4h-4zM562 124.3h4v4h-4zM566 124.3h4v4h-4zM590 128.3h4v4h-4zM602 132.3h4v4h-4zM434 136.3h4v4h-4zM606 136.3h4v4h-4zM434 140.3h4v4h-4zM610 140.3h4v4h-4zM434 144.3h4v4h-4zM434 148.3h4v4h-4z"/>
<path fill="#f6e525" d="M546 24.3h4v4h-4zM562 64.3h4v4h-4zM410 92.3h4v4h-4zM566 92.3h4v4h-4zM618 112.3h4v4h-4zM622 112.3h4v4h-4zM626 112.3h4v4h-4z"/>
<path fill="#f7d92a" d="M470 28.3h4v4h-4zM498 28.3h4v4h-4zM454 36.3h4v4h-4zM514 36.3h4v4h-4zM450 40.3h4v4h-4zM518 40.3h4v4h-4zM446 44.3h4v4h-4zM522 44.3h4v4h-4zM442 52.3h4v4h-4zM526 52.3h4v4h-4zM530 64.3h4v4h-4zM442 104.3h4v4h-4zM534 104.3h4v4h-4zM542 116.3h4v4h-4zM558 124.3h4v4h-4zM438 128.3h4v4h-4zM582 128.3h4v4h-4zM586 128.3h4v4h-4zM598 132.3h4v4h-4zM610 144.3h4v4h-4zM610 148.3h4v4h-4zM434 152.3h4v4h-4zM610 152.3h4v4h-4zM434 156.3h4v4h-4zM610 156.3h4v4h-4zM434 160.3h4v4h-4zM610 160.3h4v4h-4z"/>
<path fill="#f8d92a" d="M474 28.3h4v4h-4zM494 28.3h4v4h-4zM462 32.3h4v4h-4zM506 32.3h4v4h-4zM442 56.3h4v4h-4zM530 68.3h4v4h-4zM442 96.3h4v4h-4zM442 100.3h4v4h-4zM442 108.3h4v4h-4zM442 112.3h4v4h-4zM538 112.3h4v4h-4zM578 128.3h4v4h-4zM438 132.3h4v4h-4zM602 136.3h4v4h-4zM606 140.3h4v4h-4z"/>
<path fill="#f8d82a" d="M478 28.3h4v4h-4zM482 28.3h4v4h-4zM486 28.3h4v4h-4zM490 28.3h4v4h-4zM466 32.3h4v4h-4zM502 32.3h4v4h-4zM458 36.3h4v4h-4zM510 36.3h4v4h-4zM450 44.3h4v4h-4zM518 44.3h4v4h-4zM446 48.3h4v4h-4zM522 48.3h4v4h-4zM526 56.3h4v4h-4zM442 60.3h4v4h-4zM530 72.3h4v4h-4zM530 76.3h4v4h-4zM530 80.3h4v4h-4zM442 84.3h4v4h-4zM530 84.3h4v4h-4zM442 88.3h4v4h-4zM530 88.3h4v4h-4zM442 92.3h4v4h-4zM530 92.3h4v4h-4zM530 96.3h4v4h-4zM534 108.3h4v4h-4zM442 116.3h4v4h-4zM442 120.3h4v4h-4zM546 120.3h4v4h-4zM554 124.3h4v4h-4zM566 128.3h4v4h-4zM570 128.3h4v4h-4zM574 128.3h4v4h-4zM590 132.3h4v4h-4zM594 132.3h4v4h-4zM438 136.3h4v4h-4zM438 140.3h4v4h-4zM606 144.3h4v4h-4z"/>
<path fill="#f7dc29" d="M510 28.3h4v4h-4zM530 48.3h4v4h-4zM434 64.3h4v4h-4zM434 68.3h4v4h-4zM434 72.3h4v4h-4zM538 100.3h4v4h-4zM550 116.3h4v4h-4zM558 120.3h4v4h-4zM614 140.3h4v4h-4z"/>
<path fill="#f6de28" d="M442 32.3h4v4h-4zM430 52.3h4v4h-4zM538 52.3h4v4h-4zM542 72.3h4v4h-4zM542 76.3h4v4h-4zM430 88.3h4v4h-4zM546 104.3h4v4h-4zM554 112.3h4v4h-4zM430 120.3h4v4h-4zM590 120.3h4v4h-4z"/>
<path fill="#f8d72b" d="M470 32.3h4v4h-4zM498 32.3h4v4h-4zM462 36.3h4v4h-4zM506 36.3h4v4h-4zM446 52.3h4v4h-4zM522 52.3h4v4h-4zM446 56.3h4v4h-4zM526 60.3h4v4h-4zM526 64.3h4v4h-4zM442 68.3h4v4h-4zM442 72.3h4v4h-4zM442 76.3h4v4h-4zM530 100.3h4v4h-4zM530 104.3h4v4h-4zM534 112.3h4v4h-4zM538 116.3h4v4h-4zM542 120.3h4v4h-4zM442 124.3h4v4h-4zM550 124.3h4v4h-4zM442 128.3h4v4h-4zM558 128.3h4v4h-4zM562 128.3h4v4h-4zM582 132.3h4v4h-4zM586 132.3h4v4h-4zM594 136.3h4v4h-4zM598 136.3h4v4h-4zM602 140.3h4v4h-4zM438 148.3h4v4h-4zM606 148.3h4v4h-4z"/>
<path fill="#f8d62b" d="M474 32.3h4v4h-4zM494 32.3h4v4h-4zM458 40.3h4v4h-4zM510 40.3h4v4h-4zM454 44.3h4v4h-4zM514 44.3h4v4h-4zM450 48.3h4v4h-4zM518 48.3h4v4h-4zM522 56.3h4v4h-4zM526 68.3h4v4h-4zM526 72.3h4v4h-4zM446 96.3h4v4h-4zM446 100.3h4v4h-4zM446 104.3h4v4h-4zM446 108.3h4v4h-4zM546 124.3h4v4h-4zM554 128.3h4v4h-4zM574 132.3h4v4h-4zM578 132.3h4v4h-4zM598 140.3h4v4h-4zM602 144.3h4v4h-4zM602 152.3h4v4h-4zM602 156.3h4v4h-4zM602 160.3h4v4h-4z"/>
<path fill="#f9d62b" d="M478 32.3h4v4h-4zM482 32.3h4v4h-4zM486 32.3h4v4h-4zM490 32.3h4v4h-4zM466 36.3h4v4h-4zM502 36.3h4v4h-4zM446 60.3h4v4h-4zM526 76.3h4v4h-4zM526 80.3h4v4h-4zM526 84.3h4v4h-4zM446 88.3h4v4h-4zM526 88.3h4v4h-4zM446 92.3h4v4h-4zM526 92.3h4v4h-4zM530 108.3h4v4h-4zM446 112.3h4v4h-4zM442 132.3h4v4h-4zM570 132.3h4v4h-4zM590 136.3h4v4h-4zM602 148.3h4v4h-4z"/>
<path fill="#f9d52b" d="M470 36.3h4v4h-4zM498 36.3h4v4h-4zM462 40.3h4v4h-4zM506 40.3h4v4h-4zM458 44.3h4v4h-4zM510 44.3h4v4h-4zM454 48.3h4v4h-4zM514 48.3h4v4h-4zM450 52.3h4v4h-4zM518 52.3h4v4h-4zM450 56.3h4v4h-4zM522 60.3h4v4h-4zM446 64.3h4v4h-4zM522 64.3h4v4h-4zM446 68.3h4v4h-4zM446 72.3h4v4h-4zM446 76.3h4v4h-4zM446 80.3h4v4h-4zM446 84.3h4v4h-4zM526 96.3h4v4h-4zM526 100.3h4v4h-4zM530 112.3h4v4h-4zM446 116.3h4v4h-4zM534 116.3h4v4h-4zM446 120.3h4v4h-4zM538 120.3h4v4h-4zM542 124.3h4v4h-4zM550 128.3h4v4h-4zM562 132.3h4v4h-4zM566 132.3h4v4h-4zM442 136.3h4v4h-4zM582 136.3h4v4h-4zM586 136.3h4v4h-4zM442 140.3h4v4h-4zM594 140.3h4v4h-4zM442 144.3h4v4h-4zM598 144.3h4v4h-4zM598 148.3h4v4h-4zM598 152.3h4v4h-4zM598 156.3h4v4h-4zM598 160.3h4v4h-4z"/>
<path fill="#f9d42c" d="M474 36.3h4v4h-4zM478 36.3h4v4h-4zM490 36.3h4v4h-4zM494 36.3h4v4h-4zM466 40.3h4v4h-4zM502 40.3h4v4h-4zM454 52.3h4v4h-4zM518 56.3h4v4h-4zM450 60.3h4v4h-4zM522 68.3h4v4h-4zM522 72.3h4v4h-4zM522 76.3h4v4h-4zM526 108.3h4v4h-4zM534 120.3h4v4h-4zM446 124.3h4v4h-4zM546 128.3h4v4h-4zM554 132.3h4v4h-4zM570 136.3h4v4h-4zM574 136.3h4v4h-4zM578 136.3h4v4h-4zM590 140.3h4v4h-4zM594 144.3h4v4h-4zM594 148.3h4v4h-4zM438 152.3h4v4h-4zM594 152.3h4v4h-4zM438 156.3h4v4h-4zM594 156.3h4v4h-4zM438 160.3h4v4h-4zM594 160.3h4v4h-4z"/>
<path fill="#f9d32c" d="M482 36.3h4v4h-4zM486 36.3h4v4h-4zM462 44.3h4v4h-4zM514 52.3h4v4h-4zM518 60.3h4v4h-4zM450 64.3h4v4h-4zM522 80.3h4v4h-4zM522 84.3h4v4h-4zM450 88.3h4v4h-4zM522 88.3h4v4h-4zM450 92.3h4v4h-4zM450 96.3h4v4h-4zM450 100.3h4v4h-4zM530 116.3h4v4h-4zM538 124.3h4v4h-4zM446 128.3h4v4h-4zM566 136.3h4v4h-4zM586 140.3h4v4h-4z"/>
<path fill="#f8d82b" d="M454 40.3h4v4h-4zM514 40.3h4v4h-4zM442 64.3h4v4h-4zM442 80.3h4v4h-4zM438 144.3h4v4h-4zM606 152.3h4v4h-4zM606 156.3h4v4h-4zM606 160.3h4v4h-4z"/>
<path fill="#fad32c" d="M470 40.3h4v4h-4zM498 40.3h4v4h-4zM506 44.3h4v4h-4zM458 48.3h4v4h-4zM510 48.3h4v4h-4zM454 56.3h4v4h-4zM450 68.3h4v4h-4zM450 72.3h4v4h-4zM450 76.3h4v4h-4zM450 80.3h4v4h-4zM450 84.3h4v4h-4zM522 92.3h4v4h-4zM522 96.3h4v4h-4zM522 100.3h4v4h-4zM450 104.3h4v4h-4zM450 108.3h4v4h-4zM526 112.3h4v4h-4zM542 128.3h4v4h-4zM446 132.3h4v4h-4zM550 132.3h4v4h-4zM562 136.3h4v4h-4zM582 140.3h4v4h-4zM590 144.3h4v4h-4zM590 148.3h4v4h-4zM590 152.3h4v4h-4zM590 156.3h4v4h-4zM590 160.3h4v4h-4z"/>
<path fill="#fad22c" d="M474 40.3h4v4h-4zM478 40.3h4v4h-4zM494 40.3h4v4h-4zM466 44.3h4v4h-4zM502 44.3h4v4h-4zM462 48.3h4v4h-4zM458 52.3h4v4h-4zM514 56.3h4v4h-4zM454 60.3h4v4h-4zM518 64.3h4v4h-4zM518 68.3h4v4h-4zM522 104.3h4v4h-4zM450 112.3h4v4h-4zM450 116.3h4v4h-4zM546 132.3h4v4h-4zM446 136.3h4v4h-4zM554 136.3h4v4h-4zM558 136.3h4v4h-4zM446 140.3h4v4h-4zM570 140.3h4v4h-4zM574 140.3h4v4h-4zM578 140.3h4v4h-4zM582 144.3h4v4h-4zM586 144.3h4v4h-4zM586 148.3h4v4h-4zM582 152.3h4v4h-4zM586 152.3h4v4h-4zM582 156.3h4v4h-4zM586 156.3h4v4h-4zM582 160.3h4v4h-4zM586 160.3h4v4h-4z"/>
<path fill="#fad12c" d="M482 40.3h4v4h-4zM486 40.3h4v4h-4zM490 40.3h4v4h-4zM506 48.3h4v4h-4zM510 52.3h4v4h-4zM514 60.3h4v4h-4zM454 64.3h4v4h-4zM518 72.3h4v4h-4zM518 76.3h4v4h-4zM522 108.3h4v4h-4zM526 116.3h4v4h-4zM450 120.3h4v4h-4zM530 120.3h4v4h-4zM534 124.3h4v4h-4zM562 140.3h4v4h-4zM566 140.3h4v4h-4zM578 144.3h4v4h-4zM442 148.3h4v4h-4zM582 148.3h4v4h-4zM578 152.3h4v4h-4zM578 156.3h4v4h-4zM578 160.3h4v4h-4z"/>
<path fill="#fad12d" d="M470 44.3h4v4h-4zM498 44.3h4v4h-4zM458 56.3h4v4h-4zM454 68.3h4v4h-4zM454 72.3h4v4h-4zM518 80.3h4v4h-4zM518 84.3h4v4h-4zM518 88.3h4v4h-4zM518 92.3h4v4h-4zM538 128.3h4v4h-4zM550 136.3h4v4h-4zM570 144.3h4v4h-4zM574 144.3h4v4h-4zM578 148.3h4v4h-4zM574 152.3h4v4h-4zM574 156.3h4v4h-4zM574 160.3h4v4h-4z"/>
<path fill="#fbd02d" d="M474 44.3h4v4h-4zM494 44.3h4v4h-4zM466 48.3h4v4h-4zM502 48.3h4v4h-4zM462 52.3h4v4h-4zM506 52.3h4v4h-4zM510 56.3h4v4h-4zM458 60.3h4v4h-4zM514 64.3h4v4h-4zM514 68.3h4v4h-4zM454 96.3h4v4h-4zM518 96.3h4v4h-4zM454 100.3h4v4h-4zM518 100.3h4v4h-4zM454 104.3h4v4h-4zM522 112.3h4v4h-4zM546 136.3h4v4h-4zM554 140.3h4v4h-4zM562 144.3h4v4h-4zM566 144.3h4v4h-4zM566 148.3h4v4h-4zM570 148.3h4v4h-4zM562 152.3h4v4h-4zM566 152.3h4v4h-4zM562 156.3h4v4h-4zM566 156.3h4v4h-4zM562 160.3h4v4h-4zM566 160.3h4v4h-4z"/>
<path fill="#fbcf2d" d="M478 44.3h4v4h-4zM482 44.3h4v4h-4zM486 44.3h4v4h-4zM490 44.3h4v4h-4zM470 48.3h4v4h-4zM498 48.3h4v4h-4zM466 52.3h4v4h-4zM462 56.3h4v4h-4zM510 60.3h4v4h-4zM458 64.3h4v4h-4zM458 68.3h4v4h-4zM514 72.3h4v4h-4zM514 76.3h4v4h-4zM514 80.3h4v4h-4zM518 104.3h4v4h-4zM454 108.3h4v4h-4zM522 116.3h4v4h-4zM526 120.3h4v4h-4zM530 124.3h4v4h-4zM450 128.3h4v4h-4zM534 128.3h4v4h-4zM450 132.3h4v4h-4zM538 132.3h4v4h-4zM550 140.3h4v4h-4zM554 144.3h4v4h-4zM558 144.3h4v4h-4zM558 148.3h4v4h-4zM562 148.3h4v4h-4zM554 152.3h4v4h-4zM558 152.3h4v4h-4zM554 156.3h4v4h-4zM558 156.3h4v4h-4zM554 160.3h4v4h-4zM558 160.3h4v4h-4z"/>
<path fill="#fbce2d" d="M474 48.3h4v4h-4zM494 48.3h4v4h-4zM502 52.3h4v4h-4zM506 56.3h4v4h-4zM462 60.3h4v4h-4zM510 64.3h4v4h-4zM458 72.3h4v4h-4zM458 76.3h4v4h-4zM458 80.3h4v4h-4zM458 84.3h4v4h-4zM514 84.3h4v4h-4zM514 88.3h4v4h-4zM514 92.3h4v4h-4zM518 108.3h4v4h-4zM454 112.3h4v4h-4zM454 116.3h4v4h-4zM450 136.3h4v4h-4zM542 136.3h4v4h-4zM546 140.3h4v4h-4zM550 144.3h4v4h-4zM554 148.3h4v4h-4zM550 152.3h4v4h-4zM550 156.3h4v4h-4zM550 160.3h4v4h-4z"/>
<path fill="#fbcd2e" d="M478 48.3h4v4h-4zM550 148.3h4v4h-4z"/>
<path fill="#fccd2e" d="M482 48.3h4v4h-4zM486 48.3h4v4h-4zM490 48.3h4v4h-4zM470 52.3h4v4h-4zM498 52.3h4v4h-4zM466 56.3h4v4h-4zM502 56.3h4v4h-4zM506 60.3h4v4h-4zM462 64.3h4v4h-4zM462 68.3h4v4h-4zM510 72.3h4v4h-4zM510 76.3h4v4h-4zM458 92.3h4v4h-4zM458 96.3h4v4h-4zM514 100.3h4v4h-4zM518 112.3h4v4h-4zM454 120.3h4v4h-4zM522 120.3h4v4h-4zM526 124.3h4v4h-4zM530 128.3h4v4h-4zM534 132.3h4v4h-4zM538 136.3h4v4h-4zM450 140.3h4v4h-4zM542 140.3h4v4h-4zM546 144.3h4v4h-4zM546 148.3h4v4h-4zM546 152.3h4v4h-4zM546 156.3h4v4h-4zM546 160.3h4v4h-4z"/>
<path fill="#fccc2e" d="M474 52.3h4v4h-4zM478 52.3h4v4h-4zM490 52.3h4v4h-4zM494 52.3h4v4h-4zM470 56.3h4v4h-4zM498 56.3h4v4h-4zM466 60.3h4v4h-4zM502 60.3h4v4h-4zM506 64.3h4v4h-4zM506 68.3h4v4h-4zM462 72.3h4v4h-4zM462 76.3h4v4h-4zM462 80.3h4v4h-4zM510 80.3h4v4h-4zM510 84.3h4v4h-4zM510 88.3h4v4h-4zM458 100.3h4v4h-4zM514 104.3h4v4h-4zM518 116.3h4v4h-4zM454 124.3h4v4h-4zM542 144.3h4v4h-4zM542 152.3h4v4h-4zM542 156.3h4v4h-4zM542 160.3h4v4h-4z"/>
<path fill="#fccb2e" d="M482 52.3h4v4h-4zM486 52.3h4v4h-4zM466 64.3h4v4h-4zM462 84.3h4v4h-4zM510 92.3h4v4h-4zM458 104.3h4v4h-4zM514 108.3h4v4h-4zM534 136.3h4v4h-4zM538 140.3h4v4h-4zM542 148.3h4v4h-4z"/>
<path fill="#fccb2f" d="M474 56.3h4v4h-4zM494 56.3h4v4h-4zM470 60.3h4v4h-4zM498 60.3h4v4h-4zM502 64.3h4v4h-4zM466 68.3h4v4h-4zM506 72.3h4v4h-4zM506 76.3h4v4h-4zM462 88.3h4v4h-4zM510 96.3h4v4h-4zM458 108.3h4v4h-4zM530 132.3h4v4h-4zM538 144.3h4v4h-4zM538 152.3h4v4h-4zM538 156.3h4v4h-4zM538 160.3h4v4h-4z"/>
<path fill="#fcca2f" d="M478 56.3h4v4h-4zM482 56.3h4v4h-4zM486 56.3h4v4h-4zM490 56.3h4v4h-4zM474 60.3h4v4h-4zM494 60.3h4v4h-4zM470 64.3h4v4h-4zM498 64.3h4v4h-4zM470 68.3h4v4h-4zM502 68.3h4v4h-4zM466 72.3h4v4h-4zM502 72.3h4v4h-4zM466 76.3h4v4h-4zM466 80.3h4v4h-4zM506 80.3h4v4h-4zM506 84.3h4v4h-4zM506 88.3h4v4h-4zM462 92.3h4v4h-4zM462 96.3h4v4h-4zM510 100.3h4v4h-4zM458 112.3h4v4h-4zM514 112.3h4v4h-4zM518 120.3h4v4h-4zM522 124.3h4v4h-4zM454 128.3h4v4h-4zM526 128.3h4v4h-4zM534 140.3h4v4h-4zM450 144.3h4v4h-4zM538 148.3h4v4h-4zM442 152.3h4v4h-4zM534 152.3h4v4h-4zM442 156.3h4v4h-4zM534 156.3h4v4h-4zM442 160.3h4v4h-4zM534 160.3h4v4h-4z"/>
<path fill="#fcc930" d="M478 60.3h4v4h-4zM482 60.3h4v4h-4zM486 60.3h4v4h-4zM490 60.3h4v4h-4zM474 64.3h4v4h-4zM494 64.3h4v4h-4zM498 68.3h4v4h-4zM470 72.3h4v4h-4zM470 76.3h4v4h-4zM502 76.3h4v4h-4zM502 80.3h4v4h-4zM466 84.3h4v4h-4zM466 88.3h4v4h-4zM506 92.3h4v4h-4zM462 100.3h4v4h-4zM510 104.3h4v4h-4zM458 116.3h4v4h-4zM514 116.3h4v4h-4zM454 132.3h4v4h-4zM530 136.3h4v4h-4zM534 144.3h4v4h-4zM534 148.3h4v4h-4zM530 152.3h4v4h-4zM530 156.3h4v4h-4zM530 160.3h4v4h-4z"/>
<path fill="#fcc830" d="M478 64.3h4v4h-4zM482 64.3h4v4h-4zM486 64.3h4v4h-4zM490 64.3h4v4h-4zM474 68.3h4v4h-4zM494 68.3h4v4h-4zM474 72.3h4v4h-4zM498 72.3h4v4h-4zM498 76.3h4v4h-4zM470 80.3h4v4h-4zM502 84.3h4v4h-4zM506 96.3h4v4h-4zM510 108.3h4v4h-4zM458 120.3h4v4h-4zM526 132.3h4v4h-4zM454 136.3h4v4h-4zM530 140.3h4v4h-4zM530 144.3h4v4h-4zM530 148.3h4v4h-4z"/>
<path fill="#fcc831" d="M478 68.3h4v4h-4zM502 88.3h4v4h-4zM466 92.3h4v4h-4z"/>
<path fill="#fcc731" d="M482 68.3h4v4h-4zM486 68.3h4v4h-4zM490 68.3h4v4h-4zM478 72.3h4v4h-4zM482 72.3h4v4h-4zM490 72.3h4v4h-4zM494 72.3h4v4h-4zM474 76.3h4v4h-4zM494 76.3h4v4h-4zM474 80.3h4v4h-4zM498 80.3h4v4h-4zM470 84.3h4v4h-4zM498 84.3h4v4h-4zM502 92.3h4v4h-4zM506 100.3h4v4h-4zM462 104.3h4v4h-4zM510 112.3h4v4h-4zM514 120.3h4v4h-4zM518 124.3h4v4h-4zM522 128.3h4v4h-4zM526 136.3h4v4h-4zM454 140.3h4v4h-4zM446 148.3h4v4h-4zM526 152.3h4v4h-4zM526 156.3h4v4h-4zM526 160.3h4v4h-4z"/>
<path fill="#fbce2e" d="M510 68.3h4v4h-4zM458 88.3h4v4h-4zM514 96.3h4v4h-4z"/>
<path fill="#fcc631" d="M486 72.3h4v4h-4zM478 76.3h4v4h-4zM490 76.3h4v4h-4zM494 80.3h4v4h-4zM470 88.3h4v4h-4zM466 96.3h4v4h-4zM506 104.3h4v4h-4zM462 108.3h4v4h-4zM458 124.3h4v4h-4zM526 140.3h4v4h-4zM526 144.3h4v4h-4zM526 148.3h4v4h-4z"/>
<path fill="#fad02d" d="M454 76.3h4v4h-4zM454 80.3h4v4h-4zM454 84.3h4v4h-4zM454 88.3h4v4h-4zM454 92.3h4v4h-4zM450 124.3h4v4h-4zM542 132.3h4v4h-4zM558 140.3h4v4h-4zM446 144.3h4v4h-4zM574 148.3h4v4h-4zM570 152.3h4v4h-4zM570 156.3h4v4h-4zM570 160.3h4v4h-4z"/>
<path fill="#fcc632" d="M482 76.3h4v4h-4zM486 76.3h4v4h-4zM478 80.3h4v4h-4zM474 84.3h4v4h-4zM498 88.3h4v4h-4zM502 96.3h4v4h-4zM510 116.3h4v4h-4zM522 152.3h4v4h-4zM522 156.3h4v4h-4zM522 160.3h4v4h-4z"/>
<path fill="#fcc532" d="M482 80.3h4v4h-4zM486 80.3h4v4h-4zM490 80.3h4v4h-4zM478 84.3h4v4h-4zM494 84.3h4v4h-4zM470 92.3h4v4h-4zM466 100.3h4v4h-4zM506 108.3h4v4h-4zM462 112.3h4v4h-4zM522 132.3h4v4h-4zM522 148.3h4v4h-4z"/>
<path fill="#fcc433" d="M482 84.3h4v4h-4zM486 84.3h4v4h-4zM490 84.3h4v4h-4zM494 88.3h4v4h-4zM502 100.3h4v4h-4zM462 116.3h4v4h-4zM458 128.3h4v4h-4zM522 144.3h4v4h-4z"/>
<path fill="#fcc432" d="M474 88.3h4v4h-4zM498 92.3h4v4h-4zM518 152.3h4v4h-4zM518 156.3h4v4h-4zM518 160.3h4v4h-4z"/>
<path fill="#fdc333" d="M478 88.3h4v4h-4zM490 88.3h4v4h-4zM470 96.3h4v4h-4zM498 96.3h4v4h-4zM466 104.3h4v4h-4zM502 104.3h4v4h-4zM506 112.3h4v4h-4zM510 120.3h4v4h-4zM514 124.3h4v4h-4zM518 128.3h4v4h-4zM522 136.3h4v4h-4zM522 140.3h4v4h-4z"/>
<path fill="#fdc234" d="M482 88.3h4v4h-4zM486 88.3h4v4h-4zM494 92.3h4v4h-4zM462 120.3h4v4h-4zM458 132.3h4v4h-4zM514 152.3h4v4h-4zM514 156.3h4v4h-4zM514 160.3h4v4h-4z"/>
<path fill="#fdc334" d="M474 92.3h4v4h-4zM518 148.3h4v4h-4z"/>
<path fill="#fdc135" d="M478 92.3h4v4h-4zM490 92.3h4v4h-4zM470 100.3h4v4h-4zM458 136.3h4v4h-4z"/>
<path fill="#fdc035" d="M482 92.3h4v4h-4zM486 92.3h4v4h-4zM474 96.3h4v4h-4zM494 96.3h4v4h-4zM466 112.3h4v4h-4zM518 132.3h4v4h-4zM454 144.3h4v4h-4zM518 144.3h4v4h-4z"/>
<path fill="#fdbe36" d="M478 96.3h4v4h-4zM474 100.3h4v4h-4zM494 100.3h4v4h-4zM466 116.3h4v4h-4zM506 120.3h4v4h-4zM510 124.3h4v4h-4zM514 128.3h4v4h-4zM518 136.3h4v4h-4zM518 140.3h4v4h-4z"/>
<path fill="#fdbd37" d="M482 96.3h4v4h-4zM486 96.3h4v4h-4zM498 108.3h4v4h-4z"/>
<path fill="#fdbf36" d="M490 96.3h4v4h-4zM470 104.3h4v4h-4zM498 104.3h4v4h-4zM502 112.3h4v4h-4zM462 124.3h4v4h-4zM514 148.3h4v4h-4z"/>
<path fill="#fdbb38" d="M478 100.3h4v4h-4zM486 100.3h4v4h-4zM474 104.3h4v4h-4zM498 112.3h4v4h-4zM466 120.3h4v4h-4zM462 128.3h4v4h-4zM514 144.3h4v4h-4zM506 152.3h4v4h-4zM506 156.3h4v4h-4zM506 160.3h4v4h-4z"/>
<path fill="#fcbb38" d="M482 100.3h4v4h-4zM470 112.3h4v4h-4z"/>
<path fill="#fdbc38" d="M490 100.3h4v4h-4zM494 104.3h4v4h-4z"/>
<path fill="#fdc134" d="M498 100.3h4v4h-4zM466 108.3h4v4h-4zM502 108.3h4v4h-4zM506 116.3h4v4h-4z"/>
<path fill="#fbb938" d="M478 104.3h4v4h-4zM474 108.3h4v4h-4zM470 116.3h4v4h-4zM502 120.3h4v4h-4zM506 124.3h4v4h-4zM462 132.3h4v4h-4zM514 132.3h4v4h-4z"/>
<path fill="#fab939" d="M482 104.3h4v4h-4zM510 128.3h4v4h-4z"/>
<path fill="#fab938" d="M486 104.3h4v4h-4zM498 116.3h4v4h-4zM450 148.3h4v4h-4z"/>
<path fill="#fcba38" d="M490 104.3h4v4h-4zM494 108.3h4v4h-4zM510 148.3h4v4h-4z"/>
<path fill="#f9d42b" d="M526 104.3h4v4h-4zM558 132.3h4v4h-4z"/>
<path fill="#fdbc37" d="M470 108.3h4v4h-4zM502 116.3h4v4h-4z"/>
<path fill="#f9b839" d="M478 108.3h4v4h-4zM474 112.3h4v4h-4zM462 136.3h4v4h-4z"/>
<path fill="#f8b739" d="M482 108.3h4v4h-4zM486 108.3h4v4h-4zM470 120.3h4v4h-4zM502 152.3h4v4h-4zM502 156.3h4v4h-4zM502 160.3h4v4h-4z"/>
<path fill="#fab839" d="M490 108.3h4v4h-4zM494 112.3h4v4h-4zM466 124.3h4v4h-4zM514 140.3h4v4h-4zM446 152.3h4v4h-4zM446 156.3h4v4h-4zM446 160.3h4v4h-4z"/>
<path fill="#f7b639" d="M478 112.3h4v4h-4zM490 112.3h4v4h-4zM474 116.3h4v4h-4zM494 116.3h4v4h-4zM498 120.3h4v4h-4z"/>
<path fill="#f6b539" d="M482 112.3h4v4h-4zM486 112.3h4v4h-4zM502 124.3h4v4h-4zM466 128.3h4v4h-4zM458 144.3h4v4h-4zM510 144.3h4v4h-4zM506 148.3h4v4h-4z"/>
<path fill="#f4b33a" d="M478 116.3h4v4h-4z"/>
<path fill="#f2b23a" d="M482 116.3h4v4h-4zM486 116.3h4v4h-4zM494 120.3h4v4h-4zM466 132.3h4v4h-4z"/>
<path fill="#f4b43a" d="M490 116.3h4v4h-4zM506 128.3h4v4h-4z"/>
<path fill="#f3b33a" d="M474 120.3h4v4h-4zM470 124.3h4v4h-4zM510 132.3h4v4h-4z"/>
<path fill="#ecb337" d="M478 120.3h4v4h-4zM510 136.3h4v4h-4zM498 152.3h4v4h-4zM498 156.3h4v4h-4zM498 160.3h4v4h-4z"/>
<path fill="#e7b434" d="M482 120.3h4v4h-4zM486 120.3h4v4h-4zM474 124.3h4v4h-4zM502 128.3h4v4h-4z"/>
<path fill="#ebb336" d="M490 120.3h4v4h-4zM466 136.3h4v4h-4z"/>
<path fill="#dcb62e" d="M478 124.3h4v4h-4z"/>
<path fill="#d7b82d" d="M482 124.3h4v4h-4z"/>
<path fill="#d6b82d" d="M486 124.3h4v4h-4z"/>
<path fill="#dab72e" d="M490 124.3h4v4h-4zM466 140.3h4v4h-4zM462 144.3h4v4h-4z"/>
<path fill="#e2b532" d="M494 124.3h4v4h-4z"/>
<path fill="#eeb338" d="M498 124.3h4v4h-4zM510 140.3h4v4h-4z"/>
<path fill="#e9b435" d="M470 128.3h4v4h-4z"/>
<path fill="#d8b72e" d="M474 128.3h4v4h-4zM498 128.3h4v4h-4z"/>
<path fill="#cabc2c" d="M478 128.3h4v4h-4z"/>
<path fill="#c0bd31" d="M482 128.3h4v4h-4z"/>
<path fill="#bdbd33" d="M486 128.3h4v4h-4z"/>
<path fill="#c1bd31" d="M490 128.3h4v4h-4z"/>
<path fill="#ccbb2c" d="M494 128.3h4v4h-4z"/>
<path fill="#ddb62f" d="M470 132.3h4v4h-4z"/>
<path fill="#c8bc2c" d="M474 132.3h4v4h-4z"/>
<path fill="#b2bf3a" d="M478 132.3h4v4h-4z"/>
<path fill="#9cc249" d="M482 132.3h4v4h-4z"/>
<path fill="#8ec454" d="M486 132.3h4v4h-4z"/>
<path fill="#91c351" d="M490 132.3h4v4h-4z"/>
<path fill="#a4c143" d="M494 132.3h4v4h-4z"/>
<path fill="#b8be36" d="M498 132.3h4v4h-4z"/>
<path fill="#ceba2d" d="M502 132.3h4v4h-4z"/>
<path fill="#e2b531" d="M506 132.3h4v4h-4z"/>
<path fill="#d0ba2d" d="M470 136.3h4v4h-4z"/>
<path fill="#b0bf3b" d="M474 136.3h4v4h-4zM466 144.3h4v4h-4z"/>
<path fill="#7ec65f" d="M478 136.3h4v4h-4z"/>
<path fill="#54c880" d="M482 136.3h4v4h-4z"/>
<path fill="#3ec792" d="M486 136.3h4v4h-4zM490 136.3h4v4h-4zM494 144.3h4v4h-4z"/>
<path fill="#56c87f" d="M494 136.3h4v4h-4z"/>
<path fill="#81c65d" d="M498 136.3h4v4h-4z"/>
<path fill="#b3bf39" d="M502 136.3h4v4h-4z"/>
<path fill="#d3b92d" d="M506 136.3h4v4h-4zM506 140.3h4v4h-4zM450 152.3h4v4h-4zM450 156.3h4v4h-4zM450 160.3h4v4h-4z"/>
<path fill="#f9b739" d="M514 136.3h4v4h-4z"/>
<path fill="#fdbe37" d="M458 140.3h4v4h-4z"/>
<path fill="#f5b43a" d="M462 140.3h4v4h-4z"/>
<path fill="#b4be38" d="M470 140.3h4v4h-4z"/>
<path fill="#6fc86a" d="M474 140.3h4v4h-4z"/>
<path fill="#31c2a0" d="M478 140.3h4v4h-4z"/>
<path fill="#18b6c1" d="M482 140.3h4v4h-4z"/>
<path fill="#15b3c9" d="M486 140.3h4v4h-4z"/>
<path fill="#17b5c3" d="M490 140.3h4v4h-4zM466 148.3h4v4h-4z"/>
<path fill="#2bbfa7" d="M494 140.3h4v4h-4z"/>
<path fill="#65c873" d="M498 140.3h4v4h-4z"/>
<path fill="#acbf3d" d="M502 140.3h4v4h-4z"/>
<path fill="#61c876" d="M470 144.3h4v4h-4z"/>
<path fill="#1ebab5" d="M474 144.3h4v4h-4z"/>
<path fill="#13b1cf" d="M478 144.3h4v4h-4z"/>
<path fill="#17a9d8" d="M482 144.3h4v4h-4zM482 148.3h4v4h-4z"/>
<path fill="#15acd4" d="M486 144.3h4v4h-4zM482 152.3h4v4h-4zM482 156.3h4v4h-4zM482 160.3h4v4h-4z"/>
<path fill="#17b5c2" d="M490 144.3h4v4h-4z"/>
<path fill="#8bc455" d="M498 144.3h4v4h-4z"/>
<path fill="#c4bd2f" d="M502 144.3h4v4h-4z"/>
<path fill="#e3b532" d="M506 144.3h4v4h-4z"/>
<path fill="#dfb530" d="M454 148.3h4v4h-4z"/>
<path fill="#aebf3c" d="M458 148.3h4v4h-4z"/>
<path fill="#4fc884" d="M462 148.3h4v4h-4z"/>
<path fill="#1ba4dd" d="M470 148.3h4v4h-4z"/>
<path fill="#2396e8" d="M474 148.3h4v4h-4z"/>
<path fill="#219ae6" d="M478 148.3h4v4h-4z"/>
<path fill="#18b6bf" d="M486 148.3h4v4h-4z"/>
<path fill="#4bc887" d="M490 148.3h4v4h-4z"/>
<path fill="#99c24b" d="M494 148.3h4v4h-4z"/>
<path fill="#c9bc2c" d="M498 148.3h4v4h-4z"/>
<path fill="#e5b433" d="M502 148.3h4v4h-4z"/>
<path fill="#70c869" d="M454 152.3h4v4h-4zM454 156.3h4v4h-4zM454 160.3h4v4h-4z"/>
<path fill="#13b1cd" d="M458 152.3h4v4h-4zM458 156.3h4v4h-4zM458 160.3h4v4h-4z"/>
<path fill="#386ff6" d="M462 152.3h4v4h-4zM462 156.3h4v4h-4zM462 160.3h4v4h-4z"/>
<path fill="#433bcc" d="M466 152.3h4v4h-4zM466 156.3h4v4h-4zM466 160.3h4v4h-4z"/>
<path fill="#402cb3" d="M470 152.3h4v4h-4zM470 156.3h4v4h-4zM470 160.3h4v4h-4z"/>
<path fill="#443dd0" d="M474 152.3h4v4h-4zM474 156.3h4v4h-4zM474 160.3h4v4h-4z"/>
<path fill="#3870f6" d="M478 152.3h4v4h-4zM478 156.3h4v4h-4zM478 160.3h4v4h-4z"/>
<path fill="#42c88e" d="M486 152.3h4v4h-4zM486 156.3h4v4h-4zM486 160.3h4v4h-4z"/>
<path fill="#a7c041" d="M490 152.3h4v4h-4zM490 156.3h4v4h-4zM490 160.3h4v4h-4z"/>
<path fill="#d2b92d" d="M494 152.3h4v4h-4zM494 156.3h4v4h-4zM494 160.3h4v4h-4z"/>
<path fill="#fdbf35" d="M510 152.3h4v4h-4zM510 156.3h4v4h-4zM510 160.3h4v4h-4z"/>
</g></g>
<rect x="52.5" y="24.3" width="272.5" height="129.7" fill="none" stroke="#9a9a9a" stroke-width="0.7"/>
<rect x="358" y="24.3" width="262" height="129.7" fill="none" stroke="#9a9a9a" stroke-width="0.7"/>
<text x="-1.5" y="13.6" font-size="24" font-weight="bold">a</text>
<text x="114.4" y="16.6" font-size="15" textLength="148.2" lengthAdjust="spacingAndGlyphs">Detuned resonators</text>
<text x="417" y="16.6" font-size="15" textLength="123.8" lengthAdjust="spacingAndGlyphs">Single resonator</text>
<text x="93.73" y="172.80" font-size="13.5" textLength="15.54" lengthAdjust="spacingAndGlyphs">50</text>
<text x="159.45" y="172.80" font-size="13.5" textLength="23.31" lengthAdjust="spacingAndGlyphs">100</text>
<text x="229.05" y="172.80" font-size="13.5" textLength="23.31" lengthAdjust="spacingAndGlyphs">150</text>
<text x="298.65" y="172.80" font-size="13.5" textLength="23.31" lengthAdjust="spacingAndGlyphs">200</text>
<text x="23.29" y="45.00" font-size="13.5" textLength="23.31" lengthAdjust="spacingAndGlyphs">150</text>
<text x="23.29" y="92.50" font-size="13.5" textLength="23.31" lengthAdjust="spacingAndGlyphs">100</text>
<text x="31.06" y="140.40" font-size="13.5" textLength="15.54" lengthAdjust="spacingAndGlyphs">50</text>
<text x="381.93" y="172.80" font-size="13.5" textLength="15.54" lengthAdjust="spacingAndGlyphs">50</text>
<text x="424.05" y="172.80" font-size="13.5" textLength="23.31" lengthAdjust="spacingAndGlyphs">100</text>
<text x="470.35" y="172.80" font-size="13.5" textLength="23.31" lengthAdjust="spacingAndGlyphs">150</text>
<text x="515.05" y="172.80" font-size="13.5" textLength="23.31" lengthAdjust="spacingAndGlyphs">200</text>
<text x="561.35" y="172.80" font-size="13.5" textLength="23.31" lengthAdjust="spacingAndGlyphs">250</text>
<text x="607.15" y="172.80" font-size="13.5" textLength="23.31" lengthAdjust="spacingAndGlyphs">300</text>
<text x="328.49" y="30.40" font-size="13.5" textLength="23.31" lengthAdjust="spacingAndGlyphs">300</text>
<text x="328.49" y="75.90" font-size="13.5" textLength="23.31" lengthAdjust="spacingAndGlyphs">200</text>
<text x="328.49" y="120.90" font-size="13.5" textLength="23.31" lengthAdjust="spacingAndGlyphs">100</text>
<text x="157.4" y="184.3" font-size="13.2" textLength="5.6" lengthAdjust="spacingAndGlyphs">L</text><text x="163.7" y="186.3" font-size="8.6" textLength="9.6" lengthAdjust="spacingAndGlyphs">x1</text><text x="180.2" y="184.3" font-size="13.2" textLength="32.6" lengthAdjust="spacingAndGlyphs">(nm)</text>
<text x="463.1" y="184.3" font-size="13.2" textLength="5.6" lengthAdjust="spacingAndGlyphs">L</text><text x="469.4" y="186.3" font-size="8.6" textLength="9.6" lengthAdjust="spacingAndGlyphs">x1</text><text x="485.9" y="184.3" font-size="13.2" textLength="32.6" lengthAdjust="spacingAndGlyphs">(nm)</text>
<g transform="translate(19.4 105.6) rotate(-90)"><text x="0" y="0" font-size="13.2" textLength="5.6" lengthAdjust="spacingAndGlyphs">L</text><text x="6.3" y="2.0" font-size="8.6" textLength="9.6" lengthAdjust="spacingAndGlyphs">y1</text><text x="22.8" y="0" font-size="13.2" textLength="32.6" lengthAdjust="spacingAndGlyphs">(nm)</text></g>
<rect x="642.5" y="24.3" width="21" height="130" fill="url(#cbar)" stroke="#555" stroke-width="0.8"/>
<line x1="661.5" y1="67.6" x2="663.5" y2="67.6" stroke="#333" stroke-width="0.8"/>
<line x1="661.5" y1="110.9" x2="663.5" y2="110.9" stroke="#333" stroke-width="0.8"/>
<text x="669.30" y="29.80" font-size="13.5" textLength="7.77" lengthAdjust="spacingAndGlyphs">1</text>
<text x="669.30" y="72.50" font-size="13.5" textLength="19.42" lengthAdjust="spacingAndGlyphs">0.8</text>
<text x="669.30" y="115.80" font-size="13.5" textLength="19.42" lengthAdjust="spacingAndGlyphs">0.6</text>
<text x="669.30" y="159.20" font-size="13.5" textLength="19.42" lengthAdjust="spacingAndGlyphs">0.4</text>
<text x="646" y="19.2" font-size="15" textLength="14" lengthAdjust="spacingAndGlyphs">|r|</text>
<g clip-path="url(#clipL)"><path d="M78.0 24.3 C78.2 28.1 78.3 40.1 78.9 47.0 C79.5 53.9 80.6 59.1 81.4 65.8 C82.2 72.5 83.3 80.6 83.9 87.0 C84.5 93.4 84.8 99.3 84.8 104.3 C84.8 109.3 84.5 113.1 84.2 117.2 C83.9 121.3 83.7 125.5 82.9 128.7 C82.2 131.9 81.0 133.8 79.7 136.4 C78.4 139.0 76.8 142.1 75.2 144.2 C73.6 146.2 71.9 147.2 70.0 148.7 C68.1 150.2 64.9 152.2 63.6 153.2 C62.3 154.2 62.3 154.3 62.0 154.5" fill="none" stroke="#ff14ff" stroke-width="2" stroke-dasharray="10 7" stroke-dashoffset="4.2"/></g>
<g clip-path="url(#clipL)"><path d="M102.0 24.3 C102.1 28.1 102.4 39.7 102.6 47.0 C102.8 54.3 103.0 61.1 103.2 68.3 C103.5 75.5 103.9 84.8 104.1 90.1 C104.2 95.4 104.3 96.3 104.1 100.4 C103.9 104.5 103.5 110.7 102.8 114.6 C102.0 118.5 100.8 120.6 99.6 123.6 C98.4 126.6 97.2 130.0 95.7 132.6 C94.2 135.2 92.5 136.9 90.6 139.0 C88.7 141.1 86.8 143.2 84.2 145.4 C81.6 147.6 77.1 150.5 75.2 151.9 C73.3 153.3 73.0 153.7 72.6 154.0" fill="none" stroke="#ff14ff" stroke-width="2" stroke-dasharray="10 7" stroke-dashoffset="1.5"/></g>
<g clip-path="url(#clipL)"><path d="M118.5 24.3 C118.5 30.2 118.1 49.0 118.2 59.5 C118.3 70.0 119.2 80.0 118.9 87.0 C118.6 94.0 117.2 97.3 116.3 101.7 C115.4 106.1 114.8 110.1 113.7 113.3 C112.6 116.5 111.2 118.7 109.9 121.0 C108.6 123.3 107.5 125.0 106.0 127.4 C104.5 129.8 102.8 132.8 100.9 135.2 C99.0 137.6 96.6 139.7 94.4 141.6 C92.2 143.5 90.8 144.6 88.0 146.7 C85.2 148.8 79.4 152.8 77.7 154.0" fill="none" stroke="#ff14ff" stroke-width="2" stroke-dasharray="10 7" stroke-dashoffset="12"/></g>
<g clip-path="url(#clipL)"><path d="M134.2 24.3 C134.0 31.5 133.4 57.6 133.1 67.7 C132.8 77.8 132.6 80.4 132.1 85.0 C131.6 89.6 130.8 91.6 130.1 95.3 C129.3 99.0 128.8 103.5 127.6 106.9 C126.4 110.3 124.2 113.1 122.7 115.9 C121.2 118.7 120.6 121.0 118.9 123.6 C117.2 126.2 114.7 129.0 112.5 131.3 C110.3 133.7 108.4 135.8 106.0 137.7 C103.6 139.6 101.3 141.0 98.3 142.9 C95.3 144.8 91.0 147.5 88.0 149.3 C85.0 151.2 81.6 153.2 80.3 154.0" fill="none" stroke="#ff14ff" stroke-width="2" stroke-dasharray="10 7" stroke-dashoffset="6.8"/></g>
<g clip-path="url(#clipL)"><path d="M152.7 24.3 C152.3 29.4 151.0 47.8 150.5 55.0 C150.0 62.2 150.4 61.9 149.8 67.7 C149.2 73.5 147.8 85.1 146.9 90.1 C146.0 95.1 145.4 94.7 144.3 97.9 C143.2 101.1 141.7 106.4 140.4 109.4 C139.1 112.4 138.3 113.5 136.6 115.9 C134.9 118.3 132.0 121.5 130.1 123.6 C128.2 125.7 126.7 127.0 125.0 128.7 C123.3 130.4 122.5 132.2 120.2 133.9 C117.9 135.6 114.0 137.5 111.2 139.0 C108.4 140.5 106.2 141.4 103.4 142.9 C100.6 144.4 97.4 146.2 94.4 148.0 C91.4 149.8 86.9 153.0 85.4 154.0" fill="none" stroke="#ff14ff" stroke-width="2" stroke-dasharray="10 7" stroke-dashoffset="0.2"/></g>
<g clip-path="url(#clipL)"><path d="M175.9 24.3 C175.7 29.4 175.1 47.8 174.9 55.0 C174.7 62.2 175.3 62.3 174.9 67.7 C174.5 73.1 173.6 82.6 172.6 87.6 C171.6 92.6 170.2 94.5 168.7 97.9 C167.2 101.3 165.7 105.0 163.6 108.2 C161.5 111.4 158.7 114.2 155.9 117.2 C153.1 120.2 149.9 123.5 146.9 126.2 C143.9 128.9 140.7 131.3 137.9 133.2 C135.1 135.1 132.4 136.3 130.1 137.7 C127.8 139.1 126.7 140.3 124.0 141.6 C121.3 142.9 117.1 144.1 113.7 145.4 C110.3 146.7 106.8 147.9 103.4 149.3 C100.0 150.7 94.9 153.2 93.2 154.0" fill="none" stroke="#ff14ff" stroke-width="2" stroke-dasharray="10 7" stroke-dashoffset="4.2"/></g>
<g clip-path="url(#clipL)"><path d="M196.2 24.3 C196.4 28.6 197.0 42.8 197.5 50.0 C198.0 57.2 198.7 61.4 199.1 67.7 C199.5 74.0 200.2 82.6 200.2 87.6 C200.2 92.6 199.8 94.1 199.0 97.9 C198.2 101.8 197.1 107.1 195.7 110.7 C194.3 114.3 192.5 116.9 190.6 119.7 C188.7 122.5 186.6 124.8 184.2 127.4 C181.8 130.0 179.4 132.8 176.4 135.2 C173.4 137.6 170.0 139.7 166.2 141.6 C162.3 143.5 157.4 145.3 153.3 146.7 C149.2 148.1 145.6 149.0 141.7 150.0 C137.8 151.0 133.4 151.8 130.1 152.5 C126.8 153.2 123.3 153.8 122.0 154.0" fill="none" stroke="#ff14ff" stroke-width="2" stroke-dasharray="10 7" stroke-dashoffset="4.8"/></g>
<g clip-path="url(#clipL)"><path d="M209.9 24.3 C210.2 28.6 210.8 42.8 211.6 50.0 C212.4 57.2 213.9 63.0 214.8 67.7 C215.7 72.4 216.3 75.1 216.8 78.0 C217.3 80.9 217.7 81.7 218.0 85.0 C218.3 88.3 218.5 93.6 218.6 97.9 C218.7 102.2 218.9 106.4 218.6 110.7 C218.3 115.0 217.6 119.5 216.7 123.6 C215.8 127.7 214.4 132.0 212.9 135.2 C211.4 138.4 209.4 140.6 207.7 142.9 C206.0 145.2 204.4 147.5 202.6 149.3 C200.8 151.2 197.9 153.2 197.0 154.0" fill="none" stroke="#ff14ff" stroke-width="2" stroke-dasharray="10 7" stroke-dashoffset="5.5"/></g>
<g clip-path="url(#clipL)"><path d="M220.8 24.3 C221.3 29.4 222.8 47.4 223.8 55.0 C224.8 62.6 226.0 65.0 227.0 70.0 C228.0 75.0 228.9 80.3 229.6 85.0 C230.2 89.7 230.6 93.6 230.9 97.9 C231.2 102.2 231.5 106.4 231.5 110.7 C231.5 115.0 231.4 119.3 230.9 123.6 C230.4 127.9 229.6 132.6 228.3 136.4 C227.0 140.2 224.9 143.8 223.2 146.7 C221.5 149.6 218.9 152.8 218.0 154.0" fill="none" stroke="#ff14ff" stroke-width="2" stroke-dasharray="10 7" stroke-dashoffset="8.1"/></g>
<g clip-path="url(#clipL)"><path d="M231.6 24.3 C232.2 28.6 233.8 39.9 235.0 50.0 C236.2 60.1 237.6 77.0 238.6 85.0 C239.6 93.0 240.7 93.6 241.2 97.9 C241.7 102.2 241.8 106.4 241.8 110.7 C241.8 115.0 241.7 119.3 241.2 123.6 C240.7 127.9 239.9 132.6 238.6 136.4 C237.3 140.2 235.1 143.8 233.4 146.7 C231.7 149.6 229.2 152.8 228.3 154.0" fill="none" stroke="#ff14ff" stroke-width="2" stroke-dasharray="10 7" stroke-dashoffset="8.1"/></g>
<g clip-path="url(#clipL)"><path d="M244.3 24.3 C244.8 28.6 246.4 39.9 247.5 50.0 C248.6 60.1 250.0 77.0 250.8 85.0 C251.6 93.0 251.9 93.6 252.1 97.9 C252.3 102.2 252.2 106.4 252.1 110.7 C252.0 115.0 252.1 119.1 251.4 123.6 C250.8 128.1 249.7 133.6 248.2 137.7 C246.7 141.8 244.3 145.3 242.4 148.0 C240.5 150.7 237.9 153.0 237.0 154.0" fill="none" stroke="#ff14ff" stroke-width="2" stroke-dasharray="10 7" stroke-dashoffset="4.8"/></g>
<g clip-path="url(#clipL)"><path d="M267.8 24.3 C267.8 30.2 267.4 49.5 267.5 60.0 C267.6 70.5 268.2 80.2 268.2 87.6 C268.2 95.0 268.0 99.4 267.7 104.3 C267.4 109.2 266.9 113.3 266.4 117.2 C265.9 121.1 265.9 123.9 264.5 127.5 C263.1 131.1 260.1 135.8 257.9 139.0 C255.7 142.2 253.8 144.4 251.4 146.7 C249.0 148.9 245.3 151.3 243.7 152.5 C242.1 153.7 242.3 153.8 242.0 154.0" fill="none" stroke="#ff14ff" stroke-width="2" stroke-dasharray="10 7" stroke-dashoffset="4.2"/></g>
<g clip-path="url(#clipL)"><path d="M325.0 71.0 C323.6 73.3 318.9 81.0 316.6 85.0 C314.4 89.0 313.6 91.4 311.5 95.3 C309.4 99.2 306.3 104.1 303.7 108.2 C301.1 112.3 299.0 115.4 296.0 119.7 C293.0 124.0 289.1 130.0 285.7 133.9 C282.3 137.8 279.0 140.1 275.4 142.9 C271.8 145.7 267.0 148.8 263.9 150.6 C260.8 152.4 258.1 153.4 257.0 154.0" fill="none" stroke="#ff14ff" stroke-width="2" stroke-dasharray="10 7" stroke-dashoffset="0"/></g>
<g clip-path="url(#clipL)"><path d="M325.0 149.2 C323.2 149.5 317.8 150.6 314.0 151.3 C310.2 152.0 305.2 152.8 302.5 153.2 C299.8 153.6 298.8 153.9 298.0 154.0" fill="none" stroke="#ff14ff" stroke-width="2" stroke-dasharray="10 7" stroke-dashoffset="0"/></g>
<g clip-path="url(#clipR)"><path d="M376.8 24.3 C376.9 27.0 376.9 34.9 377.6 40.8 C378.3 46.6 379.6 53.7 380.8 59.5 C381.9 65.3 383.4 71.2 384.5 75.8 C385.6 80.3 386.6 83.3 387.6 87.0 C388.6 90.7 389.1 94.0 390.3 98.0 C391.5 102.0 393.2 106.7 394.8 111.1 C396.4 115.5 398.1 119.9 400.1 124.2 C402.1 128.6 404.4 133.3 406.6 137.2 C408.8 141.1 411.8 144.8 413.1 147.6 C414.4 150.4 414.2 152.9 414.4 154.0" fill="none" stroke="#ff14ff" stroke-width="2" stroke-dasharray="10 7" stroke-dashoffset="4.1"/></g>
<g clip-path="url(#clipR)"><path d="M456.0 33.7 C456.4 36.6 457.5 45.4 458.5 51.2 C459.5 57.0 460.8 62.4 462.1 68.7 C463.4 75.0 465.3 84.1 466.5 89.2 C467.7 94.3 468.3 95.9 469.4 99.6 C470.5 103.3 472.0 107.4 473.1 111.3 C474.2 115.2 475.4 119.3 476.0 123.0 C476.6 126.7 476.9 129.8 476.7 133.2 C476.4 136.6 475.7 140.7 474.5 143.4 C473.3 146.1 471.9 147.4 469.4 149.2 C466.8 151.0 460.9 153.2 459.2 154.0" fill="none" stroke="#ff14ff" stroke-width="2" stroke-dasharray="10 7" stroke-dashoffset="3.7"/></g>
<g clip-path="url(#clipR)"><path d="M502.6 24.3 C502.5 27.6 501.9 37.0 501.8 43.9 C501.8 50.8 502.2 58.2 502.3 65.8 C502.4 73.3 502.6 82.3 502.7 89.2 C502.8 96.1 502.8 101.5 502.7 106.9 C502.6 112.3 502.7 117.4 502.3 121.5 C501.9 125.6 501.2 128.8 500.1 131.7 C499.0 134.6 497.6 136.8 495.7 139.0 C493.8 141.2 491.3 143.2 488.4 144.9 C485.5 146.6 481.6 147.9 478.2 149.2 C474.8 150.5 470.7 152.1 468.0 152.9 C465.3 153.7 463.0 154.0 462.0 154.2" fill="none" stroke="#ff14ff" stroke-width="2" stroke-dasharray="10 7" stroke-dashoffset="4.0"/></g>
<g clip-path="url(#clipR)"><path d="M620.0 114.5 C616.9 115.5 607.9 118.5 601.5 120.4 C595.1 122.3 587.3 124.6 581.6 126.1 C575.9 127.6 572.2 128.2 567.5 129.6 C562.8 131.0 558.0 133.1 553.3 134.6 C548.6 136.1 543.9 137.4 539.2 138.8 C534.5 140.2 531.0 141.4 525.0 143.1 C519.0 144.8 509.1 147.7 503.0 149.2 C496.9 150.7 492.6 151.4 488.4 152.2 C484.2 153.0 479.7 153.9 478.0 154.2" fill="none" stroke="#ff14ff" stroke-width="2" stroke-dasharray="10 7" stroke-dashoffset="0"/></g>
<text transform="translate(66.5 25.6) rotate(95)" font-size="13.5" fill="#ff14ff" stroke="#ff14ff" stroke-width="0.3" textLength="26" lengthAdjust="spacingAndGlyphs">-57°</text>
<text transform="translate(290 151) rotate(-11)" font-size="14" fill="#ff14ff" stroke="#ff14ff" stroke-width="0.35" textLength="33" lengthAdjust="spacingAndGlyphs">-642°</text>
<text transform="translate(366 30.5) rotate(100)" font-size="13.5" fill="#ff14ff" stroke="#ff14ff" stroke-width="0.3" textLength="18" lengthAdjust="spacingAndGlyphs">-7°</text>
<text transform="translate(546 130) rotate(-17)" font-size="14" fill="#ff14ff" stroke="#ff14ff" stroke-width="0.35" textLength="33" lengthAdjust="spacingAndGlyphs">-277°</text>
<rect x="101.6" y="35.3" width="195.2" height="51.3" fill="none" stroke="#000" stroke-width="1.5"/>
<rect x="390.2" y="33.7" width="211.3" height="104.3" fill="none" stroke="#000" stroke-width="1.5"/>
<circle cx="103.5" cy="67.7" r="3.4" fill="none" stroke="#000" stroke-width="1.9"/>
<circle cx="118.6" cy="67.7" r="3.4" fill="none" stroke="#000" stroke-width="1.9"/>
<circle cx="132.7" cy="67.7" r="3.4" fill="none" stroke="#000" stroke-width="1.9"/>
<circle cx="150.2" cy="67.7" r="3.4" fill="none" stroke="#000" stroke-width="1.9"/>
<circle cx="174.9" cy="67.7" r="3.4" fill="none" stroke="#000" stroke-width="1.9"/>
<circle cx="199.1" cy="67.7" r="3.4" fill="none" stroke="#000" stroke-width="1.9"/>
<circle cx="215.1" cy="67.7" r="3.4" fill="none" stroke="#000" stroke-width="1.9"/>
<circle cx="226.2" cy="67.7" r="3.4" fill="none" stroke="#000" stroke-width="1.9"/>
<circle cx="390.3" cy="98.3" r="3.4" fill="none" stroke="#000" stroke-width="1.9"/>
<circle cx="455.8" cy="33.7" r="3.4" fill="none" stroke="#000" stroke-width="1.9"/>
<circle cx="501.8" cy="33.7" r="3.4" fill="none" stroke="#000" stroke-width="1.9"/>
<circle cx="601.5" cy="120.4" r="3.4" fill="none" stroke="#000" stroke-width="1.9"/>
<text x="-1.5" y="206.2" font-size="24" font-weight="bold">b</text>
<text x="38.2" y="206.3" font-size="16.3" font-weight="bold" textLength="24.8" lengthAdjust="spacingAndGlyphs">TM</text>
<text x="372.3" y="204.9" font-size="15.5" font-weight="bold" textLength="21.2" lengthAdjust="spacingAndGlyphs">TE</text>
<text x="193.6" y="208.4" font-size="14.2" textLength="134.6" lengthAdjust="spacingAndGlyphs">Detuned resonators</text>
<text x="209.4" y="268.1" font-size="14.2" textLength="118.8" lengthAdjust="spacingAndGlyphs">Single resonators</text>
<text x="527.4" y="207.7" font-size="14.2" textLength="135.1" lengthAdjust="spacingAndGlyphs">Detuned resonators</text>
<text x="543.7" y="267.6" font-size="14.2" textLength="119.1" lengthAdjust="spacingAndGlyphs">Single resonators</text>
<rect x="34.5" y="214.0" width="294" height="37" fill="none" stroke="#777" stroke-width="1"/>
<rect x="34.5" y="274.5" width="294" height="36.5" fill="none" stroke="#777" stroke-width="1"/>
<rect x="368.8" y="212.8" width="294" height="36.2" fill="none" stroke="#777" stroke-width="1"/>
<rect x="369.3" y="274.0" width="293.7" height="36.8" fill="none" stroke="#777" stroke-width="1"/>
<rect x="45.4" y="219.8" width="15.0" height="6.3" fill="#bcbdea" stroke="#5b5bf5" stroke-width="1" rx="0.6" />
<rect x="81.5" y="219.8" width="16.3" height="6.3" fill="#bcbdea" stroke="#5b5bf5" stroke-width="1" rx="0.6" />
<rect x="117.6" y="219.8" width="17.7" height="6.3" fill="#bcbdea" stroke="#5b5bf5" stroke-width="1" rx="0.6" />
<rect x="153.5" y="219.8" width="19.0" height="6.3" fill="#bcbdea" stroke="#5b5bf5" stroke-width="1" rx="0.6" />
<rect x="189.3" y="219.8" width="21.1" height="6.3" fill="#bcbdea" stroke="#5b5bf5" stroke-width="1" rx="0.6" />
<rect x="225.4" y="219.8" width="22.9" height="6.3" fill="#bcbdea" stroke="#5b5bf5" stroke-width="1" rx="0.6" />
<rect x="261.1" y="219.8" width="24.5" height="6.3" fill="#bcbdea" stroke="#5b5bf5" stroke-width="1" rx="0.6" />
<rect x="297.4" y="219.8" width="25.3" height="6.3" fill="#bcbdea" stroke="#5b5bf5" stroke-width="1" rx="0.6" />
<rect x="50.6" y="231.9" width="4.7" height="13.2" fill="#bcbdea" stroke="#5b5bf5" stroke-width="1" rx="0.6" />
<rect x="86.8" y="231.9" width="6.4" height="13.2" fill="#bcbdea" stroke="#5b5bf5" stroke-width="1" rx="0.6" />
<rect x="122.5" y="231.9" width="7.7" height="13.2" fill="#bcbdea" stroke="#5b5bf5" stroke-width="1" rx="0.6" />
<rect x="158.6" y="231.9" width="9.1" height="13.2" fill="#bcbdea" stroke="#5b5bf5" stroke-width="1" rx="0.6" />
<rect x="194.3" y="231.9" width="10.8" height="13.2" fill="#bcbdea" stroke="#5b5bf5" stroke-width="1" rx="0.6" />
<rect x="230.5" y="231.9" width="12.7" height="13.2" fill="#bcbdea" stroke="#5b5bf5" stroke-width="1" rx="0.6" />
<rect x="266.4" y="231.9" width="14.1" height="13.2" fill="#bcbdea" stroke="#5b5bf5" stroke-width="1" rx="0.6" />
<rect x="302.5" y="231.9" width="15.1" height="13.2" fill="#bcbdea" stroke="#5b5bf5" stroke-width="1" rx="0.6" />
<rect x="50.4" y="285.5" width="5.1" height="15.3" fill="#bcbdea" stroke="#5b5bf5" stroke-width="1" rx="0.6" />
<rect x="87.0" y="285.5" width="5.3" height="15.3" fill="#bcbdea" stroke="#5b5bf5" stroke-width="1" rx="0.6" stroke-opacity="0.5"/>
<rect x="119.8" y="277.6" width="13.4" height="31.0" fill="#bcbdea" stroke="#5b5bf5" stroke-width="1" rx="0.6" />
<rect x="156.6" y="277.6" width="12.9" height="31.0" fill="#bcbdea" stroke="#5b5bf5" stroke-width="1" rx="0.6" />
<rect x="190.7" y="277.7" width="18.4" height="30.6" fill="#bcbdea" stroke="#5b5bf5" stroke-width="1" rx="0.6" />
<rect x="227.6" y="277.7" width="18.4" height="30.6" fill="#bcbdea" stroke="#5b5bf5" stroke-width="1" rx="0.6" />
<rect x="257.9" y="288.5" width="30.9" height="9.4" fill="#bcbdea" stroke="#5b5bf5" stroke-width="1" rx="0.6" />
<rect x="294.8" y="288.5" width="30.2" height="9.4" fill="#bcbdea" stroke="#5b5bf5" stroke-width="1" rx="0.6" />
<rect x="374.8" y="229.0" width="12.5" height="5.0" fill="#bcbdea" stroke="#5b5bf5" stroke-width="1" rx="0.6" />
<rect x="393.8" y="223.9" width="5.5" height="14.9" fill="#bcbdea" stroke="#5b5bf5" stroke-width="1" rx="0.6" />
<rect x="411.4" y="227.8" width="12.9" height="6.7" fill="#bcbdea" stroke="#5b5bf5" stroke-width="1" rx="0.6" />
<rect x="430.2" y="222.9" width="6.2" height="16.4" fill="#bcbdea" stroke="#5b5bf5" stroke-width="1" rx="0.6" />
<rect x="447.7" y="227.5" width="13.3" height="7.7" fill="#bcbdea" stroke="#5b5bf5" stroke-width="1" rx="0.6" />
<rect x="466.8" y="222.7" width="6.2" height="17.3" fill="#bcbdea" stroke="#5b5bf5" stroke-width="1" rx="0.6" />
<rect x="484.4" y="226.5" width="13.6" height="9.2" fill="#bcbdea" stroke="#5b5bf5" stroke-width="1" rx="0.6" />
<rect x="503.6" y="221.7" width="6.5" height="19.3" fill="#bcbdea" stroke="#5b5bf5" stroke-width="1" rx="0.6" />
<rect x="521.5" y="225.8" width="12.8" height="10.7" fill="#bcbdea" stroke="#5b5bf5" stroke-width="1" rx="0.6" />
<rect x="540.6" y="220.5" width="5.9" height="21.2" fill="#bcbdea" stroke="#5b5bf5" stroke-width="1" rx="0.6" />
<rect x="558.0" y="224.8" width="13.1" height="12.7" fill="#bcbdea" stroke="#5b5bf5" stroke-width="1" rx="0.6" />
<rect x="577.5" y="219.7" width="5.8" height="23.0" fill="#bcbdea" stroke="#5b5bf5" stroke-width="1" rx="0.6" />
<rect x="594.8" y="224.3" width="13.1" height="13.8" fill="#bcbdea" stroke="#5b5bf5" stroke-width="1" rx="0.6" />
<rect x="614.0" y="219.2" width="6.1" height="23.7" fill="#bcbdea" stroke="#5b5bf5" stroke-width="1" rx="0.6" />
<rect x="631.6" y="223.8" width="12.8" height="14.8" fill="#bcbdea" stroke="#5b5bf5" stroke-width="1" rx="0.6" />
<rect x="650.8" y="218.6" width="6.1" height="25.1" fill="#bcbdea" stroke="#5b5bf5" stroke-width="1" rx="0.6" />
<rect x="380.0" y="289.7" width="15.2" height="5.5" fill="#bcbdea" stroke="#5b5bf5" stroke-width="1" rx="0.6" />
<rect x="416.5" y="289.7" width="15.4" height="5.5" fill="#bcbdea" stroke="#5b5bf5" stroke-width="1" rx="0.6" />
<rect x="445.5" y="285.7" width="31.1" height="13.2" fill="#bcbdea" stroke="#5b5bf5" stroke-width="1" rx="0.6" />
<rect x="482.5" y="285.7" width="30.6" height="13.2" fill="#bcbdea" stroke="#5b5bf5" stroke-width="1" rx="0.6" />
<rect x="519.4" y="283.5" width="30.1" height="18.1" fill="#bcbdea" stroke="#5b5bf5" stroke-width="1" rx="0.6" />
<rect x="555.9" y="283.5" width="30.0" height="18.1" fill="#bcbdea" stroke="#5b5bf5" stroke-width="1" rx="0.6" />
<rect x="603.1" y="277.0" width="9.3" height="30.8" fill="#bcbdea" stroke="#5b5bf5" stroke-width="1" rx="0.6" />
<rect x="640.1" y="277.0" width="9.0" height="30.8" fill="#bcbdea" stroke="#5b5bf5" stroke-width="1" rx="0.6" />
<path d="M27.5 294 V320.3 H51" fill="none" stroke="#000" stroke-width="1"/><path d="M27.5 290 l-2.2 6.5 h4.4 z" fill="#000"/><path d="M55 320.3 l-6.5 -2.2 v4.4 z" fill="#000"/>
<text x="22.8" y="288.2" font-size="14.5">y</text>
<text x="56.3" y="322.8" font-size="14.5">x</text>
<path d="M361.5 294.5 V317.9 H386" fill="none" stroke="#000" stroke-width="1"/><path d="M361.5 290.5 l-2.2 6.5 h4.4 z" fill="#000"/><path d="M390 317.9 l-6.5 -2.2 v4.4 z" fill="#000"/>
<text x="357.2" y="287.3" font-size="14.5">y</text>
<text x="391.5" y="322" font-size="14.5">x</text>
<text x="169.2" y="323.3" font-size="14">8P<tspan font-size="10" dy="2.5">x</tspan></text>
<text x="509.8" y="322.7" font-size="14">8P<tspan font-size="10" dy="2.5">x</tspan></text>
<text x="665.5" y="236.3" font-size="14">P<tspan font-size="10" dy="2.5">y</tspan></text>
<text x="665.2" y="297.5" font-size="14">P<tspan font-size="10" dy="2.5">y</tspan></text>
<text x="-1.5" y="364.2" font-size="24" font-weight="bold">c</text>
<text x="133.5" y="350.2" font-size="14.6" textLength="198.5" lengthAdjust="spacingAndGlyphs">Solid: Detuned resonators</text>
<text x="369.6" y="350.4" font-size="14.6" textLength="199.4" lengthAdjust="spacingAndGlyphs">Dashed: Single resonators</text>
<path d="M101.8 500.8 v-2.8 M101.8 355.3 v2.8 M147.9 500.8 v-2.8 M147.9 355.3 v2.8 M194.1 500.8 v-2.8 M194.1 355.3 v2.8 M240.3 500.8 v-2.8 M240.3 355.3 v2.8 M286.4 500.8 v-2.8 M286.4 355.3 v2.8 M55.6 471.7 h2.8 M332.6 471.7 h-2.8 M55.6 442.6 h2.8 M332.6 442.6 h-2.8 M55.6 413.5 h2.8 M332.6 413.5 h-2.8 M55.6 384.4 h2.8 M332.6 384.4 h-2.8" stroke="#6a6a6a" stroke-width="0.8" fill="none"/>
<text x="45.89" y="520.60" font-size="13.5" textLength="19.42" lengthAdjust="spacingAndGlyphs">0.6</text>
<text x="92.06" y="520.60" font-size="13.5" textLength="19.42" lengthAdjust="spacingAndGlyphs">0.7</text>
<text x="138.22" y="520.60" font-size="13.5" textLength="19.42" lengthAdjust="spacingAndGlyphs">0.8</text>
<text x="184.39" y="520.60" font-size="13.5" textLength="19.42" lengthAdjust="spacingAndGlyphs">0.9</text>
<text x="236.38" y="520.60" font-size="13.5" textLength="7.77" lengthAdjust="spacingAndGlyphs">1</text>
<text x="276.72" y="520.60" font-size="13.5" textLength="19.42" lengthAdjust="spacingAndGlyphs">1.1</text>
<text x="322.89" y="520.60" font-size="13.5" textLength="19.42" lengthAdjust="spacingAndGlyphs">1.2</text>
<text x="41.83" y="505.70" font-size="13.5" textLength="7.77" lengthAdjust="spacingAndGlyphs">0</text>
<text x="30.18" y="476.60" font-size="13.5" textLength="19.42" lengthAdjust="spacingAndGlyphs">0.2</text>
<text x="30.18" y="447.50" font-size="13.5" textLength="19.42" lengthAdjust="spacingAndGlyphs">0.4</text>
<text x="30.18" y="418.40" font-size="13.5" textLength="19.42" lengthAdjust="spacingAndGlyphs">0.6</text>
<text x="30.18" y="389.30" font-size="13.5" textLength="19.42" lengthAdjust="spacingAndGlyphs">0.8</text>
<text x="41.83" y="360.20" font-size="13.5" textLength="7.77" lengthAdjust="spacingAndGlyphs">1</text>
<text x="137.5" y="541.2" font-size="14.8" textLength="113.3" lengthAdjust="spacingAndGlyphs">Wavelength (μm)</text>
<path d="M413.9 500.8 v-2.8 M413.9 355.3 v2.8 M460.1 500.8 v-2.8 M460.1 355.3 v2.8 M506.2 500.8 v-2.8 M506.2 355.3 v2.8 M552.3 500.8 v-2.8 M552.3 355.3 v2.8 M598.5 500.8 v-2.8 M598.5 355.3 v2.8 M367.8 471.7 h2.8 M644.6 471.7 h-2.8 M367.8 442.6 h2.8 M644.6 442.6 h-2.8 M367.8 413.5 h2.8 M644.6 413.5 h-2.8 M367.8 384.4 h2.8 M644.6 384.4 h-2.8" stroke="#6a6a6a" stroke-width="0.8" fill="none"/>
<text x="358.09" y="520.60" font-size="13.5" textLength="19.42" lengthAdjust="spacingAndGlyphs">0.6</text>
<text x="404.22" y="520.60" font-size="13.5" textLength="19.42" lengthAdjust="spacingAndGlyphs">0.7</text>
<text x="450.36" y="520.60" font-size="13.5" textLength="19.42" lengthAdjust="spacingAndGlyphs">0.8</text>
<text x="496.49" y="520.60" font-size="13.5" textLength="19.42" lengthAdjust="spacingAndGlyphs">0.9</text>
<text x="548.45" y="520.60" font-size="13.5" textLength="7.77" lengthAdjust="spacingAndGlyphs">1</text>
<text x="588.76" y="520.60" font-size="13.5" textLength="19.42" lengthAdjust="spacingAndGlyphs">1.1</text>
<text x="634.89" y="520.60" font-size="13.5" textLength="19.42" lengthAdjust="spacingAndGlyphs">1.2</text>
<text x="354.03" y="505.70" font-size="13.5" textLength="7.77" lengthAdjust="spacingAndGlyphs">0</text>
<text x="342.38" y="476.60" font-size="13.5" textLength="19.42" lengthAdjust="spacingAndGlyphs">0.2</text>
<text x="342.38" y="447.50" font-size="13.5" textLength="19.42" lengthAdjust="spacingAndGlyphs">0.4</text>
<text x="342.38" y="418.40" font-size="13.5" textLength="19.42" lengthAdjust="spacingAndGlyphs">0.6</text>
<text x="342.38" y="389.30" font-size="13.5" textLength="19.42" lengthAdjust="spacingAndGlyphs">0.8</text>
<text x="354.03" y="360.20" font-size="13.5" textLength="7.77" lengthAdjust="spacingAndGlyphs">1</text>
<text x="449.6" y="541.2" font-size="14.8" textLength="113.3" lengthAdjust="spacingAndGlyphs">Wavelength (μm)</text>
<text transform="translate(23.2 471.8) rotate(-90)" font-size="14.8" textLength="82.5" lengthAdjust="spacingAndGlyphs">Reflectance</text>
<text x="58.0" y="370.9" font-size="15.5" font-weight="bold" textLength="24.8" lengthAdjust="spacingAndGlyphs">TM</text>
<text x="371.0" y="371.9" font-size="15.5" font-weight="bold" textLength="20.6" lengthAdjust="spacingAndGlyphs">TE</text>
<clipPath id="clipC0"><rect x="55.6" y="350" width="277" height="151.5"/></clipPath>
<clipPath id="clipC1"><rect x="367.8" y="350" width="277" height="151.5"/></clipPath>
<g clip-path="url(#clipC0)"><path d="M55.6 486.6 C56.2 486.1 58.0 484.8 59.3 483.8 C60.6 482.9 61.9 482.3 63.6 480.9 C65.3 479.5 67.4 477.6 69.3 475.2 C71.2 472.8 73.2 469.6 75.1 466.6 C77.0 463.6 79.1 459.7 80.8 457.2 C82.5 454.7 83.9 453.8 85.1 451.5 C86.3 449.2 86.9 446.4 88.0 443.6 C89.1 440.9 90.3 438.1 91.5 435.0 C92.7 431.9 94.3 427.1 95.1 425.0 C95.9 422.9 95.4 423.8 96.3 422.5 C97.2 421.2 99.1 418.7 100.5 417.0 C101.9 415.3 103.2 413.5 104.6 412.2 C106.0 410.9 107.3 409.7 108.7 409.2 C110.1 408.7 111.5 409.2 112.9 409.4 C114.3 409.5 115.4 410.0 117.0 410.1 C118.6 410.2 120.7 410.2 122.5 410.1 C124.3 410.0 126.4 409.5 128.0 409.4 C129.6 409.3 130.6 409.2 132.2 409.4 C133.8 409.6 135.6 410.2 137.7 410.8 C139.8 411.4 142.8 412.5 144.6 412.9 C146.4 413.3 146.4 412.9 148.8 413.4 C151.2 413.8 155.6 415.5 159.0 415.6 C162.4 415.7 165.8 415.1 169.2 414.1 C172.6 413.1 175.8 411.1 179.4 409.7 C183.1 408.2 186.7 406.6 191.1 405.4 C195.5 404.2 200.8 403.2 205.7 402.4 C210.6 401.5 215.7 400.8 220.3 400.3 C224.9 399.8 229.7 399.5 233.4 399.5 C237.1 399.5 239.6 400.7 242.3 400.5 C245.0 400.3 246.9 399.0 249.6 398.1 C252.3 397.2 255.2 396.0 258.4 395.1 C261.6 394.2 265.2 393.4 268.6 393.0 C272.0 392.6 274.7 392.7 278.8 392.7 C282.9 392.7 289.5 392.7 293.4 393.0 C297.3 393.3 299.5 393.8 302.2 394.4 C304.9 395.0 307.1 396.5 309.5 396.6 C311.9 396.7 314.1 395.8 316.8 395.1 C319.5 394.4 322.9 392.9 325.5 392.2 C328.1 391.5 331.4 391.0 332.6 390.8" fill="none" stroke="#000000" stroke-width="1.5" stroke-linejoin="round"/></g>
<g clip-path="url(#clipC0)"><path d="M55.6 497.4 C57.9 497.2 65.1 496.6 69.3 496.0 C73.5 495.4 77.0 494.5 80.8 493.8 C84.6 493.1 88.4 492.2 92.0 492.0 C95.6 491.8 98.9 491.9 102.3 492.4 C105.7 492.9 107.7 494.4 112.3 495.2 C116.9 496.0 122.0 496.5 130.0 497.0 C137.9 497.5 148.3 497.9 160.0 498.0 C171.7 498.1 187.5 498.2 200.0 497.5 C212.5 496.8 226.7 494.7 235.0 493.6 C243.3 492.5 244.7 491.6 249.6 490.7 C254.5 489.8 259.8 488.8 264.2 488.5 C268.6 488.2 272.2 488.7 275.9 489.2 C279.5 489.7 282.0 491.3 286.1 491.4 C290.2 491.5 295.8 490.9 300.7 490.0 C305.6 489.1 310.0 487.4 315.3 486.3 C320.6 485.2 329.7 483.9 332.6 483.4" fill="none" stroke="#00ff00" stroke-width="1.5" stroke-linejoin="round"/></g>
<g clip-path="url(#clipC0)"><path d="M55.6 496.0 C56.5 495.8 58.7 495.1 60.7 494.5 C62.8 493.9 65.8 493.5 67.9 492.4 C70.1 491.3 71.7 489.8 73.6 488.1 C75.5 486.4 77.7 484.7 79.4 482.3 C81.1 479.9 82.5 476.8 83.7 473.7 C84.9 470.6 85.7 466.3 86.5 463.7 C87.3 461.1 87.7 460.1 88.7 458.0 C89.7 455.9 90.8 453.2 92.3 450.8 C93.8 448.4 96.3 446.0 98.0 443.6 C99.7 441.2 100.9 437.9 102.3 436.5 C103.7 435.1 104.9 435.2 106.6 435.0 C108.3 434.8 110.6 435.2 112.3 435.0 C114.0 434.8 115.2 434.2 116.6 433.6 C118.0 433.0 119.2 431.5 120.9 431.4 C122.6 431.3 124.5 432.4 126.7 432.9 C128.8 433.4 131.4 434.3 133.8 434.3 C136.2 434.3 138.5 433.4 141.0 432.9 C143.5 432.3 146.5 431.8 148.8 431.0 C151.1 430.2 152.8 429.2 155.0 428.0 C157.2 426.8 158.8 425.4 161.9 423.6 C165.0 421.8 169.9 418.7 173.6 417.0 C177.2 415.3 180.6 414.2 183.8 413.4 C187.0 412.5 189.7 412.1 192.6 411.9 C195.5 411.7 198.6 411.8 201.3 412.2 C204.0 412.6 205.9 413.4 208.6 414.1 C211.3 414.8 214.5 415.9 217.4 416.3 C220.3 416.7 223.2 416.8 226.1 416.3 C229.0 415.8 232.3 414.4 235.0 413.4 C237.7 412.4 239.4 409.9 242.3 410.2 C245.2 410.4 249.3 413.9 252.5 414.9 C255.7 415.9 258.1 416.0 261.3 416.0 C264.5 416.0 267.6 415.4 271.5 414.9 C275.4 414.4 281.0 413.0 284.6 413.1 C288.2 413.2 290.7 414.6 293.4 415.6 C296.1 416.6 298.3 417.6 300.7 419.2 C303.1 420.8 305.3 422.6 308.0 425.0 C310.7 427.4 313.9 430.6 316.8 433.8 C319.7 437.0 322.9 441.1 325.5 444.0 C328.1 446.9 331.4 450.1 332.6 451.3" fill="none" stroke="#ff0000" stroke-width="1.5" stroke-linejoin="round"/></g>
<g clip-path="url(#clipC0)"><path d="M55.6 499.5 C58.8 499.4 70.6 499.3 75.0 499.0 C79.4 498.7 79.8 497.5 82.0 497.5 C84.2 497.5 81.7 498.7 88.0 499.0 C94.3 499.3 101.3 499.4 120.0 499.5 C138.7 499.6 176.7 499.6 200.0 499.5 C223.3 499.4 243.3 499.2 260.0 499.0 C276.7 498.8 287.9 498.5 300.0 498.0 C312.1 497.5 327.2 496.2 332.6 495.8" fill="none" stroke="#ff00ff" stroke-width="1.5" stroke-linejoin="round"/></g>
<g clip-path="url(#clipC0)"><path d="M55.6 495.2 C56.9 494.6 61.1 492.8 63.6 491.6 C66.1 490.4 68.5 489.2 70.8 488.1 C73.1 487.0 75.3 485.4 77.2 485.2 C79.1 484.9 80.4 485.5 82.2 486.6 C84.0 487.7 86.5 490.3 88.0 491.6 C89.5 492.9 90.1 494.9 91.5 494.5 C92.9 494.1 94.6 490.9 96.6 489.5 C98.6 488.1 101.1 486.8 103.7 485.9 C106.3 484.9 109.4 483.6 112.3 483.8 C115.2 484.0 118.0 487.2 120.9 487.3 C123.8 487.4 126.6 484.6 129.5 484.5 C132.4 484.4 135.5 485.8 138.1 486.6 C140.7 487.4 143.2 489.1 145.0 489.5 C146.8 489.9 146.7 488.5 148.8 489.2 C150.9 489.9 154.6 492.4 157.5 493.6 C160.4 494.8 163.1 495.9 166.3 496.5 C169.5 497.1 171.2 497.3 176.5 497.3 C181.8 497.3 191.1 496.8 198.4 496.5 C205.7 496.2 213.4 495.8 220.3 495.8 C227.2 495.8 232.7 496.4 240.0 496.5 C247.3 496.6 256.5 497.1 264.2 496.5 C271.9 495.9 280.0 494.1 286.1 492.9 C292.2 491.7 296.6 490.5 300.7 489.2 C304.8 487.9 307.7 486.8 310.9 484.9 C314.1 483.0 317.0 480.0 319.7 477.6 C322.4 475.2 324.9 472.4 327.0 470.3 C329.1 468.2 331.7 466.0 332.6 465.1" fill="none" stroke="#0000ff" stroke-width="1.5" stroke-linejoin="round"/></g>
<g clip-path="url(#clipC0)"><path d="M55.6 497.0 C59.7 496.8 72.6 496.0 80.0 496.0 C87.4 496.0 91.7 496.7 100.0 497.0 C108.3 497.3 113.3 497.9 130.0 498.0 C146.7 498.1 182.5 498.2 200.0 497.5 C217.5 496.8 224.3 494.6 235.0 493.6 C245.7 492.6 255.7 491.3 264.2 491.4 C272.7 491.5 274.7 493.4 286.1 494.3 C297.5 495.2 324.9 496.1 332.6 496.5" fill="none" stroke="#00ffff" stroke-width="1.5" stroke-linejoin="round"/></g>
<g clip-path="url(#clipC0)"><path d="M55.7 468.0 C56.1 467.3 56.6 466.6 57.9 463.7 C59.2 460.8 61.7 454.9 63.6 450.8 C65.5 446.7 67.5 443.0 69.3 439.3 C71.1 435.6 73.0 431.9 74.3 428.6 C75.6 425.4 75.8 422.9 77.0 419.8 C78.2 416.7 79.7 413.8 81.2 410.1 C82.7 406.4 84.4 401.1 86.0 397.7 C87.6 394.3 89.3 391.9 90.8 389.5 C92.3 387.1 93.6 384.8 95.0 383.3 C96.4 381.8 97.0 381.6 99.1 380.5 C101.2 379.4 104.4 378.0 107.4 377.0 C110.4 376.0 113.6 375.1 117.0 374.3 C120.4 373.5 124.2 372.6 128.0 372.2 C131.8 371.8 135.6 372.1 140.0 371.8 C144.4 371.5 149.7 370.6 154.6 370.3 C159.5 370.0 165.8 369.6 169.2 369.9 C172.6 370.1 173.4 371.1 175.0 371.8 C176.6 372.5 177.5 374.1 178.7 374.0 C179.9 373.9 180.7 371.8 182.3 371.1 C183.9 370.4 184.3 370.2 188.2 370.0 C192.1 369.8 200.1 369.8 205.7 369.9 C211.3 369.9 216.9 369.9 221.8 370.3 C226.7 370.7 230.4 372.1 235.0 372.2 C239.6 372.3 244.7 371.2 249.6 371.1 C254.5 371.0 260.1 371.3 264.2 371.8 C268.3 372.3 271.2 373.3 274.4 374.0 C277.6 374.7 280.0 376.2 283.2 376.2 C286.4 376.2 289.3 374.6 293.4 374.0 C297.5 373.4 303.1 372.8 308.0 372.5 C312.9 372.2 318.5 372.5 322.6 372.5 C326.7 372.5 330.9 372.5 332.6 372.5" fill="none" stroke="#000000" stroke-width="1.5" stroke-dasharray="9.8 6.4" stroke-dashoffset="-2.2" stroke-linejoin="round"/></g>
<g clip-path="url(#clipC0)"><path d="M55.6 499.0 C58.8 498.7 69.6 498.3 75.0 497.0 C80.4 495.7 84.7 491.8 88.0 491.0 C91.3 490.2 91.3 491.2 95.0 492.0 C98.7 492.8 100.8 494.9 110.0 496.0 C119.2 497.1 135.0 498.1 150.0 498.5 C165.0 498.9 181.7 498.6 200.0 498.5 C218.3 498.4 243.3 498.4 260.0 498.0 C276.7 497.6 287.9 497.0 300.0 496.0 C312.1 495.0 327.2 492.8 332.6 492.2" fill="none" stroke="#00ff00" stroke-width="1.5" stroke-dasharray="9.8 6.4" stroke-linejoin="round"/></g>
<g clip-path="url(#clipC0)"><path d="M55.6 491.0 C56.2 489.1 58.0 482.6 59.3 479.5 C60.6 476.4 62.2 474.2 63.6 472.3 C65.0 470.4 66.2 470.1 67.9 468.0 C69.6 465.9 71.7 462.4 73.6 459.4 C75.5 456.4 77.5 453.2 79.4 450.1 C81.3 447.0 83.2 444.0 85.1 440.8 C87.0 437.6 89.4 433.0 90.8 430.7 C92.2 428.4 92.1 428.2 93.7 427.1 C95.3 426.0 98.5 425.0 100.5 424.0 C102.5 423.0 103.7 422.4 106.0 421.2 C108.3 420.0 111.8 418.3 114.3 416.7 C116.8 415.1 119.1 413.1 121.2 411.5 C123.3 409.9 124.9 408.7 126.7 407.4 C128.5 406.1 129.9 405.3 132.2 403.9 C134.5 402.5 137.6 400.4 140.4 399.1 C143.2 397.8 145.7 397.2 148.8 395.9 C151.9 394.6 155.6 393.1 159.0 391.5 C162.4 389.9 166.6 387.6 169.2 386.4 C171.8 385.2 173.1 384.4 174.3 384.2 C175.5 383.9 175.8 384.2 176.5 384.9 C177.2 385.6 177.7 387.8 178.7 388.6 C179.7 389.5 181.0 390.0 182.3 390.0 C183.6 390.0 185.0 388.6 186.7 388.6 C188.4 388.6 190.4 389.3 192.6 390.0 C194.8 390.7 197.7 392.8 199.9 393.0 C202.1 393.2 203.5 392.2 205.7 391.5 C207.9 390.8 210.6 389.0 213.0 388.6 C215.4 388.2 217.9 388.2 220.3 388.9 C222.7 389.6 225.4 391.4 227.6 393.0 C229.8 394.6 231.7 397.7 233.4 398.8 C235.1 399.9 236.6 399.8 238.0 399.5 C239.4 399.2 240.3 398.5 242.0 397.0 C243.7 395.5 246.0 392.1 248.0 390.5 C250.0 388.9 252.3 387.8 254.0 387.1 C255.7 386.4 256.7 386.3 258.4 386.4 C260.1 386.5 262.3 386.9 264.2 387.8 C266.1 388.7 268.3 389.7 270.0 391.5 C271.7 393.3 272.9 396.4 274.4 398.8 C275.9 401.2 277.3 403.7 278.8 406.1 C280.3 408.5 281.2 411.7 283.2 413.4 C285.1 415.1 287.6 415.6 290.5 416.3 C293.4 417.0 296.6 416.8 300.7 417.8 C304.8 418.8 310.4 420.6 315.3 422.2 C320.2 423.8 327.0 426.3 329.9 427.3 C332.8 428.3 332.2 428.1 332.6 428.3" fill="none" stroke="#ff0000" stroke-width="1.5" stroke-dasharray="9.8 6.4" stroke-linejoin="round"/></g>
<g clip-path="url(#clipC0)"><path d="M55.6 498.0 C59.7 497.9 73.4 498.3 80.0 497.5 C86.6 496.7 91.8 495.2 95.0 493.0 C98.2 490.8 97.0 486.0 99.4 484.5 C101.8 483.0 106.2 484.1 109.5 483.8 C112.8 483.6 116.6 483.0 119.5 483.0 C122.4 483.0 124.1 483.4 126.7 483.8 C129.3 484.2 132.2 484.5 135.3 485.2 C138.4 485.9 142.8 486.9 145.0 488.1 C147.2 489.3 145.2 490.7 148.8 492.2 C152.4 493.7 161.7 496.6 166.3 497.3 C170.9 498.0 173.6 497.9 176.5 496.5 C179.4 495.1 181.4 491.1 183.8 489.2 C186.2 487.3 188.4 486.0 191.1 484.9 C193.8 483.8 197.0 482.7 199.9 482.7 C202.8 482.7 205.7 484.2 208.6 484.9 C211.5 485.6 214.2 487.0 217.4 487.0 C220.6 487.0 224.4 485.1 227.6 484.9 C230.8 484.7 234.3 485.1 236.4 485.6 C238.5 486.1 238.5 486.6 240.0 487.8 C241.5 489.0 241.5 491.7 245.2 492.9 C248.9 494.1 257.0 495.1 262.0 495.0 C267.0 494.9 271.2 493.7 275.0 492.0 C278.8 490.3 281.1 486.3 284.6 484.9 C288.2 483.5 292.4 483.6 296.3 483.4 C300.2 483.1 301.9 483.4 308.0 483.4 C314.1 483.3 328.5 483.2 332.6 483.1" fill="none" stroke="#ff00ff" stroke-width="1.5" stroke-dasharray="9.8 6.4" stroke-linejoin="round"/></g>
<g clip-path="url(#clipC0)"><path d="M55.6 496.0 C57.0 495.5 61.0 494.0 64.0 493.0 C67.0 492.0 71.0 490.9 73.6 490.2 C76.2 489.5 77.5 488.8 79.4 488.8 C81.3 488.8 82.9 490.3 85.1 490.2 C87.2 490.1 90.1 488.7 92.3 488.1 C94.5 487.5 95.6 487.0 98.0 486.6 C100.4 486.2 104.2 485.9 106.6 485.9 C109.0 485.9 110.1 485.9 112.3 486.6 C114.5 487.3 116.6 489.4 119.5 490.2 C122.4 491.0 126.4 491.2 129.5 491.6 C132.6 492.0 135.5 492.0 138.1 492.4 C140.7 492.8 141.3 493.1 145.0 493.8 C148.7 494.5 154.2 495.8 160.0 496.5 C165.8 497.2 171.7 497.8 180.0 498.0 C188.3 498.2 200.0 497.7 210.0 497.5 C220.0 497.3 231.7 497.4 240.0 497.0 C248.3 496.6 254.8 496.1 260.0 495.0 C265.2 493.9 267.9 492.1 271.5 490.7 C275.1 489.2 279.3 487.4 281.7 486.3 C284.1 485.2 283.7 484.8 286.1 484.1 C288.5 483.4 292.7 482.4 296.3 481.9 C299.9 481.4 304.1 481.9 308.0 481.2 C311.9 480.5 315.6 478.6 319.7 477.6 C323.8 476.6 330.5 475.8 332.6 475.4" fill="none" stroke="#0000ff" stroke-width="1.5" stroke-dasharray="9.8 6.4" stroke-linejoin="round"/></g>
<g clip-path="url(#clipC0)"><path d="M55.6 495.2 C58.1 494.7 67.3 493.2 70.8 492.4 C74.3 491.6 74.3 490.2 76.5 490.2 C78.7 490.2 81.1 491.6 83.7 492.4 C86.3 493.2 87.5 494.6 92.3 495.2 C97.1 495.8 106.6 496.0 112.3 496.0 C118.0 496.0 121.2 495.3 126.7 495.2 C132.2 495.1 136.1 494.9 145.0 495.2 C153.9 495.5 165.3 497.4 180.0 497.0 C194.7 496.6 223.0 493.8 233.0 493.0 C243.0 492.2 233.8 492.3 240.0 492.5 C246.2 492.7 254.6 493.2 270.0 494.0 C285.4 494.8 322.2 496.5 332.6 497.0" fill="none" stroke="#00ffff" stroke-width="1.5" stroke-dasharray="9.8 6.4" stroke-linejoin="round"/></g>
<g clip-path="url(#clipC1)"><path d="M367.9 479.4 C368.4 478.8 369.3 476.8 370.7 475.9 C372.1 474.9 374.8 474.4 376.5 473.7 C378.2 473.0 379.4 472.8 380.8 471.6 C382.2 470.4 383.7 468.5 385.1 466.6 C386.5 464.7 388.1 462.7 389.4 460.1 C390.7 457.5 391.8 453.1 392.9 450.8 C394.0 448.5 394.8 447.9 395.8 446.5 C396.8 445.1 397.8 443.6 398.7 442.2 C399.6 440.8 400.6 439.7 401.5 437.9 C402.4 436.1 403.3 433.5 404.4 431.4 C405.5 429.2 407.3 426.4 408.0 425.0 C408.7 423.6 408.1 423.4 408.7 423.0 C409.3 422.6 410.7 423.0 411.5 422.3 C412.3 421.6 412.8 420.5 413.5 418.8 C414.2 417.1 414.9 413.2 415.6 411.9 C416.3 410.6 417.0 411.7 417.7 411.2 C418.4 410.7 418.9 409.4 419.8 409.1 C420.7 408.8 421.6 409.4 423.3 409.4 C425.0 409.3 427.9 408.9 430.2 408.8 C432.5 408.8 434.8 408.8 437.1 409.1 C439.4 409.4 441.8 409.8 444.1 410.5 C446.4 411.2 448.4 412.2 451.0 413.3 C453.6 414.4 457.5 416.6 460.0 417.4 C462.5 418.2 463.2 417.5 466.1 418.1 C469.0 418.7 474.0 420.7 477.2 420.9 C480.4 421.1 482.3 420.8 485.5 419.5 C488.7 418.2 492.9 415.4 496.6 413.3 C500.3 411.2 503.5 409.0 507.7 407.0 C511.9 405.0 517.0 403.0 521.6 401.5 C526.2 400.0 530.7 398.8 535.4 398.0 C540.1 397.2 545.2 397.2 550.0 396.5 C554.8 395.8 559.5 394.4 564.3 393.6 C569.1 392.8 573.8 392.2 578.6 391.9 C583.4 391.5 588.6 391.4 592.9 391.5 C597.2 391.6 601.3 391.9 604.4 392.2 C607.5 392.5 608.6 393.2 611.5 393.3 C614.4 393.4 617.9 393.1 621.5 392.5 C625.1 391.9 629.1 390.6 633.0 390.0 C636.9 389.4 642.7 389.2 644.6 389.0" fill="none" stroke="#000000" stroke-width="1.5" stroke-linejoin="round"/></g>
<g clip-path="url(#clipC1)"><path d="M367.9 490.9 C369.3 491.3 372.8 492.4 376.5 493.1 C380.2 493.8 384.4 494.4 390.0 495.0 C395.6 495.6 400.0 496.5 410.0 497.0 C420.0 497.5 432.9 497.8 450.0 498.0 C467.1 498.2 495.6 498.6 512.3 498.1 C529.0 497.7 541.3 496.0 550.0 495.3 C558.7 494.6 559.5 493.9 564.3 493.9 C569.1 493.8 573.9 495.0 578.7 495.0 C583.5 495.0 587.7 494.4 593.0 493.9 C598.3 493.3 605.5 491.7 610.3 491.7 C615.1 491.7 616.0 493.6 621.7 493.9 C627.4 494.1 640.8 493.3 644.6 493.2" fill="none" stroke="#00ff00" stroke-width="1.5" stroke-linejoin="round"/></g>
<g clip-path="url(#clipC1)"><path d="M367.9 490.2 C368.6 489.5 370.5 487.0 372.2 485.9 C373.9 484.8 376.0 484.2 377.9 483.7 C379.8 483.2 381.9 483.5 383.6 483.0 C385.3 482.5 386.6 482.2 387.9 480.9 C389.2 479.6 390.3 477.3 391.5 475.2 C392.7 473.1 393.8 469.7 395.1 468.0 C396.4 466.3 398.1 466.5 399.4 465.1 C400.7 463.7 401.8 461.9 403.0 459.4 C404.2 456.9 405.5 452.7 406.6 450.1 C407.7 447.5 408.4 444.7 409.4 443.6 C410.3 442.5 411.2 444.8 412.3 443.6 C413.4 442.4 414.7 437.8 415.9 436.5 C417.1 435.2 417.8 435.7 419.4 435.7 C420.9 435.7 423.0 436.2 425.2 436.5 C427.4 436.8 429.9 436.5 432.3 437.2 C434.7 437.9 437.1 439.7 439.5 440.8 C441.9 441.9 444.1 442.9 446.7 443.6 C449.3 444.3 452.4 445.1 455.0 445.1 C457.6 445.1 459.8 444.3 462.2 443.6 C464.6 442.9 466.9 442.5 469.3 440.8 C471.7 439.1 474.6 435.4 476.5 433.6 C478.4 431.8 478.5 432.0 480.7 430.0 C482.9 428.0 486.6 423.9 489.7 421.6 C492.8 419.3 496.4 417.2 499.4 416.0 C502.4 414.8 504.9 414.7 507.7 414.6 C510.5 414.5 513.2 415.6 516.0 415.3 C518.8 415.0 521.1 413.6 524.3 412.6 C527.5 411.6 531.1 410.4 535.4 409.1 C539.7 407.9 545.2 405.9 550.0 405.1 C554.8 404.3 559.5 404.4 564.3 404.4 C569.1 404.4 573.8 404.5 578.6 405.1 C583.4 405.7 588.1 406.5 592.9 407.9 C597.7 409.3 603.2 412.0 607.2 413.7 C611.2 415.4 613.9 416.3 617.2 418.0 C620.6 419.7 624.1 421.6 627.3 423.7 C630.4 425.8 633.2 428.7 636.1 430.7 C639.0 432.7 643.2 434.9 644.6 435.8" fill="none" stroke="#ff0000" stroke-width="1.5" stroke-linejoin="round"/></g>
<g clip-path="url(#clipC1)"><path d="M367.9 499.0 C376.6 499.1 398.0 499.4 420.0 499.5 C442.0 499.6 471.2 499.4 500.0 499.5 C528.8 499.6 573.9 500.3 593.0 500.3 C612.1 500.3 606.0 500.2 614.6 499.6 C623.2 499.1 639.6 497.4 644.6 497.0" fill="none" stroke="#ff00ff" stroke-width="1.5" stroke-linejoin="round"/></g>
<g clip-path="url(#clipC1)"><path d="M367.9 493.8 C368.8 493.8 371.8 493.6 373.6 493.8 C375.4 494.0 376.9 495.3 378.6 494.9 C380.3 494.5 381.6 492.8 383.6 491.6 C385.6 490.5 388.7 488.8 390.8 488.0 C392.9 487.2 394.6 487.1 396.5 486.6 C398.4 486.1 400.6 484.5 402.3 485.2 C404.0 485.9 405.2 490.7 406.6 490.9 C408.0 491.1 409.0 487.4 410.9 486.6 C412.8 485.8 415.6 486.4 418.0 485.9 C420.4 485.4 422.6 484.3 425.2 483.7 C427.8 483.1 430.5 482.9 433.8 482.3 C437.1 481.7 442.1 480.2 445.2 480.2 C448.3 480.2 450.8 481.8 452.4 482.3 C454.0 482.8 453.4 482.2 455.0 483.0 C456.6 483.8 459.8 486.1 462.2 487.3 C464.6 488.5 466.7 488.8 469.3 490.2 C471.9 491.6 475.0 494.5 477.9 495.9 C480.8 497.3 483.1 498.2 486.5 498.8 C489.9 499.4 493.2 499.9 498.0 499.5 C502.8 499.1 510.0 497.0 515.2 496.6 C520.5 496.2 523.7 497.0 529.5 497.4 C535.3 497.8 541.8 499.0 550.0 498.9 C558.2 498.8 570.3 497.6 578.7 496.7 C587.1 495.8 594.7 494.1 600.2 493.2 C605.7 492.2 608.1 492.3 611.7 491.0 C615.3 489.7 618.1 487.3 621.7 485.3 C625.3 483.3 629.4 480.8 633.2 478.8 C637.0 476.8 642.7 474.1 644.6 473.1" fill="none" stroke="#0000ff" stroke-width="1.5" stroke-linejoin="round"/></g>
<g clip-path="url(#clipC1)"><path d="M367.9 495.0 C373.2 495.2 389.6 496.2 400.0 496.0 C410.4 495.8 420.8 494.9 430.0 494.0 C439.2 493.1 448.9 491.2 455.0 490.9 C461.1 490.6 462.9 491.4 466.5 492.3 C470.1 493.2 472.4 495.5 476.5 496.6 C480.6 497.7 478.6 498.3 490.8 498.8 C503.1 499.3 530.6 499.6 550.0 499.6 C569.4 499.6 591.6 499.5 607.4 498.9 C623.2 498.3 638.4 496.5 644.6 496.0" fill="none" stroke="#00ffff" stroke-width="1.5" stroke-linejoin="round"/></g>
<g clip-path="url(#clipC1)"><path d="M367.9 455.1 C368.5 453.7 370.0 449.6 371.4 446.5 C372.8 443.4 374.8 440.1 376.5 436.5 C378.2 432.9 379.9 427.2 381.5 425.0 C383.1 422.8 384.4 423.6 385.8 423.0 C387.2 422.4 388.6 423.0 390.0 421.6 C391.4 420.2 392.8 417.2 394.1 414.6 C395.4 412.1 396.7 409.3 397.6 406.3 C398.5 403.3 399.0 398.6 399.7 396.6 C400.4 394.6 401.0 396.1 401.8 394.5 C402.6 392.9 403.5 388.9 404.5 386.9 C405.5 384.9 406.7 383.7 408.0 382.7 C409.3 381.7 410.1 381.1 412.2 380.7 C414.3 380.2 417.7 380.7 420.5 380.0 C423.3 379.3 426.3 377.6 428.8 376.5 C431.3 375.4 433.4 374.3 435.7 373.7 C438.0 373.1 440.6 372.9 442.7 373.0 C444.8 373.1 446.6 373.7 448.2 374.4 C449.8 375.1 451.0 376.7 452.4 377.2 C453.8 377.7 455.2 377.4 456.5 377.2 C457.8 377.0 458.9 376.4 460.0 375.8 C461.1 375.2 461.4 374.6 463.3 373.7 C465.2 372.8 468.4 371.1 471.6 370.3 C474.8 369.5 477.4 369.2 482.7 368.9 C488.0 368.6 497.7 368.6 503.5 368.6 C509.3 368.6 512.5 368.7 517.4 368.9 C522.3 369.1 527.3 369.3 532.7 369.6 C538.1 369.9 542.4 370.6 550.0 370.7 C557.6 370.8 569.1 370.1 578.6 370.0 C588.1 369.9 597.7 370.0 607.2 370.0 C616.7 370.0 629.6 370.1 635.8 370.0 C642.0 369.9 643.1 369.4 644.6 369.3" fill="none" stroke="#000000" stroke-width="1.5" stroke-dasharray="9.8 6.4" stroke-dashoffset="-2.2" stroke-linejoin="round"/></g>
<g clip-path="url(#clipC1)"><path d="M367.9 493.0 C370.8 493.5 376.3 495.2 385.0 496.0 C393.7 496.8 404.2 497.1 420.0 497.5 C435.8 497.9 458.3 498.4 480.0 498.5 C501.7 498.6 531.2 498.4 550.0 498.2 C568.8 498.0 577.2 498.0 593.0 497.5 C608.8 497.0 636.0 495.7 644.6 495.3" fill="none" stroke="#00ff00" stroke-width="1.5" stroke-dasharray="9.8 6.4" stroke-linejoin="round"/></g>
<g clip-path="url(#clipC1)"><path d="M367.9 483.7 C368.5 482.0 370.3 476.5 371.4 473.7 C372.5 470.9 373.3 468.8 374.3 466.6 C375.3 464.5 376.1 463.0 377.2 460.8 C378.3 458.6 379.6 455.0 380.8 453.7 C382.0 452.4 383.1 452.8 384.3 452.9 C385.5 453.0 386.7 454.3 387.9 454.4 C389.1 454.5 390.2 454.1 391.5 453.5 C392.8 452.9 394.5 452.4 395.8 450.8 C397.1 449.2 397.8 446.5 399.4 443.6 C400.9 440.7 403.2 436.2 405.1 433.6 C407.0 431.0 409.6 429.0 410.9 427.9 C412.2 426.8 411.9 428.2 412.8 427.1 C413.7 426.1 415.4 423.2 416.3 421.6 C417.2 420.0 417.5 418.7 418.4 417.4 C419.3 416.1 420.4 414.9 421.9 413.9 C423.4 412.9 425.3 411.9 427.4 411.2 C429.5 410.5 432.0 409.9 434.3 409.8 C436.6 409.7 439.0 409.9 441.3 410.5 C443.6 411.1 446.2 412.8 448.2 413.3 C450.2 413.8 451.8 414.0 453.1 413.3 C454.4 412.6 454.8 411.0 455.8 409.1 C456.8 407.2 457.9 404.3 459.2 402.2 C460.4 400.1 461.4 398.2 463.3 396.6 C465.2 395.0 467.1 393.4 470.3 392.4 C473.5 391.4 478.8 391.1 482.7 390.4 C486.6 389.7 490.6 389.1 493.8 388.3 C497.1 387.5 499.4 386.1 502.2 385.5 C505.0 384.9 507.7 384.6 510.5 384.8 C513.3 385.0 516.0 386.0 518.8 386.9 C521.6 387.8 524.3 389.1 527.1 390.4 C529.9 391.7 532.6 393.4 535.4 394.5 C538.2 395.6 540.6 396.6 543.8 397.3 C546.9 398.0 549.7 398.3 554.3 398.6 C558.9 398.9 566.2 398.8 571.5 399.3 C576.8 399.8 581.8 400.5 585.8 401.5 C589.8 402.5 592.2 403.4 595.8 405.1 C599.4 406.8 603.6 409.6 607.2 411.5 C610.8 413.4 614.1 414.7 617.2 416.5 C620.3 418.3 622.7 420.3 625.8 422.2 C628.9 424.1 632.7 426.1 635.8 428.0 C638.9 429.9 643.1 432.6 644.6 433.5" fill="none" stroke="#ff0000" stroke-width="1.5" stroke-dasharray="9.8 6.4" stroke-linejoin="round"/></g>
<g clip-path="url(#clipC1)"><path d="M367.9 497.0 C370.8 496.8 379.8 496.8 385.0 496.0 C390.2 495.2 394.4 492.7 399.4 492.3 C404.4 491.9 410.1 493.3 415.1 493.8 C420.1 494.3 423.5 495.6 429.5 495.2 C435.5 494.8 445.1 491.8 451.0 491.6 C456.9 491.4 460.5 493.4 465.0 494.0 C469.5 494.6 473.6 495.7 477.9 495.2 C482.2 494.7 487.4 492.3 490.8 490.9 C494.2 489.5 494.4 487.3 498.0 486.6 C501.6 485.9 507.5 487.0 512.3 486.6 C517.1 486.2 521.8 485.3 526.6 484.5 C531.4 483.7 537.1 482.4 541.0 481.6 C544.9 480.8 546.1 479.6 550.0 479.5 C553.9 479.4 558.3 480.3 564.3 481.0 C570.3 481.7 578.7 483.1 585.9 483.8 C593.1 484.5 600.2 484.8 607.4 485.3 C614.6 485.8 622.7 486.3 628.9 486.7 C635.1 487.1 642.0 487.7 644.6 487.9" fill="none" stroke="#ff00ff" stroke-width="1.5" stroke-dasharray="9.8 6.4" stroke-linejoin="round"/></g>
<g clip-path="url(#clipC1)"><path d="M367.9 496.0 C369.9 495.7 376.2 495.4 380.0 494.0 C383.8 492.6 387.6 488.8 390.8 487.3 C394.0 485.8 396.5 485.7 399.4 485.2 C402.3 484.7 404.7 484.3 408.0 484.5 C411.3 484.7 415.8 485.5 419.4 486.6 C423.0 487.7 426.1 489.9 429.5 490.9 C432.9 491.8 435.9 491.9 439.5 492.3 C443.1 492.7 447.6 492.9 451.0 493.1 C454.4 493.4 455.2 493.2 460.0 493.8 C464.8 494.4 470.0 496.1 480.0 497.0 C490.0 497.9 508.3 498.8 520.0 499.0 C531.7 499.2 541.4 498.8 550.0 498.2 C558.6 497.6 565.5 496.3 571.5 495.3 C577.5 494.3 581.6 493.6 585.9 492.4 C590.2 491.2 593.3 489.8 597.4 488.1 C601.5 486.4 605.8 484.8 610.3 482.4 C614.8 480.0 620.3 476.3 624.6 473.8 C628.9 471.3 632.8 469.1 636.1 467.3 C639.4 465.5 643.2 463.7 644.6 463.0" fill="none" stroke="#0000ff" stroke-width="1.5" stroke-dasharray="9.8 6.4" stroke-linejoin="round"/></g>
<g clip-path="url(#clipC1)"><path d="M367.9 497.0 C373.2 496.9 391.9 497.4 400.0 496.5 C408.1 495.6 412.4 492.7 416.6 491.6 C420.8 490.6 421.9 490.1 425.2 490.2 C428.5 490.3 432.3 492.2 436.6 492.3 C440.9 492.4 447.1 491.1 451.0 490.9 C454.9 490.7 456.0 490.5 460.0 491.2 C464.0 491.9 468.3 493.9 475.0 495.0 C481.7 496.1 485.8 497.4 500.0 498.0 C514.2 498.6 535.9 498.8 560.0 498.5 C584.1 498.2 630.5 496.8 644.6 496.5" fill="none" stroke="#00ffff" stroke-width="1.5" stroke-dasharray="9.8 6.4" stroke-linejoin="round"/></g>
<rect x="55.6" y="355.3" width="277.0" height="145.5" fill="none" stroke="#6a6a6a" stroke-width="0.9"/>
<rect x="367.8" y="355.3" width="276.8" height="145.5" fill="none" stroke="#6a6a6a" stroke-width="0.9"/>
<line x1="171.8" y1="431.8" x2="190.4" y2="431.8" stroke="#000000" stroke-width="1.5"/><text x="195.8" y="437.4" font-size="13.3">Total</text><line x1="239.3" y1="431.8" x2="257.9" y2="431.8" stroke="#ff00ff" stroke-width="1.5"/><text x="263.6" y="437.4" font-size="13.3">m=-2</text><line x1="171.8" y1="450.0" x2="190.4" y2="450.0" stroke="#00ff00" stroke-width="1.5"/><text x="195.8" y="455.6" font-size="13.3">m=-1</text><line x1="239.3" y1="450.0" x2="257.9" y2="450.0" stroke="#0000ff" stroke-width="1.5"/><text x="263.6" y="455.6" font-size="13.3">m=0</text><line x1="171.8" y1="468.2" x2="190.4" y2="468.2" stroke="#ff0000" stroke-width="1.5"/><text x="195.8" y="473.8" font-size="13.3">m=+1</text><line x1="239.3" y1="468.2" x2="257.9" y2="468.2" stroke="#00ffff" stroke-width="1.5"/><text x="263.6" y="473.8" font-size="13.3">m=+2</text>
<line x1="493.2" y1="430.4" x2="511.8" y2="430.4" stroke="#000000" stroke-width="1.5"/><text x="517.2" y="436.0" font-size="13.3">Total</text><line x1="560.7" y1="430.4" x2="579.3" y2="430.4" stroke="#ff00ff" stroke-width="1.5"/><text x="585.0" y="436.0" font-size="13.3">m=-2</text><line x1="493.2" y1="448.6" x2="511.8" y2="448.6" stroke="#00ff00" stroke-width="1.5"/><text x="517.2" y="454.2" font-size="13.3">m=-1</text><line x1="560.7" y1="448.6" x2="579.3" y2="448.6" stroke="#0000ff" stroke-width="1.5"/><text x="585.0" y="454.2" font-size="13.3">m=0</text><line x1="493.2" y1="466.8" x2="511.8" y2="466.8" stroke="#ff0000" stroke-width="1.5"/><text x="517.2" y="472.4" font-size="13.3">m=+1</text><line x1="560.7" y1="466.8" x2="579.3" y2="466.8" stroke="#00ffff" stroke-width="1.5"/><text x="585.0" y="472.4" font-size="13.3">m=+2</text>
</svg>
</body></html>
